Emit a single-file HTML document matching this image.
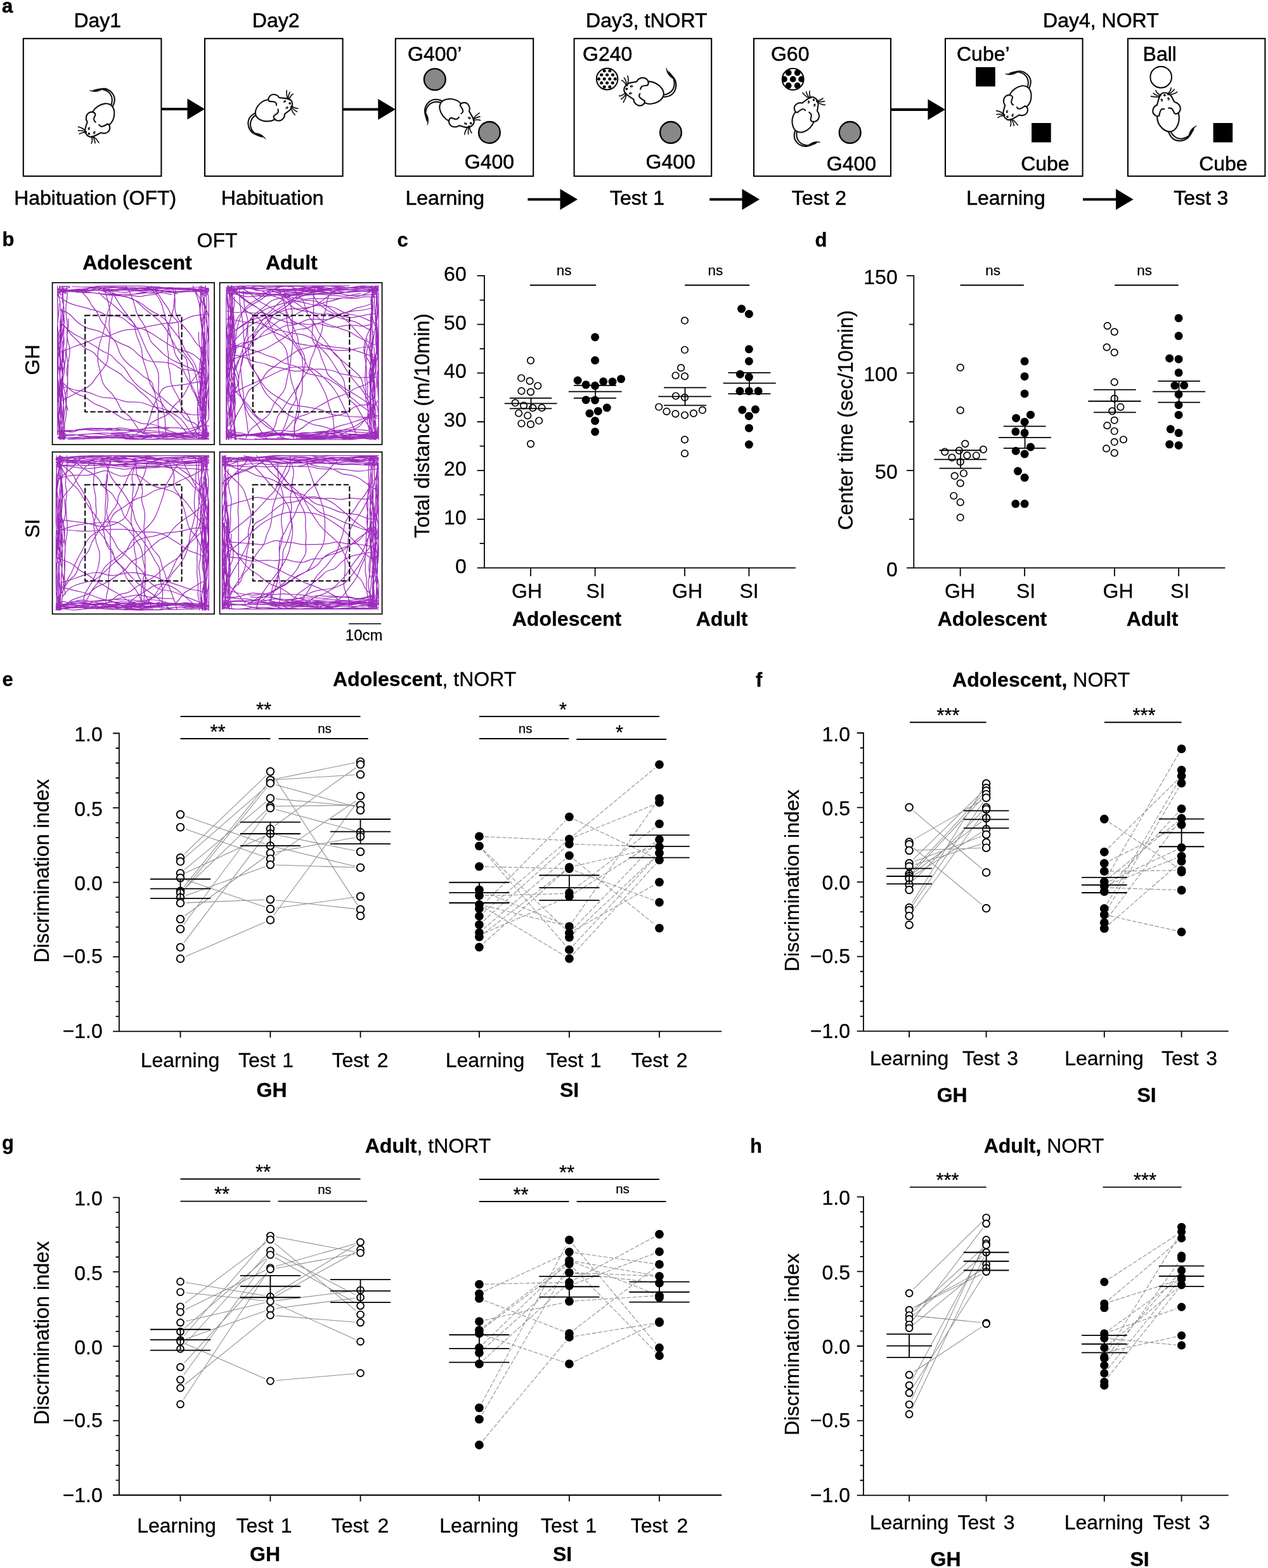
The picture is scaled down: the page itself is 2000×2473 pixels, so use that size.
<!DOCTYPE html>
<html lang="en"><head><meta charset="utf-8"><title>Figure</title>
<style>html,body{margin:0;padding:0;background:#fff}svg{display:block}text{font-family:"Liberation Sans", "DejaVu Sans", sans-serif;fill:#000;stroke:#000;stroke-width:0.3px;stroke-linejoin:round}#panel-a text{stroke-width:0.55px}#panel-b text{stroke-width:0.4px}</style>
</head><body>
<svg width="2000" height="2473" viewBox="0 0 2000 2473" font-family='"Liberation Sans", "DejaVu Sans", sans-serif' font-size="32">
<rect width="2000" height="2473" fill="#fff"/>
<defs>
<pattern id="stip" width="1.6" height="2.8" patternUnits="userSpaceOnUse"><rect width="1.6" height="2.8" fill="#ececec"/><circle cx="0.4" cy="0.7" r="0.62" fill="#1c1c1c"/><circle cx="1.2" cy="2.1" r="0.62" fill="#1c1c1c"/></pattern>
</defs>
<g id="panel-a">
<text x="3" y="19.5" font-weight="bold" font-size="31">a</text>
<rect x="36.8" y="60.8" width="217.6" height="217" fill="#fff" stroke="#000" stroke-width="2.05"/>
<rect x="323" y="60.8" width="217.6" height="217" fill="#fff" stroke="#000" stroke-width="2.05"/>
<rect x="623.8" y="60.8" width="217.4" height="217" fill="#fff" stroke="#000" stroke-width="2.05"/>
<rect x="905.6" y="60.8" width="216.6" height="217" fill="#fff" stroke="#000" stroke-width="2.05"/>
<rect x="1189" y="60.8" width="216" height="217" fill="#fff" stroke="#000" stroke-width="2.05"/>
<rect x="1491" y="60.8" width="216.6" height="217" fill="#fff" stroke="#000" stroke-width="2.05"/>
<rect x="1779" y="60.8" width="216.4" height="217" fill="#fff" stroke="#000" stroke-width="2.05"/>
<text x="153.8" y="43.2" text-anchor="middle">Day1</text>
<text x="435.2" y="43.2" text-anchor="middle">Day2</text>
<text x="1019.8" y="43.2" text-anchor="middle">Day3, tNORT</text>
<text x="1736.4" y="43.2" text-anchor="middle">Day4, NORT</text>
<text x="150.2" y="322.5" text-anchor="middle">Habituation (OFT)</text>
<text x="429.7" y="322.5" text-anchor="middle">Habituation</text>
<text x="701.8" y="322.5" text-anchor="middle">Learning</text>
<text x="1005" y="322.5" text-anchor="middle" word-spacing="0.7">Test 1</text>
<text x="1291.9" y="322.5" text-anchor="middle" word-spacing="0.7">Test 2</text>
<text x="1586.4" y="322.5" text-anchor="middle">Learning</text>
<text x="1894.3" y="322.5" text-anchor="middle" word-spacing="0.7">Test 3</text>
<path d="M254.4 172H296.5" stroke="#000" stroke-width="4.2" fill="none"/><path d="M323 172L295.5 155.6L295.5 188.4Z" fill="#000"/>
<path d="M540.6 172.5H597.3" stroke="#000" stroke-width="4.2" fill="none"/><path d="M623.8 172.5L596.3 156.1L596.3 188.9Z" fill="#000"/>
<path d="M1405 172.8H1464.5" stroke="#000" stroke-width="4.2" fill="none"/><path d="M1491 172.8L1463.5 156.4L1463.5 189.2Z" fill="#000"/>
<path d="M832.4 314.5H884.5" stroke="#000" stroke-width="4.2" fill="none"/><path d="M911 314.5L883.5 298.1L883.5 330.9Z" fill="#000"/>
<path d="M1119.2 314.5H1171.5" stroke="#000" stroke-width="4.2" fill="none"/><path d="M1198 314.5L1170.5 298.1L1170.5 330.9Z" fill="#000"/>
<path d="M1708 314.5H1761.1" stroke="#000" stroke-width="4.2" fill="none"/><path d="M1787.6 314.5L1760.1 298.1L1760.1 330.9Z" fill="#000"/>
<circle cx="685.8" cy="125.3" r="16.9" fill="url(#stip)" stroke="#000" stroke-width="2.3"/>
<circle cx="771.9" cy="208.9" r="16.9" fill="url(#stip)" stroke="#000" stroke-width="2.3"/>
<circle cx="1058" cy="208.9" r="16.9" fill="url(#stip)" stroke="#000" stroke-width="2.3"/>
<circle cx="1340.7" cy="208.9" r="16.9" fill="url(#stip)" stroke="#000" stroke-width="2.3"/>
<circle cx="957.6" cy="124.6" r="16.8" fill="#fff" stroke="#000" stroke-width="2"/>
<g fill="#000"><circle cx="953.2" cy="111.7" r="2.5"/><circle cx="961.8" cy="111.7" r="2.5"/><circle cx="948.7" cy="118" r="2.5"/><circle cx="957.6" cy="118" r="2.5"/><circle cx="966.5" cy="118" r="2.5"/><circle cx="944.5" cy="124.6" r="2.5"/><circle cx="953.2" cy="124.6" r="2.5"/><circle cx="961.8" cy="124.6" r="2.5"/><circle cx="970.3" cy="124.6" r="2.5"/><circle cx="948.7" cy="130.7" r="2.5"/><circle cx="957.6" cy="130.7" r="2.5"/><circle cx="966.2" cy="130.7" r="2.5"/><circle cx="953.2" cy="137" r="2.5"/><circle cx="961.8" cy="137" r="2.5"/></g>
<clipPath id="c60"><circle cx="1250.7" cy="124.9" r="17.2"/></clipPath>
<circle cx="1250.7" cy="124.9" r="16.9" fill="#fff" stroke="#000" stroke-width="2"/>
<g fill="#000" clip-path="url(#c60)"><circle cx="1250.7" cy="124.9" r="4.9"/><circle cx="1243.7" cy="114.8" r="4.9"/><circle cx="1257.7" cy="114.8" r="4.9"/><circle cx="1236.9" cy="124.9" r="4.9"/><circle cx="1264.1" cy="124.9" r="4.9"/><circle cx="1243.7" cy="135" r="4.9"/><circle cx="1257.7" cy="135" r="4.9"/></g>
<rect x="1539.2" y="105.9" width="30.6" height="30.5" fill="#000"/>
<rect x="1627.1" y="194" width="30.6" height="30.5" fill="#000"/>
<rect x="1913.6" y="194" width="30.6" height="30.5" fill="#000"/>
<circle cx="1831.2" cy="121.7" r="16.8" fill="#fff" stroke="#000" stroke-width="2"/>
<text x="685.7" y="96.1" text-anchor="middle">G400’</text>
<text x="772" y="265.9" text-anchor="middle">G400</text>
<text x="958.2" y="96.1" text-anchor="middle">G240</text>
<text x="1057.7" y="265.9" text-anchor="middle">G400</text>
<text x="1246.2" y="96.1" text-anchor="middle">G60</text>
<text x="1343" y="269.2" text-anchor="middle">G400</text>
<text x="1550.8" y="96.3" text-anchor="middle">Cube’</text>
<text x="1648.4" y="269.1" text-anchor="middle">Cube</text>
<text x="1829.3" y="96.1" text-anchor="middle">Ball</text>
<text x="1929.4" y="269.1" text-anchor="middle">Cube</text>
<g transform="translate(175.7 166.2) rotate(0) scale(0.06912) translate(-1095.13 -668.36)"><g fill="none" stroke="#111" stroke-width="31" stroke-linecap="round" stroke-linejoin="round">
<path d="M1128 684C1162 620 1182 556 1162 478C1140 398 1062 310 950 288C860 272 770 312 700 322"/>
<path d="M1086 662C1112 608 1120 540 1100 470C1076 392 1000 324 905 306"/>
<path d="M600 327C650 360 730 366 800 343C850 325 900 302 945 290C880 284 800 300 740 320C690 334 640 336 600 327Z" fill="#111" stroke-width="9"/>
<path d="M665 818C720 720 830 642 950 627C1010 621 1060 640 1095 668C1140 710 1165 780 1162 860C1158 960 1110 1060 1045 1112" fill="#fff"/>
<path d="M665 820C620 815 570 835 540 880C515 920 512 985 532 1022C542 1036 548 1042 545 1052C530 1100 505 1160 497 1200C490 1250 505 1312 540 1350C570 1385 620 1396 660 1385C720 1366 800 1322 860 1290C900 1312 950 1312 1000 1285C1045 1258 1065 1210 1058 1160C1052 1125 1030 1098 1000 1095" fill="#fff"/>
<path d="M1000 1095C960 1120 900 1160 860 1150C840 1145 825 1130 815 1110"/>
<path d="M665 822C700 828 728 850 730 880C725 910 690 950 695 990C700 1020 715 1040 735 1052"/>
<g stroke-width="24">
<path d="M525 1270C470 1210 400 1170 340 1160"/>
<path d="M520 1277C460 1246 400 1240 340 1247"/>
<path d="M520 1287C460 1280 400 1295 365 1322"/>
<path d="M640 1376C662 1430 660 1490 640 1535"/>
<path d="M660 1376C700 1420 720 1480 722 1530"/>
<path d="M680 1373C730 1410 780 1470 808 1522"/>
</g>
<ellipse cx="585" cy="1195" rx="24" ry="36" transform="rotate(28 585 1195)" fill="#111" stroke="none"/>
<ellipse cx="708" cy="1288" rx="24" ry="36" transform="rotate(28 708 1288)" fill="#111" stroke="none"/>
<circle cx="596" cy="1190" r="10" fill="#fff" stroke="none"/>
<circle cx="720" cy="1283" r="10" fill="#fff" stroke="none"/>
<circle cx="583" cy="1316" r="27" fill="#111" stroke="none"/>
</g></g>
<g transform="translate(403.2 180.8) rotate(-146.58) scale(0.06884) translate(-1095.13 -668.36)"><g fill="none" stroke="#111" stroke-width="31" stroke-linecap="round" stroke-linejoin="round">
<path d="M1128 684C1162 620 1182 556 1162 478C1140 398 1062 310 950 288C860 272 770 312 700 322"/>
<path d="M1086 662C1112 608 1120 540 1100 470C1076 392 1000 324 905 306"/>
<path d="M600 327C650 360 730 366 800 343C850 325 900 302 945 290C880 284 800 300 740 320C690 334 640 336 600 327Z" fill="#111" stroke-width="9"/>
<path d="M665 818C720 720 830 642 950 627C1010 621 1060 640 1095 668C1140 710 1165 780 1162 860C1158 960 1110 1060 1045 1112" fill="#fff"/>
<path d="M665 820C620 815 570 835 540 880C515 920 512 985 532 1022C542 1036 548 1042 545 1052C530 1100 505 1160 497 1200C490 1250 505 1312 540 1350C570 1385 620 1396 660 1385C720 1366 800 1322 860 1290C900 1312 950 1312 1000 1285C1045 1258 1065 1210 1058 1160C1052 1125 1030 1098 1000 1095" fill="#fff"/>
<path d="M1000 1095C960 1120 900 1160 860 1150C840 1145 825 1130 815 1110"/>
<path d="M665 822C700 828 728 850 730 880C725 910 690 950 695 990C700 1020 715 1040 735 1052"/>
<g stroke-width="24">
<path d="M525 1270C470 1210 400 1170 340 1160"/>
<path d="M520 1277C460 1246 400 1240 340 1247"/>
<path d="M520 1287C460 1280 400 1295 365 1322"/>
<path d="M640 1376C662 1430 660 1490 640 1535"/>
<path d="M660 1376C700 1420 720 1480 722 1530"/>
<path d="M680 1373C730 1410 780 1470 808 1522"/>
</g>
<ellipse cx="585" cy="1195" rx="24" ry="36" transform="rotate(28 585 1195)" fill="#111" stroke="none"/>
<ellipse cx="708" cy="1288" rx="24" ry="36" transform="rotate(28 708 1288)" fill="#111" stroke="none"/>
<circle cx="596" cy="1190" r="10" fill="#fff" stroke="none"/>
<circle cx="720" cy="1283" r="10" fill="#fff" stroke="none"/>
<circle cx="583" cy="1316" r="27" fill="#111" stroke="none"/>
</g></g>
<g transform="translate(695.9 161.4) rotate(-93.07) scale(0.06942) translate(-1095.13 -668.36)"><g fill="none" stroke="#111" stroke-width="31" stroke-linecap="round" stroke-linejoin="round">
<path d="M1128 684C1162 620 1182 556 1162 478C1140 398 1062 310 950 288C860 272 770 312 700 322"/>
<path d="M1086 662C1112 608 1120 540 1100 470C1076 392 1000 324 905 306"/>
<path d="M600 327C650 360 730 366 800 343C850 325 900 302 945 290C880 284 800 300 740 320C690 334 640 336 600 327Z" fill="#111" stroke-width="9"/>
<path d="M665 818C720 720 830 642 950 627C1010 621 1060 640 1095 668C1140 710 1165 780 1162 860C1158 960 1110 1060 1045 1112" fill="#fff"/>
<path d="M665 820C620 815 570 835 540 880C515 920 512 985 532 1022C542 1036 548 1042 545 1052C530 1100 505 1160 497 1200C490 1250 505 1312 540 1350C570 1385 620 1396 660 1385C720 1366 800 1322 860 1290C900 1312 950 1312 1000 1285C1045 1258 1065 1210 1058 1160C1052 1125 1030 1098 1000 1095" fill="#fff"/>
<path d="M1000 1095C960 1120 900 1160 860 1150C840 1145 825 1130 815 1110"/>
<path d="M665 822C700 828 728 850 730 880C725 910 690 950 695 990C700 1020 715 1040 735 1052"/>
<g stroke-width="24">
<path d="M525 1270C470 1210 400 1170 340 1160"/>
<path d="M520 1277C460 1246 400 1240 340 1247"/>
<path d="M520 1287C460 1280 400 1295 365 1322"/>
<path d="M640 1376C662 1430 660 1490 640 1535"/>
<path d="M660 1376C700 1420 720 1480 722 1530"/>
<path d="M680 1373C730 1410 780 1470 808 1522"/>
</g>
<ellipse cx="585" cy="1195" rx="24" ry="36" transform="rotate(28 585 1195)" fill="#111" stroke="none"/>
<ellipse cx="708" cy="1288" rx="24" ry="36" transform="rotate(28 708 1288)" fill="#111" stroke="none"/>
<circle cx="596" cy="1190" r="10" fill="#fff" stroke="none"/>
<circle cx="720" cy="1283" r="10" fill="#fff" stroke="none"/>
<circle cx="583" cy="1316" r="27" fill="#111" stroke="none"/>
</g></g>
<g transform="translate(1046.6 150.3) rotate(-298.57) scale(0.07147) translate(-1095.13 -668.36)"><g fill="none" stroke="#111" stroke-width="31" stroke-linecap="round" stroke-linejoin="round">
<path d="M1128 684C1162 620 1182 556 1162 478C1140 398 1062 310 950 288C860 272 770 312 700 322"/>
<path d="M1086 662C1112 608 1120 540 1100 470C1076 392 1000 324 905 306"/>
<path d="M600 327C650 360 730 366 800 343C850 325 900 302 945 290C880 284 800 300 740 320C690 334 640 336 600 327Z" fill="#111" stroke-width="9"/>
<path d="M665 818C720 720 830 642 950 627C1010 621 1060 640 1095 668C1140 710 1165 780 1162 860C1158 960 1110 1060 1045 1112" fill="#fff"/>
<path d="M665 820C620 815 570 835 540 880C515 920 512 985 532 1022C542 1036 548 1042 545 1052C530 1100 505 1160 497 1200C490 1250 505 1312 540 1350C570 1385 620 1396 660 1385C720 1366 800 1322 860 1290C900 1312 950 1312 1000 1285C1045 1258 1065 1210 1058 1160C1052 1125 1030 1098 1000 1095" fill="#fff"/>
<path d="M1000 1095C960 1120 900 1160 860 1150C840 1145 825 1130 815 1110"/>
<path d="M665 822C700 828 728 850 730 880C725 910 690 950 695 990C700 1020 715 1040 735 1052"/>
<g stroke-width="24">
<path d="M525 1270C470 1210 400 1170 340 1160"/>
<path d="M520 1277C460 1246 400 1240 340 1247"/>
<path d="M520 1287C460 1280 400 1295 365 1322"/>
<path d="M640 1376C662 1430 660 1490 640 1535"/>
<path d="M660 1376C700 1420 720 1480 722 1530"/>
<path d="M680 1373C730 1410 780 1470 808 1522"/>
</g>
<ellipse cx="585" cy="1195" rx="24" ry="36" transform="rotate(28 585 1195)" fill="#111" stroke="none"/>
<ellipse cx="708" cy="1288" rx="24" ry="36" transform="rotate(28 708 1288)" fill="#111" stroke="none"/>
<circle cx="596" cy="1190" r="10" fill="#fff" stroke="none"/>
<circle cx="720" cy="1283" r="10" fill="#fff" stroke="none"/>
<circle cx="583" cy="1316" r="27" fill="#111" stroke="none"/>
</g></g>
<g transform="translate(1256.4 207) rotate(-189.55) scale(0.06810) translate(-1095.13 -668.36)"><g fill="none" stroke="#111" stroke-width="31" stroke-linecap="round" stroke-linejoin="round">
<path d="M1128 684C1162 620 1182 556 1162 478C1140 398 1062 310 950 288C860 272 770 312 700 322"/>
<path d="M1086 662C1112 608 1120 540 1100 470C1076 392 1000 324 905 306"/>
<path d="M600 327C650 360 730 366 800 343C850 325 900 302 945 290C880 284 800 300 740 320C690 334 640 336 600 327Z" fill="#111" stroke-width="9"/>
<path d="M665 818C720 720 830 642 950 627C1010 621 1060 640 1095 668C1140 710 1165 780 1162 860C1158 960 1110 1060 1045 1112" fill="#fff"/>
<path d="M665 820C620 815 570 835 540 880C515 920 512 985 532 1022C542 1036 548 1042 545 1052C530 1100 505 1160 497 1200C490 1250 505 1312 540 1350C570 1385 620 1396 660 1385C720 1366 800 1322 860 1290C900 1312 950 1312 1000 1285C1045 1258 1065 1210 1058 1160C1052 1125 1030 1098 1000 1095" fill="#fff"/>
<path d="M1000 1095C960 1120 900 1160 860 1150C840 1145 825 1130 815 1110"/>
<path d="M665 822C700 828 728 850 730 880C725 910 690 950 695 990C700 1020 715 1040 735 1052"/>
<g stroke-width="24">
<path d="M525 1270C470 1210 400 1170 340 1160"/>
<path d="M520 1277C460 1246 400 1240 340 1247"/>
<path d="M520 1287C460 1280 400 1295 365 1322"/>
<path d="M640 1376C662 1430 660 1490 640 1535"/>
<path d="M660 1376C700 1420 720 1480 722 1530"/>
<path d="M680 1373C730 1410 780 1470 808 1522"/>
</g>
<ellipse cx="585" cy="1195" rx="24" ry="36" transform="rotate(28 585 1195)" fill="#111" stroke="none"/>
<ellipse cx="708" cy="1288" rx="24" ry="36" transform="rotate(28 708 1288)" fill="#111" stroke="none"/>
<circle cx="596" cy="1190" r="10" fill="#fff" stroke="none"/>
<circle cx="720" cy="1283" r="10" fill="#fff" stroke="none"/>
<circle cx="583" cy="1316" r="27" fill="#111" stroke="none"/>
</g></g>
<g transform="translate(1621.2 137.7) rotate(-3.56) scale(0.06860) translate(-1095.13 -668.36)"><g fill="none" stroke="#111" stroke-width="31" stroke-linecap="round" stroke-linejoin="round">
<path d="M1128 684C1162 620 1182 556 1162 478C1140 398 1062 310 950 288C860 272 770 312 700 322"/>
<path d="M1086 662C1112 608 1120 540 1100 470C1076 392 1000 324 905 306"/>
<path d="M600 327C650 360 730 366 800 343C850 325 900 302 945 290C880 284 800 300 740 320C690 334 640 336 600 327Z" fill="#111" stroke-width="9"/>
<path d="M665 818C720 720 830 642 950 627C1010 621 1060 640 1095 668C1140 710 1165 780 1162 860C1158 960 1110 1060 1045 1112" fill="#fff"/>
<path d="M665 820C620 815 570 835 540 880C515 920 512 985 532 1022C542 1036 548 1042 545 1052C530 1100 505 1160 497 1200C490 1250 505 1312 540 1350C570 1385 620 1396 660 1385C720 1366 800 1322 860 1290C900 1312 950 1312 1000 1285C1045 1258 1065 1210 1058 1160C1052 1125 1030 1098 1000 1095" fill="#fff"/>
<path d="M1000 1095C960 1120 900 1160 860 1150C840 1145 825 1130 815 1110"/>
<path d="M665 822C700 828 728 850 730 880C725 910 690 950 695 990C700 1020 715 1040 735 1052"/>
<g stroke-width="24">
<path d="M525 1270C470 1210 400 1170 340 1160"/>
<path d="M520 1277C460 1246 400 1240 340 1247"/>
<path d="M520 1287C460 1280 400 1295 365 1322"/>
<path d="M640 1376C662 1430 660 1490 640 1535"/>
<path d="M660 1376C700 1420 720 1480 722 1530"/>
<path d="M680 1373C730 1410 780 1470 808 1522"/>
</g>
<ellipse cx="585" cy="1195" rx="24" ry="36" transform="rotate(28 585 1195)" fill="#111" stroke="none"/>
<ellipse cx="708" cy="1288" rx="24" ry="36" transform="rotate(28 708 1288)" fill="#111" stroke="none"/>
<circle cx="596" cy="1190" r="10" fill="#fff" stroke="none"/>
<circle cx="720" cy="1283" r="10" fill="#fff" stroke="none"/>
<circle cx="583" cy="1316" r="27" fill="#111" stroke="none"/>
</g></g>
<g transform="translate(1845.8 207.6) rotate(-227.1) scale(0.07045) translate(-1095.13 -668.36)"><g fill="none" stroke="#111" stroke-width="31" stroke-linecap="round" stroke-linejoin="round">
<path d="M1128 684C1162 620 1182 556 1162 478C1140 398 1062 310 950 288C860 272 770 312 700 322"/>
<path d="M1086 662C1112 608 1120 540 1100 470C1076 392 1000 324 905 306"/>
<path d="M600 327C650 360 730 366 800 343C850 325 900 302 945 290C880 284 800 300 740 320C690 334 640 336 600 327Z" fill="#111" stroke-width="9"/>
<path d="M665 818C720 720 830 642 950 627C1010 621 1060 640 1095 668C1140 710 1165 780 1162 860C1158 960 1110 1060 1045 1112" fill="#fff"/>
<path d="M665 820C620 815 570 835 540 880C515 920 512 985 532 1022C542 1036 548 1042 545 1052C530 1100 505 1160 497 1200C490 1250 505 1312 540 1350C570 1385 620 1396 660 1385C720 1366 800 1322 860 1290C900 1312 950 1312 1000 1285C1045 1258 1065 1210 1058 1160C1052 1125 1030 1098 1000 1095" fill="#fff"/>
<path d="M1000 1095C960 1120 900 1160 860 1150C840 1145 825 1130 815 1110"/>
<path d="M665 822C700 828 728 850 730 880C725 910 690 950 695 990C700 1020 715 1040 735 1052"/>
<g stroke-width="24">
<path d="M525 1270C470 1210 400 1170 340 1160"/>
<path d="M520 1277C460 1246 400 1240 340 1247"/>
<path d="M520 1287C460 1280 400 1295 365 1322"/>
<path d="M640 1376C662 1430 660 1490 640 1535"/>
<path d="M660 1376C700 1420 720 1480 722 1530"/>
<path d="M680 1373C730 1410 780 1470 808 1522"/>
</g>
<ellipse cx="585" cy="1195" rx="24" ry="36" transform="rotate(28 585 1195)" fill="#111" stroke="none"/>
<ellipse cx="708" cy="1288" rx="24" ry="36" transform="rotate(28 708 1288)" fill="#111" stroke="none"/>
<circle cx="596" cy="1190" r="10" fill="#fff" stroke="none"/>
<circle cx="720" cy="1283" r="10" fill="#fff" stroke="none"/>
<circle cx="583" cy="1316" r="27" fill="#111" stroke="none"/>
</g></g>
</g>
<g id="panel-b">
<text x="3.5" y="387.6" font-weight="bold" font-size="31">b</text>
<text x="342.6" y="390.3" text-anchor="middle">OFT</text>
<text x="216.4" y="425" text-anchor="middle" font-weight="bold">Adolescent</text>
<text x="459.8" y="425" text-anchor="middle" font-weight="bold">Adult</text>
<text x="62.4" y="567.5" text-anchor="middle" transform="rotate(-90 62.4 567.5)">GH</text>
<text x="62.4" y="833.4" text-anchor="middle" transform="rotate(-90 62.4 833.4)">SI</text>
<g fill="none" stroke="#9d2bbd" stroke-width="1.25" stroke-linejoin="round" stroke-linecap="round">
<path d="M114.3 452Q128.7 453 135.9 452.7Q143.1 452.5 150.4 452.6Q157.6 452.7 164.8 453.5Q172 454.3 179.2 453.7Q186.4 453.1 193.7 453.2L200.9 453.3M90.6 460.1Q103.6 458.7 110.1 459.6Q116.6 460.4 123.1 460Q129.5 459.6 136 460.3Q142.5 460.9 149 462.1Q155.5 463.2 162 463.7Q168.5 464.2 175 464.5Q181.5 464.8 188 464.4Q194.4 464 200.9 464.2Q207.4 464.5 213.9 463.8Q220.4 463.1 226.9 462.3L233.4 461.4M90.6 460.9Q102.4 460.1 108.4 459.8Q114.3 459.5 120.2 460.5Q126.1 461.6 132.1 461.6Q138 461.5 143.9 461.7Q149.8 461.9 155.8 463.1Q161.7 464.4 167.6 464.8Q173.5 465.2 179.5 465.9Q185.4 466.6 191.3 466.6Q197.2 466.6 203.2 466.2Q209.1 465.8 215 467.1Q220.9 468.3 226.9 466.6Q232.8 464.9 238.7 464.9Q244.6 464.8 250.6 462.1Q256.5 459.4 262.4 459.5Q268.3 459.6 274.3 461.5L280.2 463.4M90.6 456.8Q102.9 457.7 109 457.4Q115.1 457.1 121.3 456.2Q127.4 455.3 133.5 456.9Q139.7 458.5 145.8 456.6Q151.9 454.6 158.1 454.6Q164.2 454.7 170.3 455.7Q176.5 456.8 182.6 457.2Q188.7 457.5 194.9 456.7Q201 456 207.1 456.8Q213.3 457.7 219.4 457.8Q225.6 458 231.7 458.9Q237.8 459.8 244 459.7Q250.1 459.6 256.2 457.8Q262.4 456 268.5 456Q274.6 456 280.8 456.6Q286.9 457.2 293 457.7L299.2 458.3M90.6 455.9Q102.8 457.4 108.9 458.2Q115.1 459.1 121.2 459Q127.3 458.9 133.4 459Q139.5 459.1 145.6 458.4Q151.7 457.7 157.8 455.8Q164 453.8 170.1 453Q176.2 452.2 182.3 453.4Q188.4 454.6 194.5 454.2Q200.6 453.9 206.7 453.6Q212.9 453.4 219 454.7Q225.1 456 231.2 454.6Q237.3 453.3 243.4 453.4Q249.5 453.5 255.6 454.5L261.8 455.5M165.2 457.3Q177.9 457.9 184.2 457.7Q190.5 457.5 196.8 457.5Q203.1 457.5 209.4 457.5Q215.8 457.4 222.1 457.2Q228.4 457 234.7 457.3Q241 457.7 247.3 458.1Q253.6 458.4 259.9 457Q266.3 455.6 272.6 455.7Q278.9 455.9 285.2 455.1Q291.5 454.4 297.8 455.7Q304.1 457 310.5 456.8Q316.8 456.6 323.1 457.3L329.4 458M213.7 463.4Q226.6 460.4 233 461.7Q239.4 463.1 245.9 462Q252.3 460.9 258.7 459.5Q265.1 458.2 271.6 459.1Q278 459.9 284.4 459.6Q290.8 459.2 297.3 459.7Q303.7 460.1 310.1 459.9Q316.5 459.7 323 459.7L329.4 459.8M90.6 456.6Q102.5 456.5 108.5 457.3Q114.5 458.1 120.4 457.9Q126.4 457.7 132.4 458Q138.4 458.3 144.3 457.5Q150.3 456.7 156.3 457.7Q162.2 458.7 168.2 459.2Q174.2 459.7 180.2 458.2Q186.1 456.7 192.1 456.3Q198.1 456 204 455.8Q210 455.6 216 455.1Q221.9 454.6 227.9 456Q233.9 457.4 239.8 457.2Q245.8 457.1 251.8 458.3Q257.8 459.6 263.7 460.7Q269.7 461.8 275.7 461.1Q281.6 460.5 287.6 460.5Q293.6 460.4 299.5 459.7Q305.5 459 311.5 458.7Q317.5 458.3 323.4 457.3L329.4 456.4M193.1 456Q205.5 457.5 211.7 457.8Q217.9 458 224.1 458.1Q230.3 458.2 236.5 457Q242.7 455.8 248.8 455.3Q255 454.8 261.2 455.2Q267.4 455.6 273.6 455.2Q279.8 454.8 286 455.3Q292.2 455.7 298.4 456.1Q304.6 456.5 310.8 456.3Q317 456 323.2 457L329.4 458M90.6 459.8Q102.5 458.1 108.5 458.4Q114.5 458.6 120.5 457.3Q126.4 456 132.4 455.5Q138.4 455.1 144.3 454.2Q150.3 453.3 156.3 453.2Q162.3 453.1 168.2 452.8Q174.2 452.4 180.2 452.7Q186.1 452.9 192.1 453.8Q198.1 454.6 204.1 456.4Q210 458.3 216 456Q222 453.7 227.9 454.4Q233.9 455 239.9 453.7Q245.9 452.4 251.8 453.4Q257.8 454.5 263.8 455Q269.7 455.5 275.7 455.3Q281.7 455.2 287.7 455.7Q293.6 456.2 299.6 457.2L305.6 458.2M115.9 459.7Q127.8 458.6 133.7 458.4Q139.7 458.3 145.6 458.1Q151.6 457.9 157.5 457.4Q163.5 457 169.4 458.1Q175.4 459.2 181.3 460Q187.3 460.7 193.2 461Q199.2 461.3 205.1 459.8Q211.1 458.3 217 458.8Q223 459.2 228.9 460.7Q234.9 462.3 240.8 461.8Q246.8 461.4 252.7 461.6Q258.7 461.8 264.7 463.3L270.6 464.7M182.8 458.6Q195 456.9 201.1 456.3Q207.2 455.6 213.4 454.7Q219.5 453.7 225.6 454.6Q231.7 455.5 237.8 455.5Q243.9 455.4 250 455Q256.1 454.7 262.2 453.8Q268.3 453 274.4 454.1Q280.5 455.2 286.6 455.7Q292.8 456.3 298.9 455.7Q305 455 311.1 456Q317.2 457.1 323.3 456.9L329.4 456.7M90.6 456.5Q103.4 457.2 109.9 458.1Q116.3 459 122.7 458Q129.1 457 135.6 455.4Q142 453.8 148.4 452.4Q154.8 451 161.3 451Q167.7 451 174.1 451Q180.5 451 186.9 451.1L193.4 451.2M90.6 461.6Q102.6 458.6 108.6 458.1Q114.6 457.5 120.6 457.4Q126.5 457.3 132.5 457.3Q138.5 457.4 144.5 457.5Q150.5 457.6 156.5 458Q162.5 458.5 168.5 458Q174.5 457.5 180.5 456.7Q186.4 456 192.4 455.8Q198.4 455.5 204.4 455.7Q210.4 455.9 216.4 454.4Q222.4 452.9 228.4 454Q234.4 455.1 240.4 455.7Q246.3 456.3 252.3 458Q258.3 459.7 264.3 459.5L270.3 459.3M138.3 454.5Q150.9 454.6 157.3 455Q163.6 455.5 170 456.5Q176.3 457.5 182.6 457.5Q189 457.5 195.3 456.5Q201.6 455.6 208 455.1Q214.3 454.6 220.7 454.6Q227 454.6 233.3 456.1Q239.7 457.6 246 456.1Q252.4 454.6 258.7 454.8L265 455M214.2 455.1Q227 454.1 233.4 453.1Q239.8 452 246.2 452.4Q252.6 452.7 259 453.7Q265.4 454.7 271.8 454.3Q278.2 453.8 284.6 454.2Q291 454.7 297.4 454.3Q303.8 453.9 310.2 453Q316.6 452.1 323 453.9L329.4 455.7M326.8 455.9Q328.9 468 329.2 474.1Q329.4 480.2 329.4 486.2Q329.4 492.3 329.4 498.4Q329.4 504.5 329.4 510.5Q329.4 516.6 329.4 522.7Q329.4 528.7 327.9 534.8Q326.4 540.9 326.8 546.9Q327.2 553 327.2 559.1Q327.2 565.2 328.3 571.2Q329.4 577.3 329.3 583.4Q329.3 589.4 329.3 595.5Q329.4 601.6 329.4 607.6Q329.4 613.7 329.4 619.8Q329.4 625.8 328.8 631.9Q328.2 638 328.8 644.1L329.4 650.1M323.7 451Q324.9 463.1 325.6 469.1Q326.2 475.2 326 481.2Q325.8 487.3 324 493.3Q322.3 499.4 322.6 505.4Q322.9 511.5 322.9 517.5Q323 523.6 323.2 529.6Q323.4 535.7 321.5 541.7Q319.6 547.8 319.7 553.8Q319.8 559.9 320.6 565.9Q321.3 572 321.2 578Q321.1 584 320.6 590.1Q320.1 596.1 318.4 602.2Q316.6 608.2 316.7 614.3Q316.8 620.3 318.6 626.4Q320.3 632.4 319.8 638.5Q319.2 644.5 319.1 650.6Q319 656.6 320.9 662.7Q322.9 668.7 323.4 674.8Q324 680.8 323 686.9L322.1 692.9M321.6 568.7Q324.9 581.2 324.8 587.4Q324.7 593.6 324.6 599.8Q324.5 606 323.9 612.2Q323.2 618.4 324.9 624.6Q326.5 630.8 325.7 637Q325 643.2 324.4 649.4Q323.8 655.7 324.5 661.9Q325.1 668.1 325.3 674.3Q325.5 680.5 324.5 686.7L323.5 692.9M323.1 540Q322.5 552.7 322.7 559.1Q323 565.4 321.9 571.8Q320.7 578.2 319.1 584.6Q317.5 590.9 319 597.3Q320.5 603.7 322.3 610.1Q324.2 616.4 323.7 622.8Q323.2 629.2 323.8 635.5Q324.5 641.9 323.1 648.3Q321.8 654.7 323.4 661Q325 667.4 324.6 673.8Q324.2 680.2 324.6 686.5L325.1 692.9M322.4 579.2Q321.3 591.8 322.6 598.2Q323.9 604.5 323.6 610.8Q323.3 617.1 322.5 623.4Q321.7 629.7 321.7 636.1Q321.7 642.4 320.6 648.7Q319.5 655 320.3 661.3Q321.1 667.6 320 674Q318.8 680.3 318.4 686.6L318.1 692.9M317.8 569.4Q318.2 581.8 318 588Q317.8 594.1 316.9 600.3Q316 606.5 318.3 612.6Q320.6 618.8 320.2 625Q319.8 631.2 321.1 637.3Q322.4 643.5 322.1 649.7Q321.9 655.9 321.2 662Q320.4 668.2 320.9 674.4Q321.4 680.6 321 686.7L320.6 692.9M317.5 547.5Q319.4 559.6 319.6 565.7Q319.7 571.7 318.5 577.8Q317.3 583.9 316.8 589.9Q316.2 596 317 602Q317.8 608.1 317.1 614.2Q316.5 620.2 316.1 626.3Q315.7 632.3 315.2 638.4Q314.7 644.4 315.1 650.5Q315.4 656.6 317 662.6Q318.6 668.7 319.1 674.7Q319.6 680.8 320.3 686.8L321.1 692.9M324.9 552.4Q324.9 565.1 323.9 571.5Q322.8 577.9 323.9 584.3Q324.9 590.7 324 597.1Q323 603.5 323.6 609.9Q324.2 616.2 325.6 622.6Q326.9 629 326.1 635.4Q325.3 641.8 325.3 648.2Q325.3 654.6 324.6 661Q324 667.3 325.8 673.7Q327.6 680.1 326.9 686.5L326.2 692.9M316 451Q316.5 463.1 316.3 469.1Q316.1 475.2 315.6 481.2Q315.1 487.3 315.2 493.3Q315.4 499.4 317.7 505.4Q320 511.5 319.1 517.5Q318.2 523.6 317.9 529.6Q317.5 535.7 318.2 541.7Q318.9 547.8 318.2 553.8Q317.5 559.9 317.3 565.9Q317.1 572 317.3 578Q317.5 584 317 590.1Q316.5 596.1 316.6 602.2Q316.8 608.2 317.4 614.3Q318 620.3 318.2 626.4Q318.3 632.4 318.2 638.5Q318.1 644.5 319.5 650.6Q320.9 656.6 320 662.7Q319.1 668.7 319.8 674.8Q320.5 680.8 321.3 686.9L322.1 692.9M320.2 498.9Q318 510.7 319.1 516.7Q320.2 522.6 321.3 528.6Q322.4 534.5 321.8 540.4Q321.2 546.4 320.9 552.3Q320.6 558.2 320.9 564.2Q321.2 570.1 319.9 576Q318.7 582 319.7 587.9Q320.8 593.9 319.7 599.8Q318.7 605.7 317.1 611.7Q315.5 617.6 315.3 623.5Q315.1 629.5 313.1 635.4Q311.1 641.4 311.5 647.3Q311.8 653.2 312.4 659.2Q312.9 665.1 312.4 671L311.9 677M318.6 451Q317.7 463.1 317.9 469.1Q318.1 475.2 316.6 481.2Q315.2 487.3 316.1 493.3Q317 499.4 318.3 505.4Q319.5 511.5 319.4 517.5Q319.3 523.6 320 529.6Q320.7 535.7 320.5 541.7Q320.4 547.8 321.3 553.8Q322.2 559.9 323.2 565.9Q324.2 572 324.2 578Q324.2 584 323.8 590.1Q323.5 596.1 324.5 602.2Q325.5 608.2 326.3 614.3Q327.1 620.3 324.4 626.4Q321.7 632.4 321 638.5Q320.3 644.5 319.8 650.6Q319.4 656.6 318.7 662.7Q318.1 668.7 319.6 674.8Q321.1 680.8 319.7 686.9L318.2 692.9M321.3 469.5Q318.4 482.1 319.4 488.4Q320.5 494.6 321.1 500.9Q321.7 507.2 320.6 513.4Q319.6 519.7 319.7 526Q319.9 532.2 320.9 538.5Q321.9 544.8 323 551.1Q324.1 557.3 323.1 563.6Q322.1 569.9 320.9 576.1Q319.6 582.4 321.1 588.7Q322.5 594.9 322.3 601.2Q322.1 607.5 321.4 613.7Q320.8 620 320.5 626.3L320.2 632.6M323.2 534.2Q325.1 546.4 323.7 552.5Q322.3 558.6 321.5 564.7Q320.8 570.8 320.8 576.9Q320.9 583 320.4 589.1Q319.9 595.2 319.8 601.3Q319.6 607.4 317.6 613.5Q315.6 619.6 316.2 625.7Q316.7 631.8 316.3 637.9Q315.9 644.1 317.3 650.2Q318.6 656.3 318.7 662.4Q318.8 668.5 319.5 674.6Q320.3 680.7 319.8 686.8L319.4 692.9M321.3 472.7Q322.4 484.3 322.5 490.1Q322.5 495.9 322.1 501.7Q321.6 507.5 322.7 513.3Q323.8 519.1 322.4 524.9Q321 530.7 321.2 536.5Q321.4 542.3 321.4 548.1Q321.4 553.9 320.7 559.6Q320 565.4 321 571.2Q321.9 577 319.6 582.8Q317.3 588.6 318.2 594.4Q319.1 600.2 319.6 606Q320.1 611.8 320.4 617.6Q320.7 623.4 321.5 629.2Q322.4 635 320.4 640.8Q318.5 646.6 319.6 652.3Q320.7 658.1 320.6 663.9Q320.4 669.7 321.5 675.5Q322.7 681.3 323.6 687.1L324.5 692.9M313.4 524.2Q313 536.3 314.5 542.3Q315.9 548.3 316.9 554.3Q318 560.4 316.5 566.4Q315 572.4 314.9 578.4Q314.7 584.5 314 590.5Q313.3 596.5 315 602.5Q316.6 608.6 315.3 614.6Q314 620.6 312.8 626.6Q311.6 632.7 311.9 638.7Q312.1 644.7 312.4 650.7Q312.7 656.8 312.8 662.8Q312.9 668.8 313.6 674.8Q314.2 680.9 313.7 686.9L313.2 692.9M324.4 451Q323.3 463.1 322.5 469.1Q321.8 475.2 323.6 481.2Q325.4 487.3 325.6 493.3Q325.9 499.4 326.4 505.4Q326.8 511.5 326.4 517.5Q325.9 523.6 325.8 529.6Q325.8 535.7 324.7 541.7Q323.6 547.8 323.9 553.8Q324.2 559.9 324.9 565.9Q325.7 572 326 578Q326.3 584 326.7 590.1Q327 596.1 325.8 602.2Q324.6 608.2 324.5 614.3Q324.4 620.3 323.6 626.4Q322.9 632.4 322.3 638.5Q321.7 644.5 322.8 650.6Q324 656.6 324.1 662.7Q324.2 668.7 323.9 674.8Q323.6 680.8 323.4 686.9L323.3 692.9M90.6 684.3Q102.5 687.8 108.5 687.3Q114.5 686.8 120.4 685.9Q126.4 685.1 132.4 684.8Q138.4 684.6 144.3 684.1Q150.3 683.5 156.3 683.1Q162.2 682.7 168.2 683.1Q174.2 683.5 180.2 682.9Q186.1 682.2 192.1 682.4Q198.1 682.6 204 681.2Q210 679.9 216 681Q221.9 682.1 227.9 683.1Q233.9 684 239.8 685.4Q245.8 686.8 251.8 685.6Q257.8 684.4 263.7 684.4Q269.7 684.3 275.7 683.5Q281.6 682.7 287.6 685.4Q293.6 688.1 299.5 687Q305.5 685.8 311.5 685.5Q317.5 685.3 323.4 684.7L329.4 684.2M90.6 689.5Q102.5 690.6 108.5 691Q114.5 691.4 120.4 690.9Q126.4 690.5 132.4 690.3Q138.4 690 144.3 688.7Q150.3 687.3 156.3 688.3Q162.2 689.2 168.2 689.5Q174.2 689.8 180.2 689.5Q186.1 689.2 192.1 688.5Q198.1 687.8 204 687.8Q210 687.8 216 688.4Q221.9 689 227.9 688.9Q233.9 688.8 239.8 688.8Q245.8 688.7 251.8 688.7Q257.8 688.6 263.7 688.7Q269.7 688.8 275.7 689.2Q281.6 689.7 287.6 691Q293.6 692.4 299.5 692.7Q305.5 692.9 311.5 692.8Q317.5 692.7 323.4 692.8L329.4 692.9M124.2 687.3Q136.6 688.6 142.8 689.2Q149 689.7 155.2 688.8Q161.4 687.9 167.6 688.1Q173.8 688.3 180 687.8Q186.2 687.3 192.4 686.3Q198.6 685.3 204.8 687.2Q211 689.1 217.2 688.7Q223.3 688.3 229.5 688.7Q235.7 689.1 241.9 688.2Q248.1 687.3 254.3 686Q260.5 684.7 266.7 684.7Q272.9 684.6 279.1 684.9Q285.3 685.1 291.5 687.2L297.7 689.2M130.3 677.6Q142.6 676.5 148.8 677Q154.9 677.4 161.1 676.7Q167.3 676 173.4 678.1Q179.6 680.3 185.8 678.9Q191.9 677.6 198.1 678.7Q204.3 679.9 210.4 678.8Q216.6 677.7 222.8 676.9Q228.9 676 235.1 675.2Q241.3 674.4 247.4 674.9Q253.6 675.3 259.8 675.6L265.9 675.8M90.6 679.4Q102.5 679.1 108.5 678.9Q114.5 678.8 120.4 678.5Q126.4 678.2 132.4 677.7Q138.4 677.3 144.3 676.8Q150.3 676.2 156.3 676.8Q162.2 677.3 168.2 675.9Q174.2 674.5 180.2 676.5Q186.1 678.5 192.1 678.3Q198.1 678 204 679Q210 679.9 216 680Q221.9 680 227.9 681.4Q233.9 682.8 239.8 682.2Q245.8 681.7 251.8 682.5Q257.8 683.4 263.7 684Q269.7 684.6 275.7 684.7Q281.6 684.8 287.6 683.6Q293.6 682.4 299.5 682.3Q305.5 682.1 311.5 682.5Q317.5 682.9 323.4 682.4L329.4 682M204.4 688.9Q216.9 689.2 223.1 688.1Q229.4 687 235.6 686.6Q241.9 686.2 248.1 686.7Q254.4 687.2 260.6 687.7Q266.9 688.3 273.1 688.4Q279.4 688.6 285.6 688.7Q291.9 688.9 298.1 688.5Q304.4 688.1 310.6 687.8Q316.9 687.5 323.1 686.4L329.4 685.3M127.3 686.9Q139.2 687.7 145.1 689.2Q151.1 690.7 157 691Q162.9 691.3 168.9 690.6Q174.8 689.8 180.8 689.4Q186.7 689 192.7 690.8Q198.6 692.6 204.6 692.7Q210.5 692.9 216.4 692.9Q222.4 692.9 228.3 692.9Q234.3 692.9 240.2 692.9Q246.2 692.9 252.1 692.9Q258.1 692.9 264 692.9Q270 692.9 275.9 692.9Q281.8 692.9 287.8 692.9Q293.7 692.9 299.7 692.9Q305.6 692.9 311.6 692.9Q317.5 692.9 323.5 692L329.4 691.1M208.4 685.2Q221.9 687.6 228.6 687.2Q235.3 686.9 242 688.3Q248.8 689.8 255.5 691Q262.2 692.3 268.9 691.8Q275.6 691.2 282.4 690.4Q289.1 689.5 295.8 690.2Q302.5 691 309.2 690.9Q316 690.8 322.7 689.6L329.4 688.3M90.6 681.2Q102.5 679.4 108.5 680.8Q114.5 682.2 120.4 679.7Q126.4 677.2 132.4 676.2Q138.4 675.3 144.3 675.4Q150.3 675.5 156.3 675.5Q162.2 675.4 168.2 676Q174.2 676.6 180.2 676.7Q186.1 676.8 192.1 677.8Q198.1 678.9 204 678.3Q210 677.7 216 677.5Q221.9 677.4 227.9 676.2Q233.9 675 239.8 674.3Q245.8 673.6 251.8 673.7Q257.8 673.9 263.7 674.3Q269.7 674.8 275.7 674.7Q281.6 674.6 287.6 676.1Q293.6 677.6 299.5 676Q305.5 674.5 311.5 672.8Q317.5 671.1 323.4 671.4L329.4 671.8M175.5 684.6Q188.4 682.8 194.8 683.8Q201.2 684.8 207.6 685.3Q214 685.8 220.4 686.2Q226.8 686.7 233.2 688Q239.6 689.3 246.1 689Q252.5 688.8 258.9 687.2Q265.3 685.6 271.7 684.8Q278.1 683.9 284.5 683.9Q290.9 683.9 297.3 684.5Q303.8 685.1 310.2 683.5Q316.6 681.9 323 682.7L329.4 683.5M139.7 689.2Q152.1 690.5 158.2 689.8Q164.4 689.2 170.6 689.9Q176.8 690.6 183 690.8Q189.2 691 195.4 690.9Q201.6 690.8 207.7 689.7Q213.9 688.6 220.1 688.9Q226.3 689.3 232.5 689.7L238.7 690.2M99.1 690.5Q111.5 690.4 117.7 689.8Q123.8 689.1 130 690.7Q136.2 692.3 142.4 691.9Q148.6 691.6 154.7 691.4Q160.9 691.2 167.1 690.7Q173.3 690.3 179.4 690.5Q185.6 690.8 191.8 691.2Q198 691.6 204.1 691.7Q210.3 691.7 216.5 692.2Q222.7 692.7 228.8 691.2L235 689.7M180.1 686.1Q192.5 686.8 198.7 687.8Q205 688.8 211.2 688.5Q217.4 688.1 223.6 687.7Q229.9 687.2 236.1 687Q242.3 686.7 248.5 687Q254.7 687.3 261 686.5Q267.2 685.7 273.4 685.9Q279.6 686.2 285.8 686.4Q292.1 686.7 298.3 686.5Q304.5 686.2 310.7 686.2Q317 686.2 323.2 686.6L329.4 686.9M99.2 686Q111.3 684.8 117.3 685.6Q123.4 686.4 129.4 685.7Q135.5 685 141.5 684.5Q147.6 683.9 153.7 684.2Q159.7 684.4 165.8 685.7Q171.8 687 177.9 686Q183.9 685.1 190 685.2Q196 685.2 202.1 686.9Q208.2 688.6 214.2 689.2Q220.3 689.8 226.3 690.2Q232.4 690.6 238.4 689.1Q244.5 687.6 250.5 688.5Q256.6 689.3 262.7 689.3Q268.7 689.2 274.8 687.6Q280.8 685.9 286.9 687.3Q292.9 688.7 299 687L305 685.3M90.6 682.2Q102.5 680.7 108.5 680.2Q114.5 679.7 120.4 678.1Q126.4 676.4 132.4 677.1Q138.4 677.8 144.3 678.6Q150.3 679.4 156.3 679.3Q162.2 679.2 168.2 678.5Q174.2 677.8 180.2 676.1Q186.1 674.4 192.1 675.2Q198.1 676 204 677Q210 677.9 216 678.1Q221.9 678.3 227.9 678.7Q233.9 679.2 239.8 679.5Q245.8 679.8 251.8 680.5Q257.8 681.2 263.7 682.3Q269.7 683.3 275.7 683.4Q281.6 683.5 287.6 682.7Q293.6 681.8 299.5 682.8Q305.5 683.8 311.5 684.7Q317.5 685.7 323.4 686.4L329.4 687M107.1 692.9Q119 692.2 125 692.4Q131 692.7 137 691.3Q142.9 690 148.9 690.1Q154.9 690.2 160.9 689.4Q166.8 688.6 172.8 690.1Q178.8 691.7 184.8 690.3Q190.7 688.9 196.7 689.7Q202.7 690.5 208.7 690.8Q214.7 691.2 220.6 692Q226.6 692.9 232.6 692.9Q238.6 692.9 244.5 692.9Q250.5 692.9 256.5 692.9L262.5 692.9M94.3 583.5Q94.4 597.2 96.2 604.1Q97.9 610.9 96.9 617.7Q95.9 624.6 96.4 631.4Q96.9 638.2 97.5 645.1Q98.1 651.9 98.3 658.7Q98.5 665.6 97.4 672.4Q96.3 679.2 96.8 686.1L97.2 692.9M101.2 451Q98.6 464.4 99.6 471.1Q100.6 477.8 99.7 484.5Q98.8 491.2 99.5 497.9Q100.2 504.7 100.7 511.4Q101.2 518.1 100.7 524.8Q100.1 531.5 100 538.2Q99.8 544.9 100.2 551.6Q100.6 558.3 99.9 565L99.3 571.7M99.1 552.8Q99 565.5 97.9 571.9Q96.8 578.3 95.2 584.6Q93.5 591 94.7 597.4Q95.8 603.8 94 610.1Q92.3 616.5 91.7 622.9Q91.1 629.2 90.8 635.6Q90.6 642 91.1 648.3Q91.6 654.7 92.3 661.1Q93.1 667.4 94.1 673.8Q95.1 680.2 94.5 686.5L93.9 692.9M98.3 451Q98.9 462.8 98.4 468.6Q98 474.5 99.8 480.4Q101.5 486.3 101.1 492.1Q100.6 498 101.2 503.9Q101.7 509.8 100.2 515.7Q98.6 521.5 97.6 527.4Q96.7 533.3 96.2 539.2Q95.8 545 93.8 550.9Q91.7 556.8 91.8 562.7Q91.9 568.5 91.9 574.4Q91.9 580.3 91.5 586.2Q91.1 592.1 91.1 597.9Q91.1 603.8 91.5 609.7Q91.8 615.6 91.2 621.4Q90.6 627.3 90.6 633.2Q90.6 639.1 90.6 645Q90.6 650.8 90.7 656.7Q90.9 662.6 90.7 668.5Q90.6 674.3 90.6 680.2L90.6 686.1M98.6 537.7Q97.6 549.6 97.9 555.6Q98.1 561.6 97.8 567.5Q97.4 573.5 98.7 579.5Q100.1 585.4 98.6 591.4Q97.1 597.4 95.5 603.3Q94 609.3 93.5 615.3Q93.1 621.3 94.1 627.2Q95.2 633.2 94.7 639.2Q94.3 645.1 94.7 651.1Q95.1 657.1 96.3 663Q97.5 669 98.1 675Q98.6 681 99.5 686.9L100.4 692.9M97.2 487.4Q99.8 499.2 98.6 505.1Q97.5 511 97.2 516.9Q96.8 522.7 96.3 528.6Q95.8 534.5 96 540.4Q96.2 546.3 94.9 552.2Q93.6 558.1 95.2 564Q96.7 569.9 95.5 575.8Q94.3 581.7 94.7 587.6Q95.1 593.5 94.2 599.4Q93.4 605.3 95 611.2Q96.6 617 96 622.9Q95.3 628.8 95 634.7Q94.7 640.6 94.5 646.5L94.4 652.4M107.8 502.6Q108.5 514.7 107 520.7Q105.5 526.7 105.6 532.7Q105.8 538.7 105.1 544.7Q104.4 550.7 104.8 556.7Q105.3 562.8 106.6 568.8Q108 574.8 107.4 580.8Q106.9 586.8 106.7 592.8Q106.5 598.8 106.8 604.8Q107 610.9 104.8 616.9Q102.5 622.9 103 628.9Q103.4 634.9 105.3 640.9L107.2 646.9M94 451Q91.2 463.1 93 469.1Q94.9 475.2 95.3 481.2Q95.6 487.3 96.1 493.3Q96.6 499.4 95.5 505.4Q94.4 511.5 94.9 517.5Q95.4 523.6 95.3 529.6Q95.1 535.7 93.3 541.7Q91.6 547.8 91.1 553.8Q90.7 559.9 90.7 565.9Q90.6 572 92.2 578Q93.9 584 94.1 590.1Q94.4 596.1 95.1 602.2Q95.9 608.2 97.2 614.3Q98.4 620.3 98.9 626.4Q99.4 632.4 100.2 638.5Q101 644.5 100.2 650.6Q99.4 656.6 99.7 662.7Q100 668.7 100.4 674.8Q100.9 680.8 100.7 686.9L100.6 692.9M104.8 451Q106.6 463.1 105.8 469.1Q105 475.2 104.3 481.2Q103.6 487.3 104.1 493.3Q104.6 499.4 105.6 505.4Q106.6 511.5 106 517.5Q105.5 523.6 105.7 529.6Q105.9 535.7 108.1 541.7Q110.4 547.8 110.1 553.8Q109.9 559.9 108.6 565.9Q107.4 572 106.1 578Q104.7 584 105.7 590.1Q106.7 596.1 106.4 602.2Q106.1 608.2 106.2 614.3Q106.3 620.3 105.4 626.4Q104.4 632.4 104.8 638.5Q105.2 644.5 104.8 650.6Q104.4 656.6 103 662.7Q101.6 668.7 101.6 674.8Q101.6 680.8 101.6 686.9L101.6 692.9M102.7 549.8Q104.4 561.7 103.1 567.7Q101.7 573.6 102 579.6Q102.3 585.5 100.5 591.5Q98.8 597.5 99.4 603.4Q100 609.4 101.4 615.4Q102.7 621.3 103.7 627.3Q104.8 633.3 103.9 639.2Q103.1 645.2 101.9 651.2Q100.7 657.1 100.5 663.1Q100.3 669 100.6 675Q100.9 681 101.5 686.9L102.1 692.9M99.8 519.8Q98.1 532.2 96.5 538.3Q95 544.5 95 550.7Q95 556.9 95.2 563.1Q95.4 569.3 97 575.4Q98.5 581.6 98.5 587.8Q98.4 594 98.5 600.2Q98.7 606.3 98.8 612.5Q99 618.7 97.6 624.9Q96.2 631.1 96 637.3Q95.7 643.4 96.4 649.6Q97.2 655.8 96.1 662Q95.1 668.2 94.8 674.4Q94.5 680.5 96.7 686.7L99 692.9M100.2 526.5Q101.6 538.4 100.6 544.3Q99.7 550.3 99.6 556.2Q99.5 562.2 100.6 568.1Q101.8 574 100.5 580Q99.3 585.9 98.1 591.9Q96.9 597.8 96.5 603.8Q96.2 609.7 97 615.6Q97.7 621.6 96.1 627.5Q94.5 633.5 94.8 639.4Q95.1 645.4 95.2 651.3Q95.2 657.2 96.1 663.2Q97 669.1 98.2 675.1Q99.5 681 99.7 687L100 692.9M93.2 479.1Q92.9 491 92.2 496.9Q91.4 502.9 91 508.8Q90.6 514.8 90.6 520.7Q90.6 526.6 90.6 532.6Q90.6 538.5 90.6 544.4Q90.6 550.4 90.6 556.3Q90.6 562.3 90.6 568.2Q90.6 574.1 90.6 580.1Q90.7 586 90.9 592Q91.2 597.9 92.2 603.8Q93.2 609.8 92.7 615.7Q92.2 621.6 92.3 627.6Q92.4 633.5 92.7 639.5Q92.9 645.4 92.7 651.3Q92.4 657.3 92.2 663.2Q92 669.1 92.7 675.1Q93.3 681 94.3 687L95.4 692.9M96.7 496.7Q96.4 509 96.2 515.1Q96 521.2 95.2 527.4Q94.3 533.5 94.9 539.6Q95.4 545.8 93.7 551.9Q92 558 94.2 564.2Q96.4 570.3 96.9 576.4Q97.3 582.6 98 588.7Q98.7 594.8 97.8 600.9Q97 607.1 97.8 613.2Q98.7 619.3 99.9 625.5Q101.1 631.6 100.3 637.7Q99.6 643.9 99.3 650Q99.1 656.1 99.6 662.2Q100.2 668.4 100.6 674.5Q101.1 680.6 100.1 686.8L99.2 692.9M95.8 524.1Q91.4 536.2 91.6 542.2Q91.8 548.2 92.9 554.2Q94.1 560.3 94.5 566.3Q94.9 572.3 94.2 578.4Q93.6 584.4 94.4 590.4Q95.2 596.4 94.9 602.5Q94.5 608.5 94.6 614.5Q94.7 620.6 94.8 626.6Q94.9 632.6 94.6 638.6Q94.2 644.7 93.2 650.7Q92.1 656.7 93.8 662.8Q95.4 668.8 95.2 674.8Q94.9 680.8 95.1 686.9L95.4 692.9M90.6 451Q90.7 463.1 90.7 469.1Q90.6 475.2 90.6 481.2Q90.6 487.3 91 493.3Q91.3 499.4 91 505.4Q90.6 511.5 91.2 517.5Q91.8 523.6 91.3 529.6Q90.9 535.7 92.3 541.7Q93.8 547.8 92.8 553.8Q91.9 559.9 91.4 565.9Q91 572 91 578Q90.9 584 90.8 590.1Q90.6 596.1 90.6 602.2Q90.6 608.2 91.4 614.3Q92.1 620.3 91.6 626.4Q91.1 632.4 90.8 638.5Q90.6 644.5 91.3 650.6Q92.1 656.6 92.9 662.7Q93.7 668.7 94.6 674.8Q95.5 680.8 95.2 686.9L94.9 692.9M318.7 646.8Q314.1 633.8 311.3 627.2Q308.6 620.6 305.5 614.1Q302.4 607.7 298.7 602.4Q295 597.2 291.9 590.3Q288.9 583.4 286.5 576.6Q284.2 569.7 280.3 565Q276.4 560.2 274.8 552.1Q273.2 543.9 271.3 538Q269.4 532 267.9 524.8Q266.4 517.5 263.9 510.6Q261.3 503.6 259.7 497Q258.1 490.4 256.3 484.1Q254.6 477.8 251.1 471.3Q247.7 464.8 241.8 459.7L235.8 454.6M305.9 455.5Q315.6 471.2 319.9 477.8Q324.1 484.4 326.7 491.1Q329.4 497.7 329.4 505.3Q329.4 512.8 329.4 521.1Q329.4 529.3 329.4 536.2Q329.4 543.1 329.4 550.8Q329.4 558.5 329.4 567Q329.4 575.5 329.4 582.1Q329.4 588.8 328 597.2Q326.7 605.7 324.7 613L322.6 620.3M322.2 642.8Q315.4 632.1 313.5 624.6Q311.7 617 311.8 610Q311.9 603 309.6 595.3Q307.3 587.7 306 582.1Q304.6 576.6 299.9 570.2Q295.2 563.8 290.9 557.7Q286.5 551.6 285.5 544.3Q284.4 536.9 282.9 530.9Q281.4 525 281.7 516.1Q281.9 507.2 276.6 503.2Q271.3 499.1 268.2 492.5Q265.1 485.9 261 480.5Q256.8 475 253 468.9Q249.2 462.7 244.1 456.9L239.1 451.1M324.1 664Q319.7 649.2 316.3 643.9Q313 638.6 310.8 630.5Q308.5 622.3 305 617.7Q301.5 613.1 300.5 604Q299.4 594.9 297.6 587.4Q295.8 580 295.2 572.1Q294.5 564.2 288.4 559.9Q282.3 555.5 278.8 549.4Q275.3 543.4 272.1 537.5Q269 531.5 265.6 525.4Q262.1 519.3 257.7 513.5Q253.2 507.6 247.4 502.7Q241.7 497.9 237 494.3Q232.3 490.8 226.5 485.5Q220.6 480.3 215.9 475.7Q211.1 471.1 202.7 469.3Q194.3 467.5 184.6 465.7Q175 464 167.6 461.1L160.1 458.2M178.6 462.9Q186.1 476.6 190 482.1Q193.9 487.6 198 493.1Q202.1 498.6 206.8 504.3Q211.5 510 212.8 517.8Q214.1 525.6 216.5 531.8Q218.8 538 221.5 544.4Q224.1 550.7 224.1 557.4Q224.2 564.2 226.9 571.7Q229.6 579.3 231.2 585.1Q232.8 591 234.3 597.5Q235.8 604.1 240.2 611.3Q244.7 618.6 245.1 624.5Q245.5 630.5 247.8 637.7Q250 645 249.6 652.6Q249.1 660.2 249.6 667.1Q250.1 674 250.7 680.6L251.3 687.2M93.3 633.2Q112.9 624.4 121.2 619.5Q129.4 614.6 136 611.6Q142.5 608.6 147.3 601.6Q152.1 594.6 156.9 588.6Q161.7 582.5 165.6 577.1Q169.5 571.7 170.1 564.8Q170.8 557.8 171.4 549.6Q172.1 541.3 173.2 533.1Q174.4 525 172.8 517.6Q171.3 510.3 172.8 502.7Q174.3 495 172.8 486.7Q171.4 478.4 168.5 469.2L165.6 459.9M128.4 459.7Q139 470.4 141.5 476Q144 481.7 149.2 487.3Q154.3 492.9 156.4 499.5Q158.4 506.1 163.3 511.3Q168.2 516.5 171.3 523.5Q174.4 530.4 178.9 535.4Q183.5 540.3 185.9 548.5Q188.3 556.7 191.6 561.8Q194.9 566.8 199.9 571.8Q205 576.9 211.4 581.3Q217.8 585.7 222.3 590.4Q226.9 595.1 233.7 598.1Q240.4 601 241.4 608.9Q242.4 616.8 248.4 621.3Q254.4 625.8 259.7 630.8Q265 635.8 270.3 639.6Q275.6 643.4 281.3 648.2Q287 653.1 290.1 657.8Q293.3 662.6 301.7 665.3Q310 668 313.7 674L317.4 680M90.6 465.8Q102.1 474.8 109.2 477.9Q116.3 481.1 122.7 482.3Q129.2 483.5 135.7 485.7Q142.3 487.9 150.2 489.7Q158.1 491.5 163.6 495.2Q169 498.9 177.2 498.2Q185.4 497.5 191.6 500.8Q197.8 504.1 203.6 509.8Q209.5 515.5 215.9 516.5Q222.4 517.5 228.7 520.4Q235 523.3 241.8 527.5Q248.5 531.8 253.6 535.3Q258.7 538.7 265 542.7Q271.3 546.6 277.6 549.3Q284 552 291.7 553.6Q299.4 555.3 304.8 559.1Q310.3 562.9 315.7 567.8L321 572.7M95 509.7Q105 517.8 110.1 522Q115.2 526.2 121.2 529.2Q127.3 532.2 133.1 535.8Q139 539.5 144.9 543Q150.9 546.4 156.5 550.5Q162.1 554.6 168.9 557Q175.6 559.5 180.1 565.1Q184.6 570.6 190.3 574.8Q195.9 578.9 199.4 585.1Q202.9 591.2 206.8 596.7Q210.6 602.3 215.5 606.8Q220.4 611.3 226.5 615.4Q232.6 619.4 238.2 623.5Q243.9 627.5 249.4 631.2Q254.9 634.8 258.2 640.5Q261.4 646.2 268.3 649.9Q275.1 653.6 280.8 657.2Q286.5 660.8 290.7 667.3Q295 673.8 298.6 678.9Q302.1 684 308.1 688.4L314 692.8M121.2 461.4Q135.7 457.3 143.7 454.2Q151.8 451 160.2 451Q168.6 451 176.1 451Q183.5 451 192.1 451Q200.8 451 207.8 451Q214.9 451 223.5 451Q232.1 451 239.4 452.6L246.8 454.2M97 504.2Q95.2 518.5 92.9 526.1Q90.6 533.8 90.6 541.8Q90.6 549.8 90.6 557.7Q90.6 565.5 90.6 572.6Q90.6 579.6 90.6 587.1Q90.6 594.7 90.6 602.3Q90.6 609.9 90.6 617.2Q90.6 624.5 90.6 632.9Q90.6 641.4 90.6 648.9Q90.6 656.3 91.9 663.8Q93.2 671.2 94.1 678.8L95 686.4M92.1 609Q106.9 610.7 112.5 613.2Q118.2 615.7 125.2 616.2Q132.2 616.8 138.7 618.6Q145.3 620.4 152.2 623.7Q159.1 626.9 165.8 627.1Q172.5 627.2 179.8 628.5Q187.2 629.8 193.4 632.1Q199.6 634.4 206.6 634.2Q213.5 634 219.7 634.5Q225.9 635 233.6 638.5Q241.3 642 247.5 642.6Q253.7 643.3 261.5 646.7Q269.2 650.1 275.7 649.4Q282.1 648.7 289.4 651.1Q296.8 653.4 302.9 654Q309.1 654.5 316.2 654L323.4 653.5M90.6 557Q105.6 551.7 112.2 548.7Q118.8 545.7 125.1 543.9Q131.4 542.1 138 539.3Q144.6 536.6 150.9 533.7Q157.1 530.8 165.1 530.3Q173 529.9 179.3 526.8Q185.6 523.7 192.8 521.6Q200 519.4 207.2 519.7Q214.5 519.9 221.7 517.7Q228.8 515.5 236 514.3Q243.1 513.2 250.6 511.6Q258 509.9 264.6 509.9Q271.2 509.9 278.5 508.4Q285.9 507 292.5 503.3Q299 499.5 305.7 498.2Q312.3 496.8 319.6 496.3L326.9 495.8M326.2 514Q329.4 534.9 329.4 546.6Q329.4 558.3 329.4 570Q329.4 581.7 329.4 591.7Q329.4 601.8 329.4 612.1Q329.4 622.5 329.4 628.5Q329.4 634.6 329.4 641.1Q329.4 647.7 329.4 655.7Q329.4 663.8 324.3 667.8Q319.1 671.9 313.2 675.1Q307.3 678.3 297.9 680.5Q288.4 682.6 280.6 684.7Q272.7 686.7 263.6 689Q254.4 691.3 244.8 692.1Q235.1 692.9 224.3 692.8Q213.5 692.8 199.5 690.9L185.6 689M304.3 451Q312.6 470.7 314.1 479.2Q315.6 487.7 315.8 495.1Q315.9 502.4 317.3 511.3Q318.7 520.1 319.4 528.5Q320.1 536.9 321.7 545Q323.3 553 322.5 560.6Q321.7 568.3 319.6 574.2Q317.4 580.2 313.6 586.5Q309.7 592.8 304.1 599.3Q298.5 605.8 295.8 611.7Q293.2 617.6 288.8 624.5Q284.4 631.3 278.3 636.2Q272.3 641.1 269.5 647.2Q266.8 653.3 257.3 657.4Q247.7 661.4 241.2 665.2Q234.7 669 228.4 675.1Q222.1 681.1 213.7 685.3L205.3 689.4M277.2 456.2Q274.5 473 274.4 479.6Q274.3 486.1 271.5 494.7Q268.7 503.3 266.9 509.5Q265 515.7 264.9 523.8Q264.8 531.9 264.1 539.1Q263.4 546.4 264.8 553.5Q266.1 560.7 265.5 567.9Q264.9 575 266.9 582.2Q268.9 589.3 268.9 596.6Q269 603.8 272.5 610.8Q276 617.7 279.9 624.3Q283.7 630.9 285.2 637.8Q286.7 644.7 292.4 650.8Q298 656.9 300.5 664Q302.9 671 307.3 677.8L311.6 684.7M178.3 461.4Q175.9 476.5 172.5 485.4Q169 494.4 168.1 500.6Q167.2 506.8 165.1 515.6Q163.1 524.4 160.2 532.6Q157.3 540.7 155.6 548.9Q153.9 557.1 154 563.9Q154.1 570.7 155.9 577.1Q157.7 583.4 158.8 591Q159.9 598.6 162.7 604.7Q165.5 610.8 171.3 615.8Q177.1 620.8 181.7 628.2Q186.2 635.7 188.8 641.6Q191.4 647.4 198.3 652Q205.1 656.5 209.2 663Q213.3 669.6 218 676.5Q222.8 683.5 234.1 686.6L245.4 689.7M100.6 605Q110.8 615.3 116.3 618.6Q121.9 621.8 128.6 624.1Q135.4 626.5 141.7 631.7Q148 636.8 154.2 638.8Q160.4 640.9 166.8 644.3Q173.1 647.8 178.9 650.9Q184.6 654 190.9 658.2Q197.2 662.4 204.2 662.2Q211.1 662 216.8 665.2Q222.5 668.4 230.5 668.5Q238.5 668.6 245.3 670.5Q252 672.4 258.9 676.1Q265.8 679.9 271.8 681.1Q277.8 682.3 283.9 685.2Q289.9 688 297.7 688.8Q305.4 689.6 312.7 688.1L320 686.6M326.4 597.3Q315.9 588.1 309 584.8Q302.1 581.5 294.2 578.1Q286.4 574.8 278.9 571.4Q271.5 568.1 264.7 563.6Q257.9 559.2 253.2 554Q248.4 548.8 242.9 544Q237.4 539.3 234.9 531.1Q232.4 523 228.6 515.6Q224.8 508.1 220.7 502.8Q216.6 497.4 214.5 489.5Q212.4 481.6 209.7 472.9Q207.1 464.2 202.9 457.9L198.7 451.6M324.6 555.3Q310.4 544.1 306.1 536.5Q301.8 528.9 296.8 523.1Q291.8 517.4 286.2 510.5Q280.7 503.7 278 496Q275.3 488.4 276 479.8Q276.7 471.3 274.6 462.6L272.4 454M325 600.6Q307.7 603 299.7 604.9Q291.8 606.8 282.3 607.4Q272.9 608.1 264.9 609.6Q256.9 611.1 253.6 617.7Q250.4 624.4 246.2 631.7Q242 639.1 239.9 646.8Q237.9 654.6 234.8 663.8Q231.7 673 228.3 678.9L224.8 684.8M319.3 601.9Q311.5 588.5 309.8 581.2Q308 573.8 303.3 567.5Q298.5 561.1 295.1 556.6Q291.7 552 288.2 543.8Q284.8 535.6 280.7 530.5Q276.7 525.4 272.4 519.8Q268.1 514.2 264 508.3Q259.9 502.3 253.7 498.8Q247.5 495.2 241.5 491.9Q235.4 488.5 230 483.9Q224.6 479.3 218.8 476.3Q213 473.3 206.1 470.6Q199.2 467.9 190.6 465.8Q181.9 463.8 175.2 461.3Q168.5 458.7 161.6 455.4L154.8 452.2M302.7 690.4Q310.1 676.1 313.4 669.2Q316.7 662.4 318 655.8Q319.3 649.3 322.3 642.7Q325.3 636.1 326.3 628.7Q327.4 621.3 328.4 614.2Q329.4 607 329.4 600.5Q329.4 594 329.4 585.8Q329.4 577.6 329.4 571.6Q329.4 565.7 329.4 558.3Q329.4 550.9 329.4 544.2Q329.4 537.5 329.4 530.1Q329.4 522.7 327.3 515Q325.2 507.4 323.8 500.1Q322.5 492.9 323 486.8Q323.6 480.8 321.5 472.7L319.4 464.6M295.5 683.5Q284.5 671.1 279.9 665.9Q275.3 660.6 270.3 655.9Q265.3 651.2 258.2 649.8Q251.1 648.5 245.6 642.5Q240 636.6 236 631.4Q231.9 626.2 225.9 621.7Q219.9 617.2 215.5 612Q211.1 606.9 205.3 603.7Q199.5 600.5 195.3 595.2Q191.1 589.9 184.2 586.1Q177.4 582.3 170.8 578.2Q164.2 574.2 159.7 569.8Q155.3 565.4 151 559.8Q146.7 554.1 139.8 551.8Q133 549.5 127.9 543.5Q122.9 537.4 117.1 532.6Q111.4 527.9 107.6 521.7Q103.7 515.5 98.7 511.3L93.8 507M325 591.5Q313.2 585.9 306.1 584.7Q299 583.5 291.8 582.8Q284.6 582.1 278.8 577.9Q273.1 573.6 265.6 572.3Q258.2 570.9 250.6 570.9Q243.1 571 236.1 569.5Q229.1 568 223.1 563.5Q217.1 558.9 212.3 553.7Q207.6 548.5 200.5 545.8Q193.5 543.1 187.5 540.1Q181.6 537 175.3 533.2Q169 529.3 163.1 525.7Q157.2 522.1 149.9 520.6Q142.6 519.2 136.1 516.8Q129.6 514.3 124 509.6Q118.4 504.8 113.2 499Q108.1 493.3 101.5 491.1L94.9 488.9M262.8 690.5Q260.7 676.6 260.6 668Q260.6 659.4 259 653.3Q257.4 647.2 255.8 639.9Q254.2 632.7 251.8 625.8Q249.5 618.9 250 611.4Q250.5 604 250.3 595.5Q250.2 587.1 247.3 580.9Q244.4 574.8 240.5 568.2Q236.5 561.6 233.4 555.9Q230.2 550.1 227.5 543.7Q224.7 537.3 221.7 529.7Q218.7 522 215 515.8Q211.3 509.7 206.3 505.4Q201.2 501.1 195.2 495.9Q189.2 490.6 183.1 484.7Q176.9 478.9 170.9 474.9Q164.9 470.9 160.2 465.8L155.6 460.6M100.9 456.2Q117.6 451.4 105 451.7Q92.4 452 93.5 454.7Q94.5 457.3 94.9 457Q95.2 456.6 95.5 458.4Q95.8 460.1 98 458.2Q100.3 456.3 95.8 460.5L91.3 464.8M104.5 455.8Q95.3 469.5 95.1 462.9Q94.9 456.4 98.8 456.3Q102.7 456.2 99.5 456Q96.2 455.8 94.2 454.5Q92.2 453.2 92.9 455.6Q93.6 458 97.2 459.5L100.9 461M98.2 454.7Q104.5 457.8 101 458Q97.5 458.1 101.7 461.9Q105.9 465.7 101.7 458.7Q97.6 451.7 96.2 451.8Q94.8 452 93 454.9Q91.2 457.7 94.3 457.4L97.4 457.1M328.8 459.7Q323.8 461.1 318.3 463.4Q312.7 465.6 320.2 460.4Q327.8 455.1 328.5 456.8Q329.3 458.5 322.3 462.1Q315.3 465.6 322.2 462.7Q329.2 459.8 322.3 458.6L315.4 457.5M314 454.2Q313.1 459 305.9 457.5Q298.7 456.1 313.9 458.8Q329 461.4 329 459.5Q329 457.5 322.8 454.7Q316.7 451.9 319.4 457.1Q322.2 462.3 325.2 458.1L328.3 454M323.2 453.9Q327.2 459.5 326.2 464.6Q325.2 469.8 317.3 461.8Q309.4 453.9 316.8 454.4Q324.2 455 326.2 455.4Q328.1 455.9 325.5 455.7Q322.9 455.4 323.1 457.4L323.3 459.3M102.9 690.3Q94 688 97.8 682.5Q101.6 677 96.3 681.9Q90.9 686.8 98.7 684.3Q106.4 681.8 101.9 687.3Q97.4 692.9 94.4 692.5Q91.5 692.2 93.2 687.8L94.8 683.4M96.4 679.4Q99.5 686.1 97.6 678.5Q95.8 670.8 99.3 674.6Q102.8 678.5 99.3 679.4Q95.8 680.3 96.5 684.3Q97.1 688.4 96.8 685.1Q96.4 681.8 98.7 682.9L101.1 684M102.4 689.8Q99.3 681.5 95.7 686.5Q92.2 691.6 96 686.7Q99.8 681.8 99.7 683.8Q99.5 685.8 102.8 688.9Q106 692 99.4 691.1Q92.7 690.2 92.2 690.7L91.6 691.3M321.4 685.4Q329.1 690.1 327 685.8Q324.9 681.4 324.9 686.4Q325 691.3 327.1 686.4Q329.2 681.5 327.4 686.3Q325.6 691 326.4 688.1Q327.3 685.1 326.6 687.5L325.9 689.9M322.5 690Q326.1 692.7 325.4 687.4Q324.7 682.2 324.2 682.8Q323.8 683.3 324.3 684.3Q324.8 685.3 323.1 688.2Q321.4 691.1 315.8 691.2Q310.2 691.3 319.4 688.5L328.7 685.7M320.5 688.1Q325.6 665.7 324.8 678.6Q324.1 691.4 322.7 683.4Q321.3 675.3 323.1 680.6Q324.9 685.8 323.4 684Q322 682.2 323.7 678.4Q325.4 674.7 322.6 683.1L319.8 691.6"/>
<path d="M425.2 455.9Q437.4 457.7 443.6 456.5Q449.7 455.3 455.9 456.3Q462 457.2 468.2 455.6Q474.3 453.9 480.4 454.2Q486.6 454.5 492.7 453.9Q498.9 453.2 505 454.3Q511.1 455.4 517.3 455.7Q523.4 456 529.6 455.1Q535.7 454.2 541.8 454.3Q548 454.4 554.1 454.5Q560.3 454.5 566.4 453Q572.5 451.4 578.7 452.6Q584.8 453.8 591 453.6L597.1 453.3M409.2 464.1Q421.5 463.8 427.6 464Q433.8 464.3 439.9 464.7Q446.1 465.1 452.2 465.6Q458.3 466.2 464.5 465.9Q470.6 465.5 476.7 465.6Q482.9 465.8 489 465.1Q495.2 464.4 501.3 464.2Q507.4 464.1 513.6 464.8Q519.7 465.5 525.8 465.8Q532 466.1 538.1 466.9Q544.2 467.8 550.4 466.3Q556.5 464.8 562.7 463.9L568.8 462.9M461.4 454Q473.7 456.1 479.9 455.4Q486.1 454.6 492.2 456.1Q498.4 457.5 504.6 457Q510.7 456.5 516.9 455.3Q523.1 454.1 529.2 453.7Q535.4 453.4 541.6 454.4Q547.7 455.4 553.9 453.6Q560.1 451.9 566.3 451.3Q572.4 450.8 578.6 451Q584.8 451.2 590.9 452.5L597.1 453.7M356.8 453.7Q368.8 451.8 374.8 451.3Q380.8 450.8 386.7 452.6Q392.7 454.4 398.7 452.6Q404.7 450.8 410.7 451.8Q416.7 452.8 422.7 453Q428.7 453.2 434.6 452.3Q440.6 451.4 446.6 451.6Q452.6 451.8 458.6 451.3Q464.6 450.8 470.6 451.5Q476.6 452.1 482.6 453.2Q488.5 454.3 494.5 453.5Q500.5 452.7 506.5 451.9Q512.5 451.2 518.5 451Q524.5 450.8 530.5 451.2Q536.4 451.7 542.4 453Q548.4 454.3 554.4 454Q560.4 453.8 566.4 454Q572.4 454.2 578.4 453.9Q584.4 453.6 590.3 454.9L596.3 456.1M487.7 453Q501.4 450.8 508.3 450.8Q515.1 450.8 521.9 451.3Q528.8 451.8 535.6 453.3Q542.4 454.8 549.3 453.8Q556.1 452.8 562.9 452.9Q569.8 453 576.6 453Q583.4 452.9 590.3 451.9L597.1 450.8M356.8 461.2Q368.8 461.4 374.8 461.5Q380.8 461.7 386.8 461.9Q392.8 462.2 398.9 463.1Q404.9 464 410.9 463.3Q416.9 462.6 422.9 461.2Q428.9 459.9 434.9 460.1Q440.9 460.4 446.9 460.7Q452.9 461 458.9 460.3Q464.9 459.6 470.9 461Q477 462.4 483 463.4Q489 464.4 495 464Q501 463.5 507 463.1Q513 462.7 519 463.3Q525 463.9 531 463.4Q537 462.8 543 464.3Q549 465.7 555 466.1Q561.1 466.6 567.1 466.2Q573.1 465.9 579.1 465.2Q585.1 464.6 591.1 464.7L597.1 464.7M359.6 457.6Q372.3 458.4 378.6 461.3Q385 464.1 391.3 463.4Q397.6 462.7 404 463.5Q410.3 464.3 416.6 463.8Q423 463.4 429.3 463.8Q435.6 464.3 442 464.4Q448.3 464.6 454.6 464.6Q461 464.7 467.3 464Q473.6 463.3 480 463.3L486.3 463.4M356.8 455.2Q368.8 458.3 374.8 456.3Q380.8 454.2 386.8 454.4Q392.8 454.6 398.9 454.6Q404.9 454.6 410.9 455Q416.9 455.3 422.9 456.4Q428.9 457.4 434.9 457.6Q440.9 457.8 446.9 457.6Q452.9 457.5 458.9 457.7Q464.9 458 470.9 457.8Q477 457.6 483 459.4Q489 461.1 495 459.8Q501 458.5 507 457.9Q513 457.3 519 456.5Q525 455.8 531 455.5Q537 455.2 543 454.6Q549 453.9 555 454.4Q561.1 454.9 567.1 455.5Q573.1 456.2 579.1 455.9Q585.1 455.5 591.1 455.5L597.1 455.5M359.9 453.3Q374.4 451.7 381.6 451.2Q388.9 450.8 396.1 450.8Q403.4 450.8 410.7 450.8Q417.9 450.8 425.2 450.8Q432.4 450.8 439.7 450.8L446.9 450.8M356.8 457Q368.8 455.3 374.8 455.3Q380.8 455.4 386.8 454.4Q392.8 453.5 398.9 453.8Q404.9 454 410.9 454.6Q416.9 455.1 422.9 455.7Q428.9 456.3 434.9 457.9Q440.9 459.5 446.9 459.3Q452.9 459.2 458.9 458.4Q464.9 457.7 470.9 457.7Q477 457.7 483 457.6Q489 457.4 495 457.2Q501 457.1 507 457.3Q513 457.5 519 457.6Q525 457.7 531 458.9Q537 460.1 543 460.7Q549 461.4 555 460.6Q561.1 459.7 567.1 459.2Q573.1 458.7 579.1 459.5Q585.1 460.3 591.1 459L597.1 457.7M402.6 457.9Q414.9 458.8 421.1 458.4Q427.2 458.1 433.4 457.2Q439.5 456.2 445.7 456.4Q451.9 456.6 458 457.3Q464.2 458.1 470.4 458.5Q476.5 458.9 482.7 458.6Q488.9 458.2 495 458.9Q501.2 459.5 507.3 459.9Q513.5 460.3 519.7 461.8Q525.8 463.3 532 462.2L538.2 461.1M356.8 458.2Q368.8 455.1 374.8 455.7Q380.8 456.3 386.8 455.4Q392.8 454.5 398.9 456.2Q404.9 457.9 410.9 458.3Q416.9 458.7 422.9 458.7Q428.9 458.6 434.9 457.5Q440.9 456.4 446.9 456.3Q452.9 456.2 458.9 455.9Q464.9 455.7 470.9 455.3Q477 454.9 483 453.8Q489 452.7 495 453.3Q501 453.8 507 453.4Q513 453.1 519 454.5Q525 455.9 531 456.5Q537 457 543 457.1Q549 457.2 555 456.6Q561.1 456 567.1 456.2Q573.1 456.4 579.1 456.3Q585.1 456.3 591.1 454.5L597.1 452.7M467.9 456.9Q480.9 457.6 487.3 457.7Q493.8 457.8 500.2 456.8Q506.7 455.9 513.1 455.8Q519.6 455.7 526.1 455.9Q532.5 456.1 539 456.2Q545.4 456.3 551.9 457.1Q558.4 457.8 564.8 458.1Q571.3 458.4 577.7 458.4Q584.2 458.4 590.6 457.7L597.1 456.9M356.8 459.2Q368.8 458.7 374.8 459.8Q380.8 460.9 386.8 462Q392.8 463.2 398.9 463.7Q404.9 464.3 410.9 466Q416.9 467.6 422.9 467Q428.9 466.3 434.9 465.7Q440.9 465.1 446.9 463.7Q452.9 462.3 458.9 462.7Q464.9 463.2 470.9 463Q477 462.9 483 463.9Q489 465 495 463.9Q501 462.8 507 462.1Q513 461.4 519 461.9Q525 462.5 531 462.7Q537 462.8 543 461.1Q549 459.4 555 459.1Q561.1 458.7 567.1 458.6Q573.1 458.4 579.1 458.3Q585.1 458.2 591.1 457.2L597.1 456.1M454.6 452.4Q468.4 451.3 475.3 451.1Q482.2 450.8 489.1 450.8Q496 450.8 502.9 450.8Q509.8 450.8 516.7 450.8Q523.6 450.8 530.5 450.8Q537.4 450.8 544.3 450.8L551.2 450.8M356.8 462.8Q368.7 463.3 374.6 464.7Q380.6 466 386.5 467.3Q392.5 468.6 398.4 467.4Q404.4 466.1 410.3 466.9Q416.3 467.7 422.2 465.6Q428.2 463.5 434.1 463.8Q440.1 464.2 446 463.9Q452 463.6 457.9 462.5Q463.9 461.5 469.8 461.1Q475.8 460.7 481.7 460.4Q487.7 460 493.6 460.2Q499.6 460.4 505.5 460.3Q511.5 460.2 517.4 461.4Q523.4 462.6 529.3 461.9Q535.3 461.2 541.2 460.9Q547.2 460.6 553.1 460.6Q559.1 460.5 565 459.9Q571 459.2 576.9 459.7Q582.9 460.2 588.8 459.5L594.8 458.8M368.2 454.7Q381.3 452.3 387.8 453.8Q394.4 455.2 400.9 455.8Q407.5 456.4 414 454.5Q420.5 452.5 427.1 452.7Q433.6 452.8 440.2 452.1Q446.7 451.4 453.3 451.1Q459.8 450.8 466.4 450.8Q472.9 450.8 479.4 450.8L486 450.8M364.7 463.2Q376.3 460.4 382.1 460.4Q387.9 460.3 393.7 460.8Q399.5 461.3 405.4 461.9Q411.2 462.5 417 463.7Q422.8 465 428.6 464.5Q434.4 464 440.2 466Q446 468.1 451.8 468.1Q457.7 468.1 463.5 469.6Q469.3 471.1 475.1 471.7Q480.9 472.3 486.7 471.3Q492.5 470.2 498.3 470.8Q504.1 471.4 509.9 470.8Q515.8 470.3 521.6 471Q527.4 471.7 533.2 470.6Q539 469.5 544.8 469.9Q550.6 470.2 556.4 470.6Q562.2 471 568 469.3Q573.9 467.7 579.7 468.2Q585.5 468.8 591.3 468.6L597.1 468.5M367.9 454.2Q380.5 453 386.8 454.3Q393.2 455.5 399.5 455.5Q405.8 455.5 412.1 455.6Q418.5 455.8 424.8 455.7Q431.1 455.7 437.4 455.8Q443.8 456 450.1 456.7Q456.4 457.4 462.7 457.1Q469.1 456.8 475.4 456.8Q481.7 456.7 488 456.9L494.4 457.1M592.9 450.8Q593.5 462.3 593.6 468.1Q593.8 473.9 593.5 479.7Q593.3 485.4 592.7 491.2Q592.1 497 593.1 502.7Q594.1 508.5 594.9 514.3Q595.8 520.1 595.4 525.8Q594.9 531.6 595.6 537.4Q596.3 543.1 596 548.9Q595.7 554.7 596.1 560.5Q596.6 566.2 596.8 572Q597.1 577.8 596.4 583.5Q595.7 589.3 595.6 595.1Q595.5 600.9 596.3 606.6Q597.1 612.4 597.1 618.2Q597.1 623.9 597.1 629.7Q597.1 635.5 597.1 641.3Q597.1 647 597.1 652.8Q597.1 658.6 597.1 664.3Q597.1 670.1 597.1 675.9Q597.1 681.7 597.1 687.4L597.1 693.2M590 547.1Q590.7 559.2 590.5 565.3Q590.2 571.4 589.2 577.5Q588.2 583.6 587.7 589.7Q587.1 595.8 588.7 601.9Q590.3 608 590.5 614Q590.6 620.1 589.8 626.2Q589 632.3 588.8 638.4Q588.6 644.5 588.3 650.6Q588 656.7 589.3 662.8Q590.5 668.8 591.5 674.9Q592.5 681 591.3 687.1L590.1 693.2M592.6 566.9Q589.1 579.5 588.9 585.8Q588.7 592.1 590.1 598.5Q591.5 604.8 591.6 611.1Q591.7 617.4 591.6 623.7Q591.5 630 591.4 636.4Q591.4 642.7 591.6 649Q591.9 655.3 591.8 661.6Q591.6 667.9 591.1 674.3Q590.5 680.6 590.8 686.9L591.1 693.2M593.7 450.8Q594.1 462.3 594.7 468.1Q595.2 473.9 595.5 479.7Q595.7 485.4 594.8 491.2Q593.9 497 593.7 502.7Q593.5 508.5 593.4 514.3Q593.4 520.1 593 525.8Q592.6 531.6 592.6 537.4Q592.7 543.1 593.6 548.9Q594.5 554.7 592 560.5Q589.5 566.2 588.2 572Q586.9 577.8 586.2 583.5Q585.4 589.3 584.9 595.1Q584.3 600.9 584.9 606.6Q585.4 612.4 586.2 618.2Q586.9 623.9 588 629.7Q589.1 635.5 590.5 641.3Q591.9 647 592 652.8Q592.1 658.6 590.7 664.3Q589.3 670.1 590.5 675.9Q591.6 681.7 592.5 687.4L593.5 693.2M591.1 450.8Q589.2 462.3 590.1 468.1Q590.9 473.9 590.5 479.7Q590.1 485.4 591.1 491.2Q592.1 497 592.4 502.7Q592.7 508.5 592.2 514.3Q591.7 520.1 590.6 525.8Q589.5 531.6 588.5 537.4Q587.6 543.1 587.1 548.9Q586.5 554.7 586.4 560.5Q586.2 566.2 587.7 572Q589.2 577.8 588.5 583.5Q587.9 589.3 589.4 595.1Q590.9 600.9 591 606.6Q591.1 612.4 591.5 618.2Q591.8 623.9 591.4 629.7Q591 635.5 591.6 641.3Q592.1 647 591.7 652.8Q591.2 658.6 592.2 664.3Q593.1 670.1 593.2 675.9Q593.2 681.7 592.1 687.4L591 693.2M594.4 475.2Q595.5 487.5 595.7 493.7Q595.9 499.9 594.2 506.1Q592.5 512.3 592.9 518.5Q593.3 524.7 593.8 530.9Q594.3 537.1 594.7 543.3Q595.2 549.5 593.8 555.7Q592.4 561.9 593 568.1Q593.6 574.3 593.1 580.5Q592.6 586.7 593.4 592.9Q594.2 599.1 593.9 605.3L593.6 611.5M582.5 548.9Q584.4 561.8 584.8 568.3Q585.2 574.7 584.8 581.2Q584.3 587.6 583.5 594.1Q582.6 600.6 583.3 607Q584 613.5 584.2 620Q584.5 626.4 585.1 632.9Q585.7 639.3 584.9 645.8Q584.2 652.3 584.7 658.7Q585.2 665.2 585.9 671.6Q586.7 678.1 586.5 684.6L586.2 691M593 480.6Q592.5 492.4 592.1 498.3Q591.7 504.2 592.6 510.1Q593.5 516 595.1 521.9Q596.7 527.8 596.3 533.7Q596 539.7 595.2 545.6Q594.5 551.5 595.6 557.4Q596.8 563.3 596.4 569.2Q595.9 575.1 596.3 581Q596.7 586.9 596 592.8Q595.3 598.7 595.4 604.6Q595.5 610.5 596 616.4Q596.5 622.3 596.8 628.2Q597.1 634.1 597.1 640Q597.1 646 597.1 651.9Q597.1 657.8 597.1 663.7Q597.1 669.6 597.1 675.5Q597.1 681.4 597.1 687.3L597.1 693.2M587.4 450.8Q587.3 462.3 585.9 468.1Q584.4 473.9 585.7 479.7Q586.9 485.4 587 491.2Q587 497 588.1 502.7Q589.2 508.5 591.8 514.3Q594.4 520.1 594.1 525.8Q593.8 531.6 594.5 537.4Q595.2 543.1 594.7 548.9Q594.1 554.7 592.6 560.5Q591.2 566.2 591.1 572Q591 577.8 589.4 583.5Q587.7 589.3 588.3 595.1Q588.8 600.9 588.3 606.6Q587.7 612.4 586.8 618.2Q586 623.9 587.4 629.7Q588.9 635.5 587.1 641.3Q585.3 647 585.4 652.8Q585.5 658.6 587.3 664.3Q589.2 670.1 588.4 675.9Q587.7 681.7 588.5 687.4L589.3 693.2M593.3 501.7Q592.6 514.4 594 520.7Q595.4 527 594.7 533.3Q594 539.6 593.9 546Q593.8 552.3 595 558.6Q596.2 564.9 596.6 571.3Q597.1 577.6 596.1 583.9L595.1 590.2M578.9 534.4Q576.4 546.6 575.4 552.7Q574.5 558.8 575.7 564.9Q576.9 571 577.7 577.1Q578.6 583.2 578.2 589.4Q577.8 595.5 579.1 601.6Q580.3 607.7 579.9 613.8Q579.5 619.9 580 626Q580.6 632.1 580.4 638.2Q580.3 644.3 580.9 650.4Q581.5 656.5 582.4 662.7Q583.3 668.8 583.2 674.9Q583.1 681 583.4 687.1L583.6 693.2M594 537.6Q594.7 549.5 593.4 555.5Q592 561.5 592.1 567.5Q592.2 573.5 592.3 579.5Q592.4 585.5 591 591.4Q589.6 597.4 589.7 603.4Q589.8 609.4 590 615.4Q590.3 621.4 591 627.4Q591.8 633.3 594.1 639.3Q596.4 645.3 596.7 651.3Q597.1 657.3 597 663.3Q596.9 669.3 596.8 675.2Q596.8 681.2 594.6 687.2L592.4 693.2M586.2 450.8Q586.6 463.1 587.2 469.2Q587.8 475.3 588.2 481.4Q588.5 487.6 587.8 493.7Q587 499.8 586.8 505.9Q586.6 512.1 587.1 518.2Q587.6 524.3 587.9 530.4Q588.1 536.6 586.6 542.7Q585.1 548.8 585.1 554.9Q585 561.1 584.6 567.2Q584.3 573.3 584.4 579.4Q584.5 585.6 584.5 591.7Q584.6 597.8 584.2 603.9Q583.8 610.1 584.4 616.2Q585.1 622.3 584.2 628.4L583.4 634.6M587.7 502.1Q585.2 514.4 585.2 520.5Q585.2 526.7 584.9 532.8Q584.5 538.9 583.7 545.1Q582.9 551.2 583.5 557.4Q584 563.5 584.8 569.7Q585.6 575.8 583.4 582Q581.2 588.1 582.8 594.3Q584.3 600.4 584.8 606.6Q585.3 612.7 584.4 618.9Q583.5 625 583.3 631.2Q583.2 637.3 583.1 643.5L582.9 649.6M584.8 472.3Q587.9 483.9 586.3 489.8Q584.7 495.6 584.6 501.4Q584.5 507.2 584.5 513Q584.5 518.8 583.9 524.6Q583.3 530.4 583 536.3Q582.7 542.1 580.2 547.9Q577.7 553.7 578 559.5Q578.2 565.3 577.5 571.1Q576.7 576.9 576.5 582.8Q576.3 588.6 575.9 594.4Q575.5 600.2 576.6 606Q577.8 611.8 577 617.6Q576.1 623.4 577.1 629.3Q578 635.1 579.6 640.9Q581.2 646.7 580.2 652.5Q579.3 658.3 579.7 664.1Q580 669.9 581.7 675.8Q583.4 681.6 583.8 687.4L584.3 693.2M596.4 450.8Q593.4 462.3 593.7 468.1Q594 473.9 595.4 479.7Q596.8 485.4 596.9 491.2Q597.1 497 597.1 502.7Q597.1 508.5 597.1 514.3Q597.1 520.1 597.1 525.8Q597.1 531.6 597.1 537.4Q597.1 543.1 597.1 548.9Q597.1 554.7 597.1 560.5Q597.1 566.2 597.1 572Q597.1 577.8 597.1 583.5Q597.1 589.3 597.1 595.1Q597.1 600.9 597.1 606.6Q597.1 612.4 597.1 618.2Q597.1 623.9 596.9 629.7Q596.8 635.5 596.9 641.3Q597.1 647 596.8 652.8Q596.5 658.6 596.8 664.3Q597.1 670.1 597.1 675.9Q597.1 681.7 597.1 687.4L597.1 693.2M587.2 572.7Q587.6 586.1 587 592.8Q586.3 599.5 585.8 606.2Q585.2 612.9 586.5 619.6Q587.8 626.3 588.1 633Q588.3 639.7 587.8 646.4Q587.2 653 585.9 659.7Q584.7 666.4 585.1 673.1Q585.5 679.8 586.2 686.5L586.8 693.2M588.5 522.7Q587.6 534.9 586.2 541Q584.9 547.1 585.7 553.2Q586.5 559.3 587.7 565.3Q588.8 571.4 588.9 577.5Q589 583.6 589.9 589.7Q590.9 595.8 590.2 601.9Q589.5 608 588.8 614.1Q588.1 620.1 588.3 626.2Q588.4 632.3 589.5 638.4Q590.5 644.5 589.5 650.6Q588.5 656.7 589 662.8Q589.5 668.8 590.7 674.9Q591.9 681 591.1 687.1L590.3 693.2M586.3 463.5Q586.6 475.6 587.1 481.6Q587.5 487.6 586.4 493.6Q585.3 499.6 585.8 505.6Q586.3 511.7 587 517.7Q587.7 523.7 588.2 529.7Q588.8 535.7 588.4 541.7Q588.1 547.8 586.5 553.8Q585 559.8 585.5 565.8Q586 571.8 587.5 577.8Q589 583.9 587.1 589.9Q585.2 595.9 585.6 601.9Q586.1 607.9 584.4 613.9Q582.8 620 583.4 626Q584.1 632 584.3 638Q584.5 644 583.5 650Q582.6 656.1 583.2 662.1L583.7 668.1M356.8 682.9Q368.8 685.6 374.8 685.5Q380.8 685.3 386.8 685.3Q392.8 685.3 398.9 684.7Q404.9 684.2 410.9 683.6Q416.9 682.9 422.9 683.8Q428.9 684.7 434.9 684Q440.9 683.4 446.9 684Q452.9 684.7 458.9 684.1Q464.9 683.4 470.9 684.6Q477 685.8 483 685.7Q489 685.6 495 684.8Q501 684 507 682.8Q513 681.6 519 682.3Q525 683.1 531 681.9Q537 680.7 543 680.3Q549 679.9 555 680.7Q561.1 681.4 567.1 681.9Q573.1 682.4 579.1 682.5Q585.1 682.5 591.1 682.1L597.1 681.7M356.8 685.9Q369 682.8 375.2 682.7Q381.3 682.6 387.4 684.8Q393.5 687 399.6 687.2Q405.8 687.4 411.9 688.2Q418 689 424.1 687.9Q430.3 686.9 436.4 686.3Q442.5 685.8 448.6 685.3Q454.7 684.9 460.9 685.9Q467 687 473.1 687.2Q479.2 687.4 485.3 688L491.5 688.6M476.5 690.4Q489.9 692.1 496.6 691.8Q503.3 691.5 510 691Q516.7 690.5 523.4 690.3Q530.1 690.2 536.8 690.6Q543.5 691 550.2 690.6Q556.9 690.2 563.6 689.9Q570.3 689.6 577 689.3Q583.7 689 590.4 687.9L597.1 686.7M369.5 688.7Q381.7 686.8 387.8 687.1Q394 687.4 400.1 687Q406.2 686.6 412.3 684.9Q418.4 683.3 424.5 684.1Q430.6 684.9 436.7 683.9Q442.8 682.9 448.9 684.7Q455.1 686.6 461.2 686.7Q467.3 686.8 473.4 686.2Q479.5 685.6 485.6 685.8L491.7 686.1M356.8 690Q368.8 686.2 374.8 687Q380.8 687.7 386.8 687Q392.8 686.4 398.9 687Q404.9 687.6 410.9 689.8Q416.9 692 422.9 692Q428.9 692 434.9 691.9Q440.9 691.8 446.9 692.5Q452.9 693.2 458.9 692.8Q464.9 692.5 470.9 691.8Q477 691.1 483 689.7Q489 688.3 495 689.2Q501 690.1 507 689.9Q513 689.7 519 690.5Q525 691.4 531 691Q537 690.7 543 691.2Q549 691.7 555 691.1Q561.1 690.4 567.1 690.6Q573.1 690.8 579.1 690.7Q585.1 690.7 591.1 689.9L597.1 689M459.6 688.4Q472.1 686.5 478.3 686.8Q484.6 687 490.8 686.8Q497.1 686.6 503.3 686.8Q509.6 687.1 515.8 686.8Q522.1 686.5 528.3 686.5Q534.6 686.5 540.8 686.4Q547.1 686.4 553.3 686.4Q559.6 686.3 565.8 685.9Q572.1 685.6 578.3 685.4Q584.6 685.3 590.8 686.9L597.1 688.6M451.1 684Q463.3 685.4 469.3 686.8Q475.4 688.2 481.5 689.3Q487.6 690.3 493.7 690.4Q499.8 690.4 505.8 689.6Q511.9 688.7 518 688.9Q524.1 689 530.2 690Q536.3 691 542.3 692.1Q548.4 693.2 554.5 692.9Q560.6 692.5 566.7 692Q572.8 691.4 578.8 690.7Q584.9 690 591 689.5L597.1 689.1M378.8 688.1Q390.7 686.2 396.6 686.2Q402.5 686.1 408.5 686Q414.4 686 420.4 686.3Q426.3 686.5 432.3 686.5Q438.2 686.4 444.2 685.6Q450.1 684.9 456.1 685.3Q462 685.6 468 684.6Q473.9 683.6 479.8 683.8Q485.8 683.9 491.7 682.7Q497.7 681.5 503.6 680.8Q509.6 680 515.5 680.3Q521.5 680.6 527.4 680.4Q533.4 680.1 539.3 680Q545.2 680 551.2 680.2L557.1 680.4M370.1 686.4Q382.1 687.4 388.1 686.3Q394 685.2 400 684.5Q406 683.8 411.9 682.7Q417.9 681.6 423.9 682.4Q429.9 683.1 435.8 682.9Q441.8 682.6 447.8 683Q453.8 683.4 459.7 684.3Q465.7 685.1 471.7 683.6Q477.6 682.1 483.6 682.4Q489.6 682.7 495.6 682.5Q501.5 682.2 507.5 681.9Q513.5 681.6 519.5 680.4Q525.4 679.1 531.4 678.7Q537.4 678.3 543.3 678Q549.3 677.7 555.3 677.6Q561.3 677.6 567.2 677.8Q573.2 678.1 579.2 679.1Q585.2 680.2 591.1 682.7L597.1 685.2M356.8 688.5Q368.8 690.9 374.8 692Q380.8 693.2 386.8 693.2Q392.8 693.2 398.9 693.2Q404.9 693.2 410.9 693.2Q416.9 693.2 422.9 693.2Q428.9 693.2 434.9 693.2Q440.9 693.2 446.9 693.2Q452.9 693.2 458.9 693.2Q464.9 693.2 470.9 693.2Q477 693.2 483 693.2Q489 693.2 495 692.1Q501 691 507 690Q513 689.1 519 688.5Q525 687.8 531 688.4Q537 688.9 543 689.4Q549 689.8 555 689Q561.1 688.2 567.1 688.4Q573.1 688.5 579.1 687.6Q585.1 686.8 591.1 686.9L597.1 687M356.8 686.1Q368.5 687.3 374.3 687Q380.2 686.6 386 686.7Q391.9 686.8 397.7 686.9Q403.5 687.1 409.4 687.2Q415.2 687.3 421.1 686.9Q426.9 686.5 432.8 685.9Q438.6 685.4 444.4 685.8Q450.3 686.3 456.1 686.9Q462 687.5 467.8 687.9Q473.7 688.2 479.5 688.3Q485.3 688.4 491.2 688.9Q497 689.3 502.9 689.5Q508.7 689.7 514.6 690.9Q520.4 692.2 526.2 690.9Q532.1 689.7 537.9 689.7Q543.8 689.7 549.6 689.2Q555.5 688.7 561.3 688Q567.1 687.4 573 687.4L578.8 687.3M475.7 687.2Q487.8 686.9 493.9 687.9Q500 688.9 506 687.9Q512.1 687 518.2 688.5Q524.3 690.1 530.3 689.7Q536.4 689.2 542.5 688.8Q548.5 688.3 554.6 687.2Q560.7 686 566.7 686.6Q572.8 687.1 578.9 686.1Q585 685.1 591 685.2L597.1 685.2M457.9 687Q470.5 688.7 476.9 690.3Q483.2 691.9 489.5 691.7Q495.9 691.5 502.2 692Q508.5 692.6 514.8 691.5Q521.2 690.5 527.5 689.9Q533.8 689.3 540.1 688Q546.5 686.6 552.8 685.3Q559.1 684.1 565.5 685.1Q571.8 686.2 578.1 688.2Q584.4 690.2 590.8 687.9L597.1 685.5M417.1 685.6Q430 685.8 436.5 684.9Q442.9 684 449.4 685.2Q455.8 686.4 462.3 687.6Q468.7 688.7 475.1 689.1Q481.6 689.5 488 690.5Q494.5 691.6 500.9 691.2Q507.4 690.8 513.8 691.1Q520.3 691.5 526.7 690Q533.1 688.6 539.6 687.8L546 687.1M356.8 687.9Q368.8 684.6 374.8 685.5Q380.8 686.3 386.8 685.9Q392.8 685.6 398.9 685.3Q404.9 685 410.9 684.8Q416.9 684.6 422.9 683.9Q428.9 683.1 434.9 682.9Q440.9 682.6 446.9 684.1Q452.9 685.6 458.9 686.2Q464.9 686.9 470.9 687Q477 687 483 687Q489 687.1 495 688.6Q501 690.2 507 690.7Q513 691.3 519 691Q525 690.8 531 690.7Q537 690.6 543 690.7Q549 690.8 555 690.1Q561.1 689.3 567.1 690.3Q573.1 691.2 579.1 692.2Q585.1 693.2 591.1 692L597.1 690.8M471.7 689.6Q484.2 689.5 490.5 687Q496.8 684.5 503 684.8Q509.3 685.1 515.6 684.8Q521.9 684.5 528.1 683.5Q534.4 682.5 540.7 683Q546.9 683.4 553.2 684.6Q559.5 685.8 565.7 686.1Q572 686.3 578.3 684.2Q584.6 682.1 590.8 683.5L597.1 684.9M437.6 689.9Q452 691.9 459.2 692.6Q466.3 693.2 473.5 692.6Q480.7 692.1 487.9 692.6Q495 693.1 502.2 693.1Q509.4 693.1 516.6 693.1L523.7 693.2M377.4 691Q389.6 693.2 395.7 693.2Q401.8 693.2 407.9 693.2Q414 693.2 420.1 693.2Q426.2 693.2 432.3 693.2Q438.4 693.2 444.5 693.2Q450.6 693.2 456.7 693.2Q462.8 693.2 468.9 693.2Q475 693.2 481.1 693.2Q487.2 693.2 493.3 693.2Q499.4 693.2 505.5 693.2Q511.7 693.2 517.8 693.2Q523.9 693.2 530 693.2Q536.1 693.2 542.2 693.2Q548.3 693.2 554.4 691.8Q560.5 690.3 566.6 691.1Q572.7 691.9 578.8 691.2Q584.9 690.4 591 690.1L597.1 689.8M443.8 686.9Q456.6 686.3 463 685.7Q469.4 685.1 475.7 684.2Q482.1 683.2 488.5 682.8Q494.9 682.3 501.3 682.1Q507.7 682 514.1 683.1Q520.5 684.2 526.8 685.4Q533.2 686.7 539.6 686.2Q546 685.6 552.4 686Q558.8 686.4 565.2 685.5Q571.6 684.7 577.9 685Q584.3 685.3 590.7 684.7L597.1 684.1M365.7 478.3Q369.2 490.2 367.7 496.2Q366.2 502.2 366.8 508.1Q367.3 514.1 369.1 520.1Q371 526.1 369.9 532Q368.9 538 368.6 544Q368.4 549.9 367.5 555.9Q366.5 561.9 368.4 567.8Q370.2 573.8 370.2 579.8Q370.2 585.7 370.1 591.7Q370.1 597.7 369.2 603.7Q368.3 609.6 368.3 615.6Q368.3 621.6 367.6 627.5Q367 633.5 367.9 639.5Q368.8 645.4 367.2 651.4Q365.6 657.4 364.7 663.4Q363.8 669.3 364 675.3Q364.1 681.3 364.1 687.2L364.2 693.2M358.9 450.8Q358.6 462.9 358.3 469Q358 475.1 358.9 481.1Q359.9 487.2 360.2 493.2Q360.6 499.3 360.5 505.4Q360.3 511.4 361.9 517.5Q363.5 523.6 362.7 529.6Q361.8 535.7 362.4 541.8Q363 547.8 362.7 553.9Q362.4 559.9 363.3 566Q364.2 572.1 363.6 578.1Q363 584.2 362.6 590.3Q362.3 596.3 361.6 602.4Q360.9 608.5 360.4 614.5Q360 620.6 360.6 626.6L361.2 632.7M366.2 527.8Q366.5 540.1 367.6 546.3Q368.8 552.5 369.3 558.6Q369.8 564.8 369.7 571Q369.6 577.2 369.6 583.3Q369.6 589.5 369.8 595.7Q370 601.9 369.1 608Q368.2 614.2 368.9 620.4Q369.6 626.6 370 632.7Q370.5 638.9 370.2 645.1L369.9 651.3M364.2 531.7Q364.3 544 364.1 550.1Q363.8 556.3 363.4 562.5Q363.1 568.6 362.8 574.8Q362.5 581 361.1 587.1Q359.6 593.3 359.2 599.5Q358.9 605.6 358.2 611.8Q357.5 618 357.2 624.1Q356.8 630.3 356.8 636.4Q356.8 642.6 356.8 648.8Q356.8 654.9 356.9 661.1Q357 667.3 357.4 673.4Q357.9 679.6 357.4 685.8L356.9 691.9M366 513.3Q364.7 526 365.9 532.4Q367 538.8 366.2 545.1Q365.3 551.5 365.1 557.9Q364.9 564.3 364.9 570.7Q364.9 577 365 583.4Q365 589.8 364.8 596.2Q364.5 602.5 364.5 608.9Q364.5 615.3 363.9 621.7Q363.3 628.1 363.8 634.4Q364.2 640.8 364.1 647.2Q364 653.6 365.3 659.9L366.7 666.3M365.3 450.8Q365.1 462.3 365 468.1Q364.9 473.9 364.5 479.7Q364.1 485.4 364.8 491.2Q365.5 497 365.7 502.7Q366 508.5 366.2 514.3Q366.4 520.1 366.7 525.8Q367 531.6 367.3 537.4Q367.7 543.1 366.2 548.9Q364.7 554.7 365.1 560.5Q365.4 566.2 365.7 572Q365.9 577.8 368 583.5Q370.1 589.3 370.1 595.1Q370 600.9 370.8 606.6Q371.6 612.4 370.8 618.2Q369.9 623.9 370.8 629.7Q371.7 635.5 370.7 641.3Q369.7 647 371 652.8Q372.3 658.6 370.1 664.3Q367.8 670.1 369.3 675.9Q370.9 681.7 370.6 687.4L370.3 693.2M367.4 509.1Q364.9 521.4 365.4 527.5Q365.9 533.6 368.6 539.8Q371.4 545.9 371 552Q370.7 558.2 370.1 564.3Q369.6 570.5 370.1 576.6Q370.6 582.7 369.4 588.9Q368.3 595 369.3 601.1Q370.3 607.3 370.2 613.4Q370.2 619.6 370.7 625.7Q371.3 631.8 370.6 638Q370 644.1 370.1 650.2Q370.2 656.4 369.9 662.5Q369.6 668.7 369.8 674.8Q370 680.9 371.4 687.1L372.8 693.2M360.5 450.8Q361.6 462.4 361.7 468.2Q361.9 474 361.3 479.8Q360.6 485.6 360.1 491.4Q359.5 497.2 359.9 503Q360.2 508.8 360.3 514.6Q360.4 520.4 360.8 526.2Q361.1 532.1 360.4 537.9Q359.6 543.7 358.2 549.5Q356.8 555.3 357.7 561.1Q358.6 566.9 359.5 572.7Q360.4 578.5 361.4 584.3Q362.3 590.1 362.1 595.9Q361.8 601.7 361 607.5Q360.3 613.3 361.6 619.1Q362.8 624.9 363.1 630.7Q363.3 636.5 363.5 642.3Q363.6 648.1 363.4 653.9Q363.1 659.7 362.3 665.5L361.4 671.3M360.8 450.8Q362.5 463 363.4 469.1Q364.3 475.2 363.9 481.3Q363.5 487.4 363.9 493.5Q364.3 499.6 365.3 505.7Q366.2 511.8 364.8 517.9Q363.3 524 362.6 530.1Q361.9 536.2 362.6 542.4Q363.2 548.5 362.1 554.6Q361 560.7 359.3 566.8Q357.6 572.9 357.8 579Q358 585.1 357.4 591.2Q356.8 597.3 356.8 603.4Q356.8 609.5 356.8 615.6Q356.8 621.7 356.8 627.8Q356.8 633.9 356.8 640L356.8 646.1M360.4 450.8Q356.8 462.3 356.8 468.1Q356.8 473.9 356.8 479.7Q356.8 485.4 356.8 491.2Q356.8 497 356.8 502.7Q356.8 508.5 356.8 514.3Q356.8 520.1 356.8 525.8Q356.8 531.6 356.8 537.4Q356.8 543.1 356.8 548.9Q356.8 554.7 356.8 560.5Q356.8 566.2 356.8 572Q356.8 577.8 356.8 583.5Q356.8 589.3 356.8 595.1Q356.8 600.9 356.8 606.6Q356.8 612.4 356.8 618.2Q356.8 623.9 356.8 629.7Q356.8 635.5 356.8 641.3Q356.8 647 356.8 652.8Q356.8 658.6 356.8 664.3Q356.8 670.1 358.6 675.9Q360.4 681.7 360.9 687.4L361.4 693.2M362.3 498.3Q359.4 510.3 358.5 516.3Q357.6 522.3 358 528.4Q358.5 534.4 358.8 540.4Q359.1 546.4 358.9 552.4Q358.7 558.4 357.9 564.5Q357.1 570.5 357.6 576.5Q358.2 582.5 358.5 588.5Q358.8 594.5 359.8 600.6Q360.9 606.6 361.3 612.6Q361.8 618.6 362.6 624.6Q363.4 630.6 363.2 636.7Q362.9 642.7 361.9 648.7Q360.9 654.7 362.1 660.7Q363.2 666.7 363.9 672.8Q364.6 678.8 365 684.8L365.4 690.8M359.1 450.8Q358 462.3 358.9 468.1Q359.8 473.9 359.6 479.7Q359.5 485.4 359.9 491.2Q360.3 497 360 502.7Q359.7 508.5 358.5 514.3Q357.4 520.1 358.6 525.8Q359.8 531.6 360.1 537.4Q360.4 543.1 360.6 548.9Q360.7 554.7 359.5 560.5Q358.2 566.2 359.3 572Q360.3 577.8 358.8 583.5Q357.3 589.3 358.4 595.1Q359.4 600.9 359.2 606.6Q359 612.4 357.9 618.2Q356.8 623.9 356.8 629.7Q356.8 635.5 356.8 641.3Q356.8 647 356.8 652.8Q356.8 658.6 356.8 664.3Q356.8 670.1 356.8 675.9Q356.8 681.7 356.8 687.4L356.8 693.2M364.2 450.8Q362.3 462.3 361.8 468.1Q361.2 473.9 361.8 479.7Q362.5 485.4 363.1 491.2Q363.8 497 363.5 502.7Q363.1 508.5 363.5 514.3Q363.8 520.1 363.8 525.8Q363.7 531.6 363.7 537.4Q363.8 543.1 362.7 548.9Q361.6 554.7 362.1 560.5Q362.5 566.2 361.3 572Q360.1 577.8 359.6 583.5Q359 589.3 359.4 595.1Q359.7 600.9 359.8 606.6Q360 612.4 360.6 618.2Q361.3 623.9 360.3 629.7Q359.3 635.5 360.5 641.3Q361.6 647 360 652.8Q358.3 658.6 358.7 664.3Q359.2 670.1 358.3 675.9Q357.5 681.7 357.5 687.4L357.5 693.2M369.6 468Q370.3 480 368.9 485.9Q367.4 491.9 368.6 497.9Q369.8 503.9 369 509.9Q368.1 515.9 366.7 521.9Q365.3 527.9 364.6 533.9Q363.8 539.9 364.2 545.9Q364.5 551.9 363.6 557.9Q362.7 563.9 362.8 569.9Q363 575.9 364.2 581.9Q365.5 587.9 364.7 593.9Q364 599.9 365.3 605.9Q366.5 611.8 367.3 617.8Q368.1 623.8 367.7 629.8Q367.3 635.8 369 641.8Q370.6 647.8 370.3 653.8Q369.9 659.8 369.7 665.8Q369.5 671.8 369.4 677.8L369.3 683.8M365.8 455.9Q366.7 468.1 366.5 474.2Q366.2 480.3 365.8 486.4Q365.3 492.5 365.8 498.6Q366.4 504.7 365.1 510.8Q363.9 516.9 363.7 523Q363.5 529.1 361.6 535.2Q359.7 541.3 361.1 547.4Q362.6 553.5 363.5 559.6Q364.5 565.7 363.5 571.8Q362.5 577.9 362 584Q361.5 590.1 361.4 596.2Q361.3 602.3 362.5 608.4Q363.8 614.5 365.2 620.6Q366.6 626.7 365.9 632.8Q365.2 638.9 365.5 645Q365.7 651.1 365.5 657.2L365.2 663.3M359.3 576.6Q359.7 589.5 359.2 596Q358.7 602.5 359 609Q359.2 615.5 358.8 621.9Q358.3 628.4 358 634.9Q357.6 641.4 357.2 647.8Q356.8 654.3 357.1 660.8Q357.3 667.3 357.6 673.8Q357.9 680.2 358.9 686.7L359.9 693.2M366.1 450.8Q366.7 463.3 367 469.5Q367.4 475.7 366.7 482Q366.1 488.2 366 494.4Q365.8 500.7 366.4 506.9Q367 513.1 366.6 519.3Q366.2 525.6 366.2 531.8Q366.2 538 366.9 544.3Q367.7 550.5 367.4 556.7Q367.1 563 366.9 569.2L366.8 575.4M364.5 450.8Q366 462.3 366.5 468.1Q367.1 473.9 366.7 479.7Q366.3 485.4 367.1 491.2Q367.9 497 367.7 502.7Q367.6 508.5 369 514.3Q370.4 520.1 369 525.8Q367.6 531.6 369.9 537.4Q372.1 543.1 372.3 548.9Q372.4 554.7 370.3 560.5Q368.2 566.2 366.9 572Q365.5 577.8 365.3 583.5Q365.1 589.3 366.2 595.1Q367.4 600.9 368.1 606.6Q368.9 612.4 369 618.2Q369.2 623.9 369 629.7Q368.8 635.5 368.1 641.3Q367.4 647 367 652.8Q366.6 658.6 368.1 664.3Q369.7 670.1 370.7 675.9Q371.7 681.7 371.6 687.4L371.5 693.2M363.2 499.7Q362 512 362.2 518.1Q362.4 524.3 362.1 530.5Q361.7 536.6 361 542.8Q360.3 549 360.7 555.1Q361 561.3 360.3 567.4Q359.6 573.6 359.3 579.8Q359 585.9 357.9 592.1Q356.8 598.2 356.8 604.4Q356.8 610.6 356.8 616.7Q356.8 622.9 357.4 629.1Q357.9 635.2 357.7 641.4Q357.6 647.5 358.8 653.7Q360 659.9 359.7 666L359.4 672.2M587.6 602.4Q585.6 588.8 585 580.6Q584.4 572.4 578.9 564.9Q573.5 557.4 573.9 549.9Q574.3 542.3 576.8 535Q579.3 527.7 582.9 520.1Q586.4 512.4 586.6 505.1Q586.8 497.8 586 490.8Q585.2 483.7 585.8 475.8L586.4 467.9M595.7 655.6Q576.6 660.2 568.8 666.6Q561.1 673 552.7 675Q544.3 677 537.2 679.3Q530.1 681.6 520.9 684.1Q511.7 686.7 504.1 689.9Q496.5 693.2 488.8 693.2Q481.1 693.2 474.5 693.2Q468 693.2 461.2 693.2Q454.3 693.2 448.4 691.1Q442.4 689 436.4 682.9Q430.4 676.8 424.5 671Q418.6 665.2 412.1 661.9Q405.5 658.7 400.7 651.3Q395.8 643.8 390 637.1Q384.3 630.4 378.1 624.4Q372 618.5 367.3 608.1L362.7 597.7M366.7 506.9Q367.2 521.7 367.1 529.7Q367 537.7 369 544.5Q371.1 551.3 369.7 558.9Q368.3 566.5 370.3 574.2Q372.2 581.9 374.6 588.6Q376.9 595.4 376.4 603.7Q375.8 611.9 377.5 618.6Q379.1 625.3 382.7 630.8Q386.4 636.4 391.4 643.5Q396.4 650.5 401.3 655.3Q406.2 660.1 412.3 665.8Q418.4 671.5 425.4 675.8Q432.3 680.2 440.3 684.2L448.2 688.2M583.4 460.8Q568.7 466.4 562.3 468Q555.9 469.5 547.6 469.4Q539.4 469.3 532.5 471.8Q525.7 474.2 519 475.2Q512.2 476.2 505.7 479.3Q499.2 482.4 491.4 483.8Q483.6 485.2 476.9 486.3Q470.1 487.4 462.6 487.1Q455.2 486.7 448.9 489.3Q442.6 491.8 435.7 494.5Q428.9 497.1 422.2 500.4Q415.6 503.6 409.3 506Q403 508.5 396.1 512.5Q389.2 516.4 384.1 522.4Q378.9 528.4 373.3 533.3L367.7 538.2M591 494.7Q572.2 497.3 563.8 499.4Q555.3 501.6 548.1 500.4Q540.9 499.2 532.2 496.5Q523.5 493.8 516.7 489.8Q509.9 485.7 503.7 479.4Q497.5 473.1 492.9 464L488.3 454.8M528.6 689.9Q526.6 674.7 526 665.5Q525.5 656.4 522.3 649.3Q519.1 642.3 517.8 635.8Q516.5 629.3 514.1 623Q511.6 616.6 508 610Q504.5 603.4 500.8 597.1Q497.1 590.9 491.5 585.7Q486 580.5 483.4 574.3Q480.8 568.2 477 563Q473.2 557.9 469.8 552.1Q466.3 546.2 462.2 540.8Q458.1 535.3 453 529.7Q448 524.1 442.1 518.9Q436.2 513.7 429.6 510Q422.9 506.3 420.6 500.4Q418.4 494.6 411.9 489.4Q405.4 484.3 399.1 481.6Q392.9 479 386.8 474.1Q380.6 469.2 375 464.8L369.3 460.5M367.8 553.2Q375.3 541.1 384 540.5Q392.7 540 399.5 537.6Q406.3 535.1 410.9 529.1Q415.4 523.1 421.3 519.8Q427.1 516.6 432.9 511.2Q438.6 505.8 445.6 503.8Q452.5 501.7 459.5 499Q466.6 496.4 473 492.2Q479.4 488 485.7 485.9Q492 483.9 499.2 480.1Q506.4 476.3 511.1 472.1Q515.9 468 521.9 463.9L527.9 459.9M561.2 683.1Q552 660.8 547.2 651.9Q542.4 642.9 537.8 632.8Q533.2 622.6 527.9 615Q522.5 607.5 517.2 602.2Q512 596.9 506.5 591.8Q501 586.7 494.8 582.7Q488.6 578.7 480.6 578.7Q472.6 578.8 465.7 579Q458.7 579.3 451.4 581.3Q444.1 583.3 435.5 587.8Q426.9 592.2 418.7 596Q410.5 599.9 402.1 603.5Q393.7 607.2 385.9 610.6Q378.2 613.9 368.5 621.1L358.8 628.2M591.1 543.9Q579.3 538 571.9 535Q564.5 531.9 557.7 527.1Q550.9 522.2 545.1 520.8Q539.3 519.3 532.4 516.6Q525.6 514 518.6 512Q511.6 510.1 506.1 504.8Q500.6 499.4 494 495.5Q487.4 491.5 481.2 487.5Q475 483.5 469.7 479.8Q464.4 476 457.7 473.4Q451 470.7 445.7 465.6L440.5 460.5M513.4 450.8Q497.8 458.2 490.3 461.2Q482.7 464.2 475.6 467.5Q468.6 470.7 463.2 474.9Q457.9 479 451.6 483.5Q445.4 488 437.8 491.8Q430.2 495.6 427.9 501.4Q425.5 507.1 419.9 512.4Q414.3 517.7 408 521Q401.7 524.2 400 531.9Q398.4 539.7 395.1 546.2Q391.9 552.7 386.5 556.5Q381.1 560.3 377.4 566.1Q373.7 571.9 371.4 578.9Q369.2 585.8 368.2 594Q367.3 602.2 366.6 610.6Q365.9 619.1 364.8 625.9Q363.8 632.7 363 640.8Q362.1 648.8 362.6 657.8L363 666.8M427.1 684.7Q434.8 671.7 435.8 664.9Q436.7 658.1 441.4 651.7Q446 645.4 450 638.8Q453.9 632.3 458 626.5Q462 620.6 466.1 614.9Q470.2 609.1 474.1 602.3Q478 595.4 482.9 589.2Q487.7 582.9 488.3 576.1Q489 569.2 492.1 562.7Q495.3 556.2 497.3 549Q499.3 541.7 502.4 535.9Q505.5 530 507.4 522.9Q509.2 515.7 509.3 508.4Q509.4 501 512.5 492.5Q515.5 484 515.7 477.1Q515.9 470.2 520.2 464.8L524.6 459.4M401.8 692.2Q418.4 693.2 426.2 693.2Q434 693.2 442.2 693.2Q450.3 693.2 457.3 693.2Q464.3 693.2 471.2 691.8Q478.2 690.4 485.1 690.9Q492 691.4 499 687.7Q505.9 684 514.1 680.7Q522.3 677.4 528.1 674.6Q534 671.9 541.6 670.2Q549.2 668.5 556 666Q562.9 663.5 571.1 660.8Q579.4 658.1 585.1 655.1L590.9 652M587.3 485.5Q573.4 489.4 566.5 489.7Q559.6 489.9 552.7 491.4Q545.9 493 539 495.2Q532.2 497.5 526.3 500.7Q520.4 504 513.3 504Q506.2 504.1 498 503.3Q489.7 502.5 483.7 504.7Q477.7 506.9 471.5 509.9Q465.3 513 458.1 512.8Q450.9 512.7 444.8 516.2Q438.7 519.8 432.5 522.6Q426.2 525.5 419.5 528Q412.7 530.5 406.6 533Q400.4 535.6 394.4 538.4Q388.4 541.3 381.9 544.2Q375.4 547.2 369.2 550.9L362.9 554.7M593 573.1Q597.1 556.9 597.1 550.6Q597.1 544.2 597.1 536.5Q597.1 528.8 597.1 521Q597.1 513.2 597.1 505.9Q597.1 498.5 597.1 491.6Q597.1 484.6 597.1 475.3Q597.1 465.9 596.3 459.6L595.4 453.3M588.4 560.1Q577.4 539.4 570.3 531.6Q563.2 523.8 556.9 516.4Q550.6 509 544.3 503.5Q537.9 498 531.4 494.2Q524.9 490.3 518.4 484.9Q511.9 479.5 504.1 477Q496.2 474.6 489.1 473.9Q482.1 473.2 474.6 474Q467.2 474.7 459.8 475.5Q452.5 476.3 445.1 478.9Q437.8 481.4 428.8 483.8Q419.7 486.2 411.9 491.7Q404.1 497.2 396.8 503.5Q389.5 509.8 381.2 514.8Q372.9 519.9 365.3 525.2L357.7 530.4M361.3 680.6Q367.7 668 371.4 659.3Q375.2 650.6 379.9 642.9Q384.5 635.2 388.1 625.4Q391.6 615.6 396.6 612.4Q401.7 609.2 407.3 605.2Q413 601.2 416.4 594Q419.8 586.9 426 582.9Q432.1 579 437.8 574.2Q443.4 569.5 449.2 566.5Q455.1 563.5 461 558.5Q466.8 553.6 472.4 551.9Q478.1 550.2 486.1 547.8Q494.2 545.3 501 544.6Q507.8 543.9 515.9 545.7Q524 547.4 533 548.2Q542 549 550.3 550.4Q558.7 551.9 567.9 555.1Q577.1 558.2 585.6 561.9L594.1 565.5M413.8 459.6Q425.4 465.4 432.3 467.3Q439.1 469.2 445.9 472.4Q452.6 475.7 458.2 481.3Q463.9 487 470.2 488.6Q476.6 490.2 484.1 491.2Q491.5 492.1 498.2 494.1Q504.8 496 513.9 495.2Q523 494.4 527.9 497.8Q532.8 501.2 539.5 502.6Q546.3 504 554.4 505.9Q562.5 507.8 568.1 511.7Q573.6 515.5 579.5 518.4L585.5 521.4M368.3 458.4Q382.4 450.8 389.8 450.8Q397.2 450.8 405.2 450.8Q413.1 450.8 419.5 450.8Q425.9 450.8 433.3 450.8Q440.8 450.8 448.1 450.8Q455.5 450.8 462.7 450.8Q469.8 450.8 477.8 450.8Q485.7 450.8 492.3 450.8Q498.9 450.8 506.3 453.8L513.7 456.8M366.6 576.7Q374.9 600.1 376.2 609.8Q377.5 619.6 381.9 629.7Q386.2 639.8 389.6 648.2Q392.9 656.6 398.6 661.6Q404.2 666.5 408.2 673.7Q412.1 680.9 416.8 687.1Q421.5 693.2 426.7 693.2Q431.8 693.2 439.1 693.2Q446.4 693.2 453.1 693.2Q459.8 693.2 466.8 693.2Q473.8 693.2 481.6 693.2Q489.3 693.2 497.6 693.2Q505.9 693.2 515.3 693.2Q524.6 693.2 533.8 693.2Q543 693.2 553.6 693.2Q564.2 693.2 574.8 688.6L585.5 684.1M362 646.7Q364.7 630.1 366.6 624.1Q368.5 618.1 372.4 611.9Q376.3 605.8 376.6 597.4Q376.9 589 379.4 581Q381.8 573 382.9 566.2Q383.9 559.4 387.7 552.7Q391.4 546.1 395.7 540.1Q400.1 534.1 403.6 528.3Q407.2 522.5 412.5 516.7Q417.7 510.8 422.8 504.9Q427.8 499.1 434.8 494.4Q441.7 489.7 448.7 485.4Q455.7 481 459.6 475.6Q463.5 470.3 470.1 465.5L476.6 460.7M595.5 632.5Q587.7 647.5 581.4 654.8Q575.2 662 570.6 668.2Q566 674.5 557.7 677.2Q549.5 679.9 542.9 683.1Q536.4 686.2 528.3 688.2Q520.3 690.1 511.6 691.7Q503 693.2 493.9 691.8L484.9 690.4M363.1 559.8Q364.8 544.3 364.2 535.7Q363.6 527.1 367 520.1Q370.3 513.1 372.7 506.3Q375 499.4 380.4 494.4Q385.8 489.3 392.2 484.5Q398.6 479.8 406.6 475.4Q414.7 471 420.6 466.1L426.5 461.2M586.3 546Q569.3 547.7 560.8 550.1Q552.4 552.6 545.2 552.7Q538 552.8 531.2 552.4Q524.5 552 516.9 550.4Q509.3 548.8 502.5 547.6Q495.8 546.3 487.7 545Q479.6 543.8 473.4 542.7Q467.2 541.7 460.3 537.7Q453.3 533.6 446.7 530.4Q440.1 527.2 433.6 524.6Q427.1 522 421.6 517.3Q416 512.6 411.4 506.1Q406.7 499.6 399.2 496.6Q391.7 493.5 386.5 488.8Q381.4 484.1 375.4 478.1Q369.5 472 364.8 467.4L360.2 462.7M429.6 459.2Q443.7 463.6 451 467.4Q458.2 471.2 463.2 473.4Q468.1 475.5 475.5 476.7Q482.9 477.9 490.3 480Q497.7 482.2 505.2 482.2Q512.6 482.2 520.2 483.4Q527.8 484.6 534 488.4Q540.1 492.1 546.2 494.1Q552.3 496 559.2 497Q566.2 498 574.1 501.9Q582 505.7 588.2 508L594.4 510.2M358.1 503.1Q373.7 505.4 381.5 507Q389.3 508.7 397.7 508.6Q406 508.5 412.8 511.1Q419.6 513.8 426 516.8Q432.5 519.8 440.4 521Q448.2 522.1 455.1 524.1Q461.9 526.1 469.8 526.7Q477.6 527.3 485 530.4Q492.4 533.5 497.9 537.2Q503.5 541 509.4 544Q515.4 547 521.2 551.4Q527.1 555.7 532.1 561.2Q537.1 566.7 541.1 574.4Q545.1 582.1 549 587.6Q552.8 593.2 557.9 599.6Q563 606.1 567.5 610.8Q572.1 615.5 575.9 622.6Q579.8 629.6 582.9 637.3Q586.1 645.1 588.8 652.3L591.6 659.6M365.3 543.7Q381 546.2 387.5 548.9Q393.9 551.6 401.1 553.1Q408.2 554.7 414.2 557.8Q420.2 560.9 427.1 562.4Q434.1 563.9 440.6 568.5Q447.1 573 453.4 574.1Q459.7 575.3 467 578.2Q474.3 581.2 478.8 585.2Q483.3 589.2 491.6 590.7Q499.8 592.2 506.8 593.9Q513.9 595.5 520.4 599.5Q526.9 603.6 532.2 606.7Q537.4 609.9 542.5 616.2Q547.7 622.4 553.3 626.5Q558.9 630.6 564 635.1Q569.2 639.6 575.1 643.8Q581.1 647.9 587.7 652.2L594.4 656.4M488.9 456.1Q473.6 461.1 467.8 463Q462 465 454.8 468Q447.6 471 441.7 476Q435.9 481 430.3 487.2Q424.7 493.3 419.3 496.5Q413.8 499.7 406.1 501.6Q398.4 503.5 391.7 506.9Q385 510.3 379.1 515.1Q373.2 519.9 367.5 523.1L361.9 526.3M439.6 685Q452.6 676.7 457 670.1Q461.3 663.5 467.1 659.8Q472.8 656.1 480.1 654.6Q487.3 653 493.1 647.6Q499 642.2 505.1 639.2Q511.2 636.3 518 632.1Q524.7 628 532 626.1Q539.3 624.3 545.4 621Q551.5 617.7 557.9 614Q564.2 610.3 570.9 608.8Q577.5 607.3 583.3 601.1L589.1 594.8M446.3 455Q452.6 470.3 456.7 478.4Q460.8 486.5 460.9 493.8Q460.9 501.1 461.5 508.5Q462 515.9 461.4 523.8Q460.8 531.7 461.2 539.8Q461.6 547.8 460.3 554Q459 560.2 458.5 568.3Q457.9 576.3 456.3 582.1Q454.7 587.9 453.2 595.7Q451.8 603.4 450.3 609.9Q448.8 616.3 443.3 622.4Q437.8 628.5 433.6 635Q429.5 641.6 427.4 647.9Q425.3 654.2 416.9 660.5Q408.4 666.7 401.6 671.7Q394.8 676.6 391.3 683.9L387.8 691.2M407.2 686Q421.4 681.2 428.2 680.1Q435 679 442.5 679.2Q450 679.4 457.8 680.3Q465.6 681.2 472.1 677.9Q478.6 674.6 483.9 669.3Q489.2 664 497.2 662.3Q505.2 660.6 511.7 659.3Q518.2 658 525 656.6Q531.7 655.3 538.7 653.6Q545.6 651.9 552.4 646.5Q559.2 641.1 565.7 639.7Q572.3 638.3 579.5 638.3L586.8 638.2M597.1 457.7Q578 459.3 566.1 458Q554.3 456.7 545.1 457.4Q535.8 458.2 525.5 457.9Q515.1 457.7 506.4 459.2Q497.7 460.7 489.4 462.1Q481 463.4 471.9 464.4Q462.8 465.5 454.3 467.4Q445.7 469.4 436.9 471.4Q428.1 473.4 423.5 478Q418.8 482.6 413.3 486.7Q407.8 490.8 401.9 495.7Q396 500.7 392.7 506.9Q389.4 513.1 389.3 521.3Q389.3 529.4 386 536.8Q382.6 544.1 383 553.2Q383.5 562.2 381.3 569.5Q379 576.7 380.1 587.6Q381.1 598.4 382.4 608Q383.6 617.6 384.6 629.2Q385.6 640.7 387.4 652Q389.2 663.3 390.4 673.4L391.5 683.6M496.5 454.1Q494.1 470.6 494.4 478.7Q494.7 486.9 494.5 495.5Q494.3 504.2 493.3 513.2Q492.4 522.1 492.2 530Q492 537.9 497.6 544Q503.3 550.1 504.7 556.6Q506.2 563.1 509.6 570.4Q513 577.8 514.7 584.5Q516.3 591.3 522.7 596.3Q529.1 601.2 534.7 606Q540.4 610.9 548.3 615.4Q556.2 620 564 624.8Q571.8 629.6 578.5 634.7L585.2 639.8M463 692.7Q464.7 675 465 667.9Q465.3 660.7 467.9 651.3Q470.6 641.9 469.5 635.8Q468.5 629.7 466.3 622.3Q464.1 614.9 461.6 607.6Q459.1 600.3 458.3 593.6Q457.4 586.8 455.8 579.4Q454.2 571.9 453.7 563.9Q453.2 555.9 450.5 550.1Q447.8 544.3 441.6 538.9Q435.5 533.5 432.5 527Q429.5 520.4 426.6 514Q423.7 507.7 420.4 501.2Q417.1 494.7 411.4 489.7Q405.8 484.6 397.6 479.8Q389.5 474.9 383 469.5Q376.6 464.1 370 459.5L363.5 455M384.1 459.2Q384.3 474.7 385.5 482.6Q386.7 490.4 389.2 497.8Q391.7 505.3 391.1 513.3Q390.5 521.3 390.8 529.5Q391.2 537.7 391.8 547.2Q392.4 556.6 393 564Q393.7 571.3 397.1 577.3Q400.5 583.2 404 589.5Q407.5 595.7 410 602Q412.6 608.4 415.7 614.4Q418.8 620.3 423.8 625.6Q428.9 631 434.1 634.9Q439.3 638.7 443.6 644.1Q448 649.5 454.3 653.7Q460.7 657.9 470 660.2Q479.3 662.5 486 666.2Q492.8 670 501.4 671.2Q509.9 672.4 518 675.3Q526.1 678.3 533.5 682Q540.9 685.7 547.5 688.6L554.1 691.5M588 510.8Q573.7 515.2 566.7 514Q559.7 512.8 552.7 512.8Q545.6 512.8 537.5 514.7Q529.5 516.6 523 515.6Q516.6 514.6 509.2 512.1Q501.7 509.7 494.4 511.1Q487.1 512.4 479.7 511.1Q472.3 509.8 464.9 509.9Q457.6 510 451 507.6Q444.4 505.1 436.2 502.8Q428.1 500.6 422.3 496.6Q416.5 492.7 408.9 493.6Q401.3 494.4 394.1 493Q386.9 491.5 379.7 492.5Q372.6 493.4 365.4 492L358.3 490.7M589.4 477.2Q577.5 482.8 569.3 484.2Q561.1 485.5 555.3 488.9Q549.6 492.4 542 493.6Q534.5 494.8 528.2 498.1Q522 501.5 515.7 504.7Q509.4 507.9 502.9 509.6Q496.5 511.3 489.7 515.1Q483 518.9 475.5 519Q468 519.1 461.5 523.3Q455 527.6 449.4 531.7Q443.7 535.9 437.5 539.2Q431.2 542.6 425.5 546.3Q419.7 550 413 552.2Q406.2 554.3 399 557.2Q391.9 560.1 384.7 561.2Q377.5 562.4 371.3 565.2L365.1 568M594.8 659.5Q576.4 657.7 566.5 657.6Q556.5 657.5 547.6 656.5Q538.6 655.4 529.5 654.5Q520.3 653.7 514.8 650.3Q509.3 646.9 500.1 644.9Q491 642.9 482.2 641.6Q473.5 640.3 465 639.2Q456.4 638.2 450.8 634.1Q445.2 630.1 439.2 627.1Q433.2 624.1 427.1 619.3Q421.1 614.6 416.4 608.7Q411.8 602.9 408.5 596.4Q405.1 589.9 400 584.2Q394.9 578.4 392.2 570.4Q389.5 562.4 387.8 555.2Q386 548 385.1 538.1Q384.1 528.1 383.7 518.7Q383.3 509.2 381.8 500.9Q380.3 492.5 379 482.8Q377.6 473.1 377.8 463.4L378 453.7M441.9 460.9Q447.4 474.7 449.2 481.7Q451.1 488.7 451.7 496.3Q452.3 503.8 453.3 510.8Q454.3 517.8 456.5 523.9Q458.7 530 463.6 537.3Q468.5 544.6 472.3 551.8Q476.2 559 476.8 566.2Q477.4 573.4 477.8 581Q478.1 588.7 477.3 595.7Q476.4 602.7 476.9 610.6Q477.3 618.4 474.5 625.6Q471.6 632.8 472.3 640.5Q473 648.2 470.4 654.9Q467.8 661.7 465 669.5Q462.2 677.2 465.6 684.4L469 691.5M539.6 454.1Q526.9 460.2 518.6 461.8Q510.3 463.5 501.8 462.9Q493.3 462.4 485.7 464.6Q478.2 466.7 470.7 468.3Q463.2 469.9 457.9 473.7Q452.5 477.6 446.6 482.2Q440.7 486.8 434.9 489.8Q429.1 492.8 422.8 497Q416.4 501.3 412.2 507.3Q407.9 513.2 404.7 518.8Q401.5 524.4 396.1 529.1Q390.6 533.8 386.9 541.5Q383.1 549.2 380.3 557.6Q377.5 566 375.6 572.4Q373.7 578.8 370 584.8L366.4 590.9M589.7 632.3Q577.8 624.1 575.4 616.9Q573.1 609.8 571.5 602.8Q570 595.9 565 590.8Q560.1 585.6 554.8 581.4Q549.5 577.2 543.1 571.8Q536.7 566.5 531.5 562Q526.3 557.5 523 552.1Q519.7 546.8 515.2 540.8Q510.7 534.8 506.3 529.6Q501.8 524.5 499.2 517.4Q496.6 510.4 492.1 505.7Q487.7 501.1 484.7 494Q481.8 486.8 480.1 480Q478.4 473.2 473.1 467.9Q467.7 462.6 464.1 457L460.6 451.4M533.5 462.2Q510.7 456 500.7 455Q490.6 453.9 478.6 452.3Q466.6 450.8 458.4 450.8Q450.1 450.8 442.2 452.6Q434.3 454.4 427.7 457.5Q421.2 460.6 415.9 464.9Q410.7 469.3 404.6 472.8Q398.5 476.3 392.3 481.1Q386 485.8 382.3 493Q378.5 500.1 376.2 508.6Q373.9 517.1 372.5 527.3Q371.2 537.5 369 546.6Q366.8 555.7 364.7 565.8Q362.7 575.9 361.7 584.9L360.7 593.9M442.3 688.6Q448.2 674.3 451.2 666.6Q454.2 658.8 455.4 652.2Q456.6 645.7 462.1 638.6Q467.6 631.5 466.9 624.1Q466.2 616.8 470.5 609.9Q474.9 602.9 476.5 595.4Q478.1 587.9 479.9 580.8Q481.8 573.6 481 566.4Q480.2 559.1 475.4 552.4Q470.7 545.8 470.4 538.5Q470.1 531.2 466.6 524.8Q463.2 518.3 460.6 510.7Q458 503.1 454.4 496.3Q450.8 489.4 448.9 480.8Q447 472.3 443.9 466.4L440.9 460.5M375.4 452.1Q390.5 458.5 394.7 463Q399 467.5 405.1 472.4Q411.2 477.2 417.9 480.2Q424.5 483.2 429.9 487.1Q435.3 490.9 443.1 493.6Q451 496.3 455.8 501.5Q460.6 506.6 467.8 509.3Q474.9 511.9 480.8 515Q486.6 518.1 491.6 524.2Q496.5 530.3 498.8 537.1Q501 544 506 549.1Q510.9 554.3 515 558.7Q519 563 523.1 569.5Q527.2 575.9 531.2 582.6Q535.1 589.2 539.1 594.1Q543.1 599 543.8 608.3Q544.6 617.6 547.8 624.6Q551.1 631.6 556.2 634.9Q561.3 638.3 564.7 644.6Q568.1 651 571.9 657.5Q575.7 664 579.9 669.4Q584.2 674.7 587 681.1L589.9 687.4M593.6 594.9Q579.3 594.6 572.4 595.5Q565.4 596.5 559.1 594Q552.8 591.5 545.5 590.9Q538.3 590.3 532.2 587.5Q526.2 584.7 518.6 583.5Q511 582.3 504.8 582.1Q498.6 581.9 491.3 582.6Q484.1 583.3 476.5 584.7Q468.9 586 461.8 584.8Q454.8 583.5 448.6 581.7Q442.5 579.8 435.6 579.2Q428.7 578.7 422.4 575.6Q416.1 572.5 409.4 572Q402.7 571.4 395.2 567.9Q387.8 564.5 381.6 562.2Q375.4 559.9 368.2 560.5L360.9 561.1M366.5 452.1Q358.6 454.2 362.4 453.1Q366.3 452 368.2 452Q370.2 452.1 368.6 455.8Q367.1 459.5 362.5 456.4Q358 453.4 358.4 453.9Q358.7 454.3 359.4 456.3L360.2 458.3M361.9 456.4Q362.4 451 361.4 457.8Q360.4 464.5 362 462.6Q363.7 460.8 366.3 463.4Q368.9 466 365.5 462.9Q362.2 459.9 364.2 464.6Q366.2 469.3 367.6 463L369 456.8M374.6 457.7Q364.1 458.7 364.2 459.1Q364.4 459.6 367.4 457Q370.4 454.5 367.7 454.3Q364.9 454.1 363.5 454Q362.1 454 361.1 453.9Q360.1 453.8 362.6 456.3L365.1 458.8M590.8 452.9Q588.5 451.7 588.4 462.7Q588.2 473.7 589.6 466.4Q591.1 459.1 583.8 457.9Q576.5 456.8 584.8 456.6Q593.1 456.3 592.6 453.6Q592.1 451 593.5 456.6L594.9 462.3M588.4 455.8Q595.2 457.6 591.7 462.7Q588.2 467.8 588.3 466.7Q588.5 465.5 590.4 467.7Q592.3 469.9 588.6 464.5Q584.8 459.1 586.3 455.3Q587.7 451.6 587.2 458.6L586.7 465.5M588.7 454Q592.9 464.8 593.8 459.1Q594.6 453.4 594.9 454Q595.2 454.7 594.6 458.8Q594 462.8 590.2 461.5Q586.4 460.2 587 459.2Q587.7 458.1 591.2 461.6L594.8 465.2M361.7 686.5Q366.7 689.2 362.6 689.1Q358.6 689.1 362 683.6Q365.4 678.1 368.5 679.3Q371.5 680.4 364.9 681.9Q358.2 683.4 357.6 684.7Q357 686 362.5 681.8L368.1 677.5M360.3 679.8Q361.3 675.7 360.5 681.7Q359.6 687.6 363.5 685.7Q367.5 683.8 369.9 684.2Q372.3 684.6 366.1 687.8Q360 690.9 366 690.5Q372 690.1 365.9 689.1L359.9 688.1M364.1 673.8Q366.3 687.7 361.8 689.9Q357.4 692.2 357.1 686.3Q356.9 680.4 358 684.3Q359 688.2 362.4 688.6Q365.9 689 363.2 686.9Q360.5 684.8 360.3 687.2L360 689.6M593.8 685.6Q592.1 692.6 594 691.1Q595.9 689.6 589.9 691.1Q583.9 692.6 587.9 691.7Q592 690.8 588.1 689.4Q584.3 688.1 587.6 687.4Q590.9 686.6 592.1 689.7L593.3 692.8M570.8 690.3Q574.2 691.2 581.7 686.8Q589.1 682.4 587.3 683.3Q585.5 684.3 588.8 687.4Q592.1 690.5 591.4 688.5Q590.7 686.5 588.1 687.3Q585.6 688.2 585.3 688.3L585 688.3M595.9 676.7Q595.8 670.4 595.2 677Q594.6 683.6 594.9 681.6Q595.2 679.6 593.8 683.2Q592.3 686.8 594.7 681.5Q597 676.2 586.8 683.4Q576.5 690.6 586.2 690.3L595.9 690.1"/>
<path d="M88.4 729.5Q100.4 728.4 106.5 729.2Q112.5 730 118.5 730.8Q124.5 731.5 130.6 731.1Q136.6 730.6 142.6 730.3Q148.6 730.1 154.7 732Q160.7 734 166.7 734Q172.8 734.1 178.8 733.1Q184.8 732.2 190.8 733.5Q196.8 734.9 202.9 735.8Q208.9 736.6 214.9 736.8Q220.9 737.1 227 736.7Q233 736.4 239 736.2Q245.1 736.1 251.1 736.4Q257.1 736.8 263.1 735.4Q269.1 733.9 275.2 734Q281.2 734 287.2 734.1Q293.2 734.1 299.3 733.8Q305.3 733.4 311.3 733.8Q317.4 734.1 323.4 732.1L329.4 730M185.2 727.8Q197.2 726.8 203.2 727.4Q209.2 727.9 215.2 727.1Q221.2 726.3 227.2 724.8Q233.2 723.4 239.3 724.4Q245.3 725.4 251.3 725.6Q257.3 725.8 263.3 727.1Q269.3 728.5 275.3 728.1Q281.3 727.6 287.3 728.8Q293.3 730 299.4 729.1Q305.4 728.3 311.4 728.6Q317.4 728.9 323.4 729.6L329.4 730.3M142.4 726.2Q155.1 727.6 161.5 726.9Q167.9 726.3 174.3 727.2Q180.6 728.2 187 728.9Q193.4 729.6 199.8 729.2Q206.1 728.7 212.5 728.9Q218.9 729 225.3 730Q231.7 730.9 238 728.4Q244.4 726 250.8 725.6Q257.2 725.1 263.6 725Q269.9 724.8 276.3 725.1L282.7 725.3M88.4 736.2Q100.4 733.2 106.5 733.4Q112.5 733.7 118.5 733.6Q124.5 733.6 130.6 734.2Q136.6 734.7 142.6 733.9Q148.6 733.1 154.7 733.9Q160.7 734.7 166.7 734Q172.8 733.3 178.8 734.5Q184.8 735.7 190.8 736Q196.8 736.3 202.9 736.1Q208.9 735.9 214.9 737.5Q220.9 739 227 737.4Q233 735.8 239 735Q245.1 734.3 251.1 735.4Q257.1 736.6 263.1 736.9Q269.1 737.2 275.2 737.3Q281.2 737.4 287.2 738.3Q293.2 739.3 299.3 739.2Q305.3 739.1 311.3 739.9Q317.4 740.7 323.4 740.9L329.4 741M91.9 720.6Q103.7 721.4 109.7 720.8Q115.6 720.3 121.6 719.9Q127.5 719.6 133.4 719.3Q139.4 719 145.3 719.8Q151.3 720.7 157.2 720.2Q163.1 719.8 169.1 720.7Q175 721.7 180.9 722.7Q186.9 723.7 192.8 721.4Q198.8 719.1 204.7 719.8Q210.6 720.6 216.6 720.8Q222.5 721 228.4 721.7Q234.4 722.4 240.3 723.7Q246.3 725.1 252.2 723.9Q258.1 722.7 264.1 722.7Q270 722.7 276 723.3Q281.9 723.9 287.8 723Q293.8 722 299.7 720.4Q305.6 718.7 311.6 720.2Q317.5 721.7 323.5 721.2L329.4 720.8M88.4 725.2Q100.4 724 106.5 725.2Q112.5 726.4 118.5 725.7Q124.5 725 130.6 722.9Q136.6 720.9 142.6 721.8Q148.6 722.8 154.7 723.9Q160.7 725.1 166.7 725.2Q172.8 725.3 178.8 724.7Q184.8 724.1 190.8 723.5Q196.8 722.9 202.9 723.4Q208.9 723.9 214.9 723.3Q220.9 722.6 227 722.7Q233 722.7 239 723.7Q245.1 724.7 251.1 725.1Q257.1 725.5 263.1 726.4Q269.1 727.4 275.2 726.6Q281.2 725.9 287.2 725.1Q293.2 724.2 299.3 723.5Q305.3 722.9 311.3 722.8Q317.4 722.7 323.4 723.5L329.4 724.3M88.4 722.7Q100.4 721.7 106.5 722.5Q112.5 723.2 118.5 722.6Q124.5 722 130.6 723.3Q136.6 724.5 142.6 724.4Q148.6 724.3 154.7 724.3Q160.7 724.4 166.7 722.9Q172.8 721.3 178.8 721.4Q184.8 721.5 190.8 722.1Q196.8 722.7 202.9 723.8Q208.9 724.9 214.9 723.9Q220.9 722.9 227 720.8Q233 718.8 239 718.9Q245.1 719.1 251.1 718.9Q257.1 718.7 263.1 718.7Q269.1 718.7 275.2 718.8Q281.2 718.8 287.2 718.8Q293.2 718.7 299.3 718.7Q305.3 718.7 311.3 719Q317.4 719.2 323.4 719.4L329.4 719.5M88.4 723.5Q100.4 721.7 106.5 721.1Q112.5 720.4 118.5 719.9Q124.5 719.3 130.6 719.1Q136.6 718.8 142.6 718.8Q148.6 718.9 154.7 718.8Q160.7 718.7 166.7 718.9Q172.8 719.1 178.8 718.9Q184.8 718.7 190.8 719.2Q196.8 719.6 202.9 720.4Q208.9 721.2 214.9 720Q220.9 718.7 227 718.7Q233 718.7 239 718.7Q245.1 718.7 251.1 718.7Q257.1 718.7 263.1 718.7Q269.1 718.7 275.2 718.7Q281.2 718.7 287.2 718.7Q293.2 718.7 299.3 718.7Q305.3 718.7 311.3 718.7Q317.4 718.7 323.4 718.7L329.4 718.7M125.6 727.7Q137.3 728.1 143.2 729.2Q149.1 730.3 155 731.6Q160.9 732.9 166.8 733.3Q172.7 733.8 178.6 733.8Q184.5 733.9 190.4 733.7Q196.3 733.4 202.2 733.4Q208 733.4 213.9 734.1Q219.8 734.8 225.7 734.9Q231.6 735 237.5 735.1Q243.4 735.3 249.3 733.9Q255.2 732.6 261.1 733.4Q267 734.2 272.9 733.4Q278.7 732.6 284.6 731.8Q290.5 731 296.4 730.2Q302.3 729.3 308.2 729.5Q314.1 729.7 320 730.8L325.9 732M176 725.3Q188.7 726.2 195.1 726.9Q201.5 727.5 207.9 727.2Q214.3 726.8 220.7 725.9Q227.1 725 233.5 724.6Q239.9 724.3 246.3 723.3Q252.7 722.3 259.1 722.2Q265.5 722 271.9 721.8Q278.3 721.6 284.6 721.5Q291 721.4 297.4 722.2Q303.8 722.9 310.2 722.7Q316.6 722.5 323 722.1L329.4 721.7M88.4 723.9Q100.4 723.3 106.5 722.7Q112.5 722 118.5 720.9Q124.5 719.7 130.6 719.9Q136.6 720.1 142.6 720.5Q148.6 720.9 154.7 721.7Q160.7 722.4 166.7 722.7Q172.8 723 178.8 723.8Q184.8 724.7 190.8 724.5Q196.8 724.2 202.9 724.2Q208.9 724.1 214.9 725.9Q220.9 727.7 227 727.4Q233 727.1 239 727.6Q245.1 728.2 251.1 728.8Q257.1 729.4 263.1 728.4Q269.1 727.5 275.2 727.7Q281.2 727.9 287.2 728.6Q293.2 729.3 299.3 729.2Q305.3 729.2 311.3 728.1Q317.4 727 323.4 727.1L329.4 727.2M88.4 733.3Q100.4 734.4 106.4 734.8Q112.4 735.2 118.4 736.7Q124.4 738.2 130.4 738.5Q136.4 738.9 142.4 738.8Q148.4 738.6 154.4 737.3Q160.4 735.9 166.4 736.5Q172.4 737.1 178.4 737.7Q184.4 738.3 190.4 739.3Q196.4 740.3 202.4 739.4Q208.4 738.5 214.4 738.5Q220.4 738.5 226.4 738.3Q232.4 738.2 238.4 738Q244.4 737.9 250.4 736.8Q256.4 735.8 262.4 737L268.4 738.2M106.5 730.2Q120.4 729 127.3 728.7Q134.2 728.3 141.1 729.4Q148 730.5 155 731Q161.9 731.5 168.8 732.8Q175.7 734 182.6 732.8Q189.5 731.7 196.5 731.5L203.4 731.2M88.4 725Q100.7 725.6 106.9 726.9Q113.1 728.1 119.2 726.9Q125.4 725.7 131.6 726.3Q137.7 726.8 143.9 725.6Q150 724.5 156.2 724.4Q162.4 724.3 168.5 723.4Q174.7 722.5 180.9 720.7Q187 718.8 193.2 718.7Q199.4 718.7 205.5 719.4Q211.7 720.1 217.9 720.3Q224 720.5 230.2 720.9Q236.3 721.3 242.5 722.2Q248.7 723.1 254.8 722.4Q261 721.7 267.2 722.1Q273.3 722.6 279.5 722.3L285.7 722M88.4 725.7Q100.4 726.4 106.5 727.6Q112.5 728.8 118.5 728.6Q124.5 728.5 130.6 728.4Q136.6 728.3 142.6 727.3Q148.6 726.3 154.7 727.5Q160.7 728.6 166.7 728.5Q172.8 728.4 178.8 727.4Q184.8 726.4 190.8 728.4Q196.8 730.3 202.9 731.4Q208.9 732.4 214.9 732Q220.9 731.6 227 731.1Q233 730.6 239 730.6Q245.1 730.5 251.1 729.8Q257.1 729.1 263.1 728Q269.1 726.9 275.2 728.1Q281.2 729.3 287.2 730.8Q293.2 732.2 299.3 731.1Q305.3 730 311.3 729.8Q317.4 729.5 323.4 729.4L329.4 729.3M186.4 729.5Q199.4 729.2 205.9 728.7Q212.4 728.1 218.9 727.4Q225.4 726.6 231.9 727.1Q238.4 727.7 244.9 729.1Q251.4 730.4 257.9 731.2Q264.4 731.9 270.9 730.7Q277.4 729.5 283.9 728.9Q290.4 728.3 296.9 727Q303.4 725.7 309.9 726.2Q316.4 726.7 322.9 726.6L329.4 726.5M88.4 728.6Q100.4 726.7 106.5 726.4Q112.5 726.2 118.5 727.7Q124.5 729.2 130.6 729.9Q136.6 730.5 142.6 731.2Q148.6 731.9 154.7 730.7Q160.7 729.5 166.7 731.2Q172.8 732.8 178.8 732.9Q184.8 733 190.8 732.7Q196.8 732.4 202.9 731.8Q208.9 731.3 214.9 731.1Q220.9 730.9 227 731.5Q233 732.2 239 732.2Q245.1 732.2 251.1 731.9Q257.1 731.6 263.1 729.8Q269.1 728.1 275.2 728.1Q281.2 728.2 287.2 727.8Q293.2 727.4 299.3 728Q305.3 728.6 311.3 727.9Q317.4 727.2 323.4 726.9L329.4 726.6M321.6 807.9Q326.3 819.8 325 825.7Q323.7 831.7 323 837.6Q322.3 843.5 321.8 849.5Q321.3 855.4 321.5 861.4Q321.7 867.3 322.1 873.2Q322.6 879.2 324.3 885.1Q326.1 891 325.5 897Q324.8 902.9 323.8 908.9Q322.7 914.8 322.5 920.7Q322.2 926.7 322.7 932.6Q323.2 938.5 323.4 944.5Q323.7 950.4 322.8 956.4L322 962.3M327.8 768.5Q326.6 780.4 327.7 786.4Q328.8 792.4 328.1 798.4Q327.5 804.3 326.8 810.3Q326 816.3 325.4 822.3Q324.8 828.3 323.8 834.2Q322.9 840.2 323.8 846.2Q324.8 852.2 324.7 858.2Q324.7 864.1 326.7 870.1Q328.8 876.1 329.1 882.1Q329.4 888.1 329.3 894Q329.3 900 329.3 906Q329.4 912 329.2 918Q329.1 923.9 327.8 929.9Q326.6 935.9 326.7 941.9L326.9 947.9M324.4 827.1Q324.2 840.1 324.4 846.6Q324.6 853.1 325.1 859.6Q325.7 866.1 325.2 872.6Q324.7 879.1 325.2 885.6Q325.6 892.1 324.6 898.6Q323.5 905.2 324.3 911.7Q325.1 918.2 324.9 924.7Q324.7 931.2 324.6 937.7Q324.4 944.2 324.1 950.7L323.9 957.2M313.9 718.7Q314.1 730.3 313.4 736.1Q312.7 741.9 312.9 747.7Q313.2 753.5 314 759.3Q314.9 765.1 315.4 770.9Q316 776.7 315.2 782.5Q314.4 788.3 313.8 794.1Q313.1 799.9 312.3 805.7Q311.5 811.5 311.7 817.3Q311.9 823.1 310.5 828.9Q309 834.7 309.4 840.5Q309.8 846.3 311.1 852.1Q312.3 857.9 311.7 863.7Q311 869.5 310.8 875.3Q310.6 881.1 310.9 886.9Q311.1 892.7 310.8 898.5Q310.4 904.3 311.2 910.1Q312.1 915.9 312.4 921.7Q312.7 927.5 312.2 933.3Q311.8 939.1 313.4 944.9Q315 950.7 314.8 956.5L314.6 962.3M325.7 754.6Q324.5 767.5 326.3 773.9Q328.2 780.4 328.1 786.8Q328.1 793.3 327.6 799.7Q327 806.2 327.3 812.6Q327.6 819.1 326.7 825.5Q325.8 832 324.4 838.5Q323 844.9 323.5 851.4Q324.1 857.8 323 864.3L321.9 870.7M326.4 718.7Q326 730.3 325.5 736.1Q325 741.9 324.6 747.7Q324.2 753.5 325.2 759.3Q326.3 765.1 326 770.9Q325.7 776.7 327.6 782.5Q329.4 788.3 329.4 794.1Q329.4 799.9 329.4 805.7Q329.4 811.5 329.4 817.3Q329.4 823.1 329.4 828.9Q329.4 834.7 329.2 840.5Q329.1 846.3 329.2 852.1Q329.4 857.9 329.4 863.7Q329.4 869.5 329.4 875.3Q329.4 881.1 329.4 886.9Q329.4 892.7 329.4 898.5Q329.4 904.3 329.4 910.1Q329.4 915.9 329.4 921.7Q329.4 927.5 329.4 933.3Q329.4 939.1 329.4 944.9Q329.4 950.7 329.4 956.5L329.4 962.3M316.2 718.7Q317.6 730.3 317.5 736.1Q317.5 741.9 317.7 747.7Q318 753.5 317.9 759.3Q317.8 765.1 316.8 770.9Q315.8 776.7 316.9 782.5Q318 788.3 318.2 794.1Q318.4 799.9 318 805.7Q317.6 811.5 318.7 817.3Q319.8 823.1 320.1 828.9Q320.4 834.7 319.6 840.5Q318.9 846.3 318.5 852.1Q318.1 857.9 319.5 863.7Q320.8 869.5 321.1 875.3Q321.4 881.1 321 886.9Q320.7 892.7 321.3 898.5Q322 904.3 322 910.1Q321.9 915.9 321.6 921.7Q321.3 927.5 319.4 933.3Q317.4 939.1 317.7 944.9Q318.1 950.7 318.5 956.5L319 962.3M324 752.4Q322.9 764.1 324.2 769.9Q325.4 775.7 325.2 781.6Q325 787.4 324.3 793.2Q323.6 799 323.3 804.9Q323 810.7 322 816.5Q321 822.4 319.9 828.2Q318.9 834 318.5 839.9Q318.1 845.7 317.6 851.5Q317.1 857.3 316.6 863.2Q316.1 869 316.4 874.8Q316.6 880.7 314.9 886.5Q313.2 892.3 314 898.2Q314.9 904 315.6 909.8Q316.2 915.7 316.3 921.5Q316.4 927.3 315.8 933.1Q315.2 939 316.3 944.8Q317.4 950.6 318 956.5L318.7 962.3M321.1 718.7Q321.4 730.3 321.4 736.1Q321.4 741.9 322.4 747.7Q323.4 753.5 321.4 759.3Q319.4 765.1 320.2 770.9Q321.1 776.7 320.5 782.5Q320 788.3 318.6 794.1Q317.2 799.9 316.4 805.7Q315.5 811.5 316.5 817.3Q317.5 823.1 318.4 828.9Q319.2 834.7 318.9 840.5Q318.6 846.3 320.3 852.1Q322.1 857.9 321.6 863.7Q321.2 869.5 320 875.3Q318.9 881.1 320.2 886.9Q321.6 892.7 321.3 898.5Q321 904.3 321.6 910.1Q322.2 915.9 321.9 921.7Q321.7 927.5 321.5 933.3Q321.3 939.1 321.7 944.9Q322.2 950.7 322.6 956.5L323.1 962.3M325.2 836.7Q324.8 849.2 325.7 855.5Q326.5 861.8 327.3 868.1Q328.1 874.4 328.1 880.6Q328.1 886.9 327.4 893.2Q326.6 899.5 326.8 905.8Q327.1 912 324.6 918.3Q322.2 924.6 325 930.9Q327.7 937.2 326.9 943.5Q326.2 949.7 325.3 956L324.4 962.3M324.5 718.7Q325.1 730.8 324.6 736.8Q324.1 742.8 324 748.8Q324 754.9 324.3 760.9Q324.6 766.9 324.9 772.9Q325.3 779 323.7 785Q322.1 791 323.6 797.1Q325 803.1 325.8 809.1Q326.6 815.1 327.3 821.2Q328 827.2 328.2 833.2Q328.4 839.2 328.6 845.3Q328.8 851.3 327.9 857.3L327 863.3M321.8 757.6Q322 769.7 322.2 775.8Q322.4 781.9 322.1 787.9Q321.8 794 321.9 800.1Q322 806.2 322.5 812.2Q323.1 818.3 322.1 824.4Q321 830.5 321.4 836.6Q321.9 842.6 322.3 848.7Q322.8 854.8 321.9 860.9Q320.9 866.9 320.7 873Q320.4 879.1 319.5 885.2Q318.5 891.3 319.8 897.3Q321 903.4 322.3 909.5Q323.6 915.6 323.5 921.6Q323.5 927.7 324 933.8Q324.5 939.9 324.5 946L324.5 952M324.9 719.9Q327.6 731.8 327 737.8Q326.4 743.8 327.8 749.7Q329.1 755.7 328.9 761.6Q328.7 767.6 328.2 773.6Q327.7 779.5 328 785.5Q328.3 791.4 328.5 797.4Q328.8 803.4 328.2 809.3Q327.7 815.3 327.9 821.2Q328.2 827.2 327.6 833.1Q327 839.1 328.2 845.1Q329.4 851 327.4 857Q325.4 862.9 325.5 868.9Q325.6 874.9 326 880.8Q326.4 886.8 326.2 892.7L326.1 898.7M320.6 751Q323.4 764.3 321.4 771Q319.3 777.6 321.6 784.2Q324 790.9 322.4 797.5Q320.9 804.1 321.9 810.8Q322.9 817.4 322.6 824Q322.3 830.7 323.3 837.3Q324.3 844 323.8 850.6L323.2 857.2M318.5 718.7Q319.4 730.3 318.9 736.1Q318.5 741.9 318.1 747.7Q317.8 753.5 318.2 759.3Q318.6 765.1 318.7 770.9Q318.8 776.7 320 782.5Q321.3 788.3 320.7 794.1Q320.1 799.9 320.1 805.7Q320.1 811.5 320.3 817.3Q320.6 823.1 321.9 828.9Q323.1 834.7 322.7 840.5Q322.4 846.3 323.3 852.1Q324.3 857.9 324.1 863.7Q323.9 869.5 323.5 875.3Q323.1 881.1 322.8 886.9Q322.5 892.7 322.9 898.5Q323.2 904.3 322.8 910.1Q322.4 915.9 321.3 921.7Q320.1 927.5 318.8 933.3Q317.5 939.1 318.5 944.9Q319.4 950.7 319.6 956.5L319.9 962.3M324.9 718.7Q319.9 730.3 320.3 736.1Q320.8 741.9 318.5 747.7Q316.1 753.5 315.8 759.3Q315.5 765.1 314.7 770.9Q313.9 776.7 313.2 782.5Q312.6 788.3 315.4 794.1Q318.3 799.9 317.2 805.7Q316.1 811.5 316 817.3Q315.8 823.1 315.8 828.9Q315.7 834.7 316.7 840.5Q317.7 846.3 319.1 852.1Q320.6 857.9 320.4 863.7Q320.3 869.5 320.7 875.3Q321 881.1 321.4 886.9Q321.9 892.7 322.7 898.5Q323.6 904.3 322.9 910.1Q322.2 915.9 322.3 921.7Q322.3 927.5 322.1 933.3Q321.9 939.1 322.7 944.9Q323.5 950.7 323.8 956.5L324.1 962.3M328.4 791.4Q327 804 328.2 810.3Q329.4 816.6 329.4 823Q329.4 829.3 329.4 835.6Q329.4 841.9 329.4 848.2Q329.4 854.5 329.4 860.8Q329.4 867.1 329.4 873.4Q329.4 879.7 329.4 886Q329.4 892.3 329.4 898.6Q329.4 904.9 329.4 911.2Q329.4 917.6 329.4 923.9Q329.4 930.2 329.4 936.5Q329.4 942.8 329.4 949.1L329.4 955.4M88.4 955.8Q100.4 955.9 106.5 956.8Q112.5 957.7 118.5 956.6Q124.5 955.4 130.6 955.8Q136.6 956.1 142.6 953.9Q148.6 951.7 154.7 952.5Q160.7 953.2 166.7 951.3Q172.8 949.4 178.8 949.6Q184.8 949.8 190.8 949.4Q196.8 949.1 202.9 949.5Q208.9 950 214.9 949.4Q220.9 948.8 227 948.8Q233 948.7 239 950.7Q245.1 952.6 251.1 952.5Q257.1 952.3 263.1 952.1Q269.1 951.9 275.2 952.2Q281.2 952.5 287.2 954.2Q293.2 955.9 299.3 957.4Q305.3 958.8 311.3 958.1Q317.4 957.4 323.4 959.8L329.4 962.3M165 946.3Q178.7 946.2 185.5 944.4Q192.4 942.6 199.2 941.3Q206 940 212.9 938.8Q219.7 937.7 226.5 939.7Q233.4 941.8 240.2 942.1Q247 942.5 253.9 943.3Q260.7 944.1 267.5 944L274.4 944M88.4 958Q100.4 960.8 106.5 959.7Q112.5 958.6 118.5 958.7Q124.5 958.7 130.6 957.7Q136.6 956.8 142.6 956.7Q148.6 956.7 154.7 956.8Q160.7 956.9 166.7 956.9Q172.8 956.9 178.8 958Q184.8 959.1 190.8 959Q196.8 958.8 202.9 960.1Q208.9 961.3 214.9 960.8Q220.9 960.3 227 959.3Q233 958.3 239 958.2Q245.1 958 251.1 956.9Q257.1 955.8 263.1 955.3Q269.1 954.8 275.2 954.7Q281.2 954.7 287.2 953.7Q293.2 952.7 299.3 953.6Q305.3 954.5 311.3 954.2Q317.4 954 323.4 954.4L329.4 954.8M88.4 952.4Q100.4 953.8 106.4 953.2Q112.4 952.7 118.4 953.7Q124.4 954.6 130.4 954.8Q136.5 955 142.5 956.8Q148.5 958.6 154.5 957.6Q160.5 956.7 166.5 956.6Q172.5 956.4 178.5 955.8Q184.5 955.1 190.5 954.7Q196.5 954.3 202.5 954.4Q208.5 954.5 214.5 953.8Q220.5 953.2 226.5 953.2Q232.6 953.2 238.6 952.8Q244.6 952.5 250.6 953Q256.6 953.5 262.6 952.6L268.6 951.7M214.3 957.1Q227.1 953.4 233.5 952.8Q239.9 952.2 246.3 952.3Q252.7 952.4 259.1 952.7Q265.5 952.9 271.9 952.6Q278.2 952.3 284.6 953Q291 953.8 297.4 954.6Q303.8 955.5 310.2 956.3Q316.6 957.2 323 956.2L329.4 955.2M169.9 953.6Q182.1 954.4 188.3 953.1Q194.4 951.7 200.5 952.2Q206.7 952.7 212.8 953.4Q218.9 954.1 225.1 955.2Q231.2 956.4 237.4 955.4Q243.5 954.4 249.6 954Q255.8 953.6 261.9 952.8Q268 952 274.2 953.2Q280.3 954.3 286.4 955.1Q292.6 955.8 298.7 956.2Q304.9 956.6 311 956.3Q317.1 956 323.3 955.8L329.4 955.7M88.4 961.6Q101 958.8 107.4 958.3Q113.7 957.8 120 957.5Q126.3 957.3 132.6 958.8Q139 960.2 145.3 959.8Q151.6 959.4 157.9 960Q164.2 960.6 170.6 960.9Q176.9 961.2 183.2 961Q189.5 960.9 195.8 961.2Q202.1 961.5 208.5 961.9Q214.8 962.3 221.1 962.3Q227.4 962.3 233.7 962L240.1 961.7M142.3 950.6Q154 948.2 159.8 947.8Q165.7 947.4 171.5 946.1Q177.4 944.7 183.2 945.6Q189.1 946.5 194.9 946.1Q200.8 945.8 206.6 946.4Q212.5 946.9 218.3 947.5Q224.1 948.1 230 946.7Q235.8 945.3 241.7 946Q247.5 946.7 253.4 948Q259.2 949.2 265.1 950.8Q270.9 952.3 276.8 951.8Q282.6 951.3 288.5 951.7Q294.3 952.1 300.2 952.4Q306 952.8 311.9 952.4Q317.7 951.9 323.6 950.6L329.4 949.3M88.4 956.2Q100.4 955.2 106.5 954Q112.5 952.9 118.5 951.8Q124.5 950.7 130.6 950.4Q136.6 950.1 142.6 951.9Q148.6 953.7 154.7 953.9Q160.7 954.1 166.7 953.9Q172.8 953.7 178.8 953.9Q184.8 954.2 190.8 954.8Q196.8 955.4 202.9 955.8Q208.9 956.2 214.9 956.2Q220.9 956.2 227 956.3Q233 956.4 239 956.3Q245.1 956.2 251.1 955.5Q257.1 954.7 263.1 953.4Q269.1 952.1 275.2 953.6Q281.2 955 287.2 953.8Q293.2 952.6 299.3 953.9Q305.3 955.1 311.3 955Q317.4 954.9 323.4 954.9L329.4 955M92.9 953.6Q106.3 953 113 951.7Q119.6 950.4 126.3 951.6Q133 952.8 139.7 953.6Q146.4 954.4 153.1 956.2Q159.7 958 166.4 957.8Q173.1 957.7 179.8 957.6Q186.5 957.5 193.2 956.9L199.8 956.4M88.4 956.7Q100.4 957.2 106.5 958.3Q112.5 959.3 118.5 958.7Q124.5 958.1 130.6 958.1Q136.6 958.1 142.6 958.8Q148.6 959.4 154.7 959.6Q160.7 959.9 166.7 958.4Q172.8 956.9 178.8 957Q184.8 957.1 190.8 957Q196.8 956.9 202.9 956.9Q208.9 957 214.9 956.3Q220.9 955.6 227 955.6Q233 955.6 239 956.5Q245.1 957.4 251.1 957.9Q257.1 958.5 263.1 958.8Q269.1 959.2 275.2 958.2Q281.2 957.3 287.2 957.4Q293.2 957.5 299.3 957.2Q305.3 956.8 311.3 956.3Q317.4 955.8 323.4 956.1L329.4 956.3M88.4 955.9Q100.9 956.9 107.2 957.5Q113.4 958.1 119.7 957.9Q125.9 957.8 132.2 956.1Q138.4 954.4 144.7 953.9Q150.9 953.5 157.2 952.7Q163.5 951.9 169.7 952.9Q176 953.9 182.2 952.9Q188.5 951.8 194.7 952.4Q201 953 207.2 955.1Q213.5 957.2 219.8 958L226 958.9M88.4 953.8Q100.4 953.9 106.5 951.3Q112.5 948.7 118.5 948.6Q124.5 948.5 130.6 948.7Q136.6 948.9 142.6 948.3Q148.6 947.7 154.7 947Q160.7 946.3 166.7 946.6Q172.8 946.8 178.8 949.2Q184.8 951.5 190.8 951.5Q196.8 951.5 202.9 951.3Q208.9 951.1 214.9 951.7Q220.9 952.3 227 951.1Q233 950 239 951Q245.1 952 251.1 951.3Q257.1 950.5 263.1 951Q269.1 951.4 275.2 951.6Q281.2 951.9 287.2 951Q293.2 950.2 299.3 951.2Q305.3 952.3 311.3 952.4Q317.4 952.4 323.4 954.1L329.4 955.8M88.4 955.7Q100.4 954.8 106.5 952.9Q112.5 950.9 118.5 950.9Q124.5 950.8 130.6 951.4Q136.6 951.9 142.6 953.3Q148.6 954.8 154.7 954.1Q160.7 953.4 166.7 953.2Q172.8 953.1 178.8 953Q184.8 952.8 190.8 952.5Q196.8 952.2 202.9 952.5Q208.9 952.7 214.9 952Q220.9 951.2 227 951.2Q233 951.2 239 951.6Q245.1 952 251.1 952.1Q257.1 952.1 263.1 952.7Q269.1 953.2 275.2 953.3Q281.2 953.4 287.2 953.2Q293.2 953 299.3 953Q305.3 953.1 311.3 952.2Q317.4 951.2 323.4 952.1L329.4 953M88.4 959.8Q100.4 959.6 106.5 961Q112.5 962.3 118.5 962Q124.5 961.8 130.6 960.7Q136.6 959.7 142.6 959.9Q148.6 960.1 154.7 959.4Q160.7 958.7 166.7 959Q172.8 959.4 178.8 960.1Q184.8 960.7 190.8 961.5Q196.8 962.3 202.9 961.7Q208.9 961 214.9 961.5Q220.9 962 227 961.4Q233 960.9 239 961.6Q245.1 962.3 251.1 961.3Q257.1 960.2 263.1 960.8Q269.1 961.3 275.2 961.3Q281.2 961.2 287.2 960.9Q293.2 960.5 299.3 961Q305.3 961.5 311.3 960.5Q317.4 959.4 323.4 959.5L329.4 959.7M130.6 957.8Q142.7 959 148.8 958.2Q154.9 957.5 161 957.9Q167 958.2 173.1 957.9Q179.2 957.5 185.3 957.8Q191.3 958.1 197.4 957.1Q203.5 956.2 209.6 957.4Q215.6 958.6 221.7 958.2Q227.8 957.9 233.9 957.6Q239.9 957.3 246 956.5Q252.1 955.6 258.2 955.3L264.2 954.9M103 955Q115.2 955.2 121.3 954.8Q127.5 954.4 133.6 953.6Q139.7 952.8 145.8 952.6Q152 952.3 158.1 951.2Q164.2 950.1 170.3 952.8Q176.5 955.4 182.6 956.4Q188.7 957.3 194.8 957.3Q201 957.2 207.1 957.5Q213.2 957.8 219.3 958.2Q225.5 958.6 231.6 956.9Q237.7 955.1 243.8 955.8L250 956.6M91 730Q89.3 742.1 89 748.2Q88.8 754.2 88.8 760.3Q88.7 766.4 88.5 772.4Q88.4 778.5 88.4 784.5Q88.4 790.6 88.4 796.7Q88.4 802.7 88.4 808.8Q88.4 814.8 88.4 820.9Q88.4 826.9 89.1 833Q89.8 839.1 90.4 845.1Q90.9 851.2 90.3 857.2Q89.7 863.3 89.5 869.3Q89.2 875.4 90.5 881.5L91.9 887.5M101.7 786.8Q102.8 799.3 103.2 805.6Q103.5 811.9 101.5 818.2Q99.5 824.4 100.3 830.7Q101.1 837 101.2 843.3Q101.4 849.6 102.1 855.8Q102.9 862.1 102.8 868.4Q102.6 874.7 101.8 881Q101 887.2 101.7 893.5Q102.3 899.8 101.2 906.1Q100.1 912.4 100.7 918.6Q101.3 924.9 102.1 931.2L102.9 937.5M95.5 732.3Q96.2 745.6 95.7 752.2Q95.2 758.9 96.2 765.5Q97.2 772.2 97.2 778.8Q97.2 785.5 96.5 792.1Q95.9 798.8 94.6 805.4Q93.3 812.1 94.6 818.7Q96 825.4 96.8 832Q97.6 838.7 96.7 845.3L95.8 852M90.3 810.6Q89.5 823.3 90.5 829.6Q91.6 835.9 91.7 842.2Q91.8 848.6 92.3 854.9Q92.8 861.2 90.8 867.5Q88.9 873.8 88.7 880.2Q88.4 886.5 88.4 892.8Q88.4 899.1 88.4 905.4Q88.4 911.7 88.4 918.1Q88.4 924.4 88.7 930.7Q89 937 89.2 943.3Q89.4 949.7 88.9 956L88.4 962.3M105.4 718.7Q106.1 730.6 105.7 736.5Q105.2 742.5 104.5 748.4Q103.8 754.4 103.4 760.3Q103 766.3 104.5 772.2Q105.9 778.2 104.8 784.1Q103.7 790.1 103.9 796Q104.1 802 104.4 807.9Q104.6 813.9 105.4 819.8Q106.2 825.8 106.4 831.7Q106.7 837.7 105.5 843.6Q104.3 849.6 103.5 855.5Q102.7 861.5 102.5 867.4Q102.4 873.4 102.3 879.3Q102.2 885.3 102.4 891.2Q102.6 897.2 101.9 903.1Q101.3 909.1 102.1 915L102.9 921M94 732.8Q91.7 745.8 90.8 752.3Q89.9 758.8 89.3 765.2Q88.6 771.7 88.6 778.2Q88.7 784.7 89.2 791.1Q89.7 797.6 90 804.1Q90.3 810.6 90.9 817.1Q91.5 823.5 91.6 830Q91.8 836.5 90.8 843Q89.8 849.4 89.3 855.9Q88.9 862.4 90.1 868.9L91.4 875.4M94.1 718.7Q95.3 730.3 95.2 736.1Q95.1 741.9 95.7 747.7Q96.2 753.5 97 759.3Q97.8 765.1 98 770.9Q98.1 776.7 98.5 782.5Q98.8 788.3 98 794.1Q97.1 799.9 96.2 805.7Q95.3 811.5 96.1 817.3Q96.8 823.1 95.8 828.8Q94.8 834.6 94 840.4Q93.3 846.2 94.2 852Q95 857.8 95.1 863.6Q95.1 869.4 97 875.2Q98.9 881 98.1 886.8Q97.3 892.6 97.6 898.4Q97.9 904.2 99.2 910Q100.6 915.8 100.2 921.6Q99.9 927.4 99.2 933.2Q98.5 939 98 944.8L97.5 950.6M92.8 787Q92.9 800.1 92 806.7Q91.2 813.2 92.5 819.8Q93.8 826.4 94.6 832.9Q95.4 839.5 95.7 846.1Q96 852.6 95.2 859.2Q94.4 865.8 95.3 872.4Q96.3 878.9 96.1 885.5L96 892.1M91.7 804.8Q92.6 816.9 93.7 823Q94.8 829.1 94.3 835.1Q93.8 841.2 93.1 847.2Q92.4 853.3 91.3 859.3Q90.1 865.4 89.3 871.4Q88.4 877.5 88.7 883.6Q88.9 889.6 88.7 895.7Q88.4 901.7 89.4 907.8Q90.5 913.8 90.6 919.9Q90.7 926 90.4 932Q90 938.1 90 944.1Q90 950.2 89.4 956.2L88.8 962.3M93.7 723.9Q95.6 736.5 95.7 742.8Q95.8 749.1 96.8 755.4Q97.9 761.7 98.5 768Q99.2 774.3 99.1 780.6Q98.9 787 98.4 793.3Q97.8 799.6 97.3 805.9Q96.8 812.2 97.4 818.5Q98 824.8 97.8 831.1Q97.6 837.4 98.2 843.7Q98.9 850 98.9 856.3L99 862.6M93.7 718.7Q92.4 730.3 92.6 736.1Q92.8 741.9 92.9 747.7Q93.1 753.5 92.2 759.3Q91.3 765.1 90.2 770.9Q89 776.7 89.9 782.5Q90.8 788.3 91 794.1Q91.2 799.9 91.9 805.7Q92.5 811.5 92.6 817.3Q92.6 823.1 93.3 828.9Q93.9 834.7 95.1 840.5Q96.3 846.3 96.4 852.1Q96.5 857.9 97.6 863.7Q98.7 869.5 98.6 875.3Q98.6 881.1 98.4 886.9Q98.3 892.7 97.6 898.5Q97 904.3 96.8 910.1Q96.5 915.9 97.2 921.7Q97.9 927.5 96.7 933.3Q95.5 939.1 95.5 944.9Q95.6 950.7 94.8 956.5L94 962.3M89.1 718.7Q90 730.3 89.4 736.1Q88.8 741.9 89.6 747.7Q90.5 753.5 90.6 759.3Q90.7 765.1 90.1 770.9Q89.6 776.7 91.6 782.5Q93.7 788.3 94.2 794.1Q94.6 799.9 94.1 805.7Q93.6 811.5 94.2 817.3Q94.8 823.1 93.9 828.9Q93 834.7 92.4 840.5Q91.8 846.3 90.8 852.1Q89.7 857.9 89.4 863.7Q89.1 869.5 89.5 875.3Q90 881.1 92 886.9Q94 892.7 93.3 898.5Q92.6 904.3 93 910.1Q93.4 915.9 93.4 921.7Q93.3 927.5 92.6 933.3Q91.8 939.1 93.3 944.9Q94.7 950.7 94.9 956.5L95.1 962.3M96 720.2Q96.3 731.7 94.3 737.5Q92.4 743.2 93.9 749Q95.4 754.8 96.4 760.5Q97.3 766.3 96.1 772.1Q94.8 777.8 94.8 783.6Q94.7 789.4 94.3 795.1Q93.9 800.9 94.5 806.7Q95.1 812.4 93.6 818.2Q92 824 92.6 829.7Q93.2 835.5 93.1 841.2Q93 847 91.4 852.8Q89.7 858.5 91.8 864.3Q94 870.1 92.7 875.8Q91.4 881.6 90.4 887.4Q89.3 893.1 90.2 898.9Q91.1 904.7 91.5 910.4Q91.9 916.2 92.2 921.9Q92.6 927.7 92.7 933.5Q92.9 939.2 93.2 945Q93.4 950.8 93.1 956.5L92.8 962.3M91.8 834Q93.5 846.9 93.1 853.3Q92.8 859.7 93.2 866.1Q93.5 872.5 94.3 878.9Q95.1 885.3 96.8 891.8Q98.5 898.2 97.7 904.6Q96.9 911 96.5 917.4Q96.1 923.8 96.1 930.2Q96.1 936.6 94.7 943.1Q93.3 949.5 92.6 955.9L92 962.3M94.6 838Q97.2 850.4 95.9 856.7Q94.5 862.9 93.6 869.1Q92.6 875.3 93.5 881.5Q94.4 887.7 93.3 893.9Q92.3 900.2 92.6 906.4Q92.9 912.6 93.9 918.8Q94.9 925 95 931.2Q95 937.4 94.3 943.7Q93.6 949.9 93.4 956.1L93.1 962.3M88.9 835.7Q88.4 848.3 88.4 854.7Q88.4 861 88.4 867.3Q88.4 873.7 88.4 880Q88.4 886.3 88.4 892.7Q88.4 899 88.4 905.3Q88.4 911.6 88.9 918Q89.4 924.3 88.9 930.6Q88.4 937 89.3 943.3Q90.3 949.6 89.3 956L88.4 962.3M95.2 718.7Q95 730.3 96.6 736.1Q98.3 741.9 98.3 747.7Q98.3 753.5 96.7 759.3Q95.1 765.1 94.3 770.9Q93.6 776.7 94.6 782.5Q95.6 788.3 94.6 794.1Q93.6 799.9 94.8 805.7Q96 811.5 97.3 817.3Q98.5 823.1 98.1 828.9Q97.6 834.7 97.5 840.5Q97.4 846.3 97.4 852.1Q97.4 857.9 97.7 863.7Q97.9 869.5 97.1 875.3Q96.3 881.1 93.8 886.9Q91.3 892.7 92.6 898.5Q93.9 904.3 94 910.1Q94.1 915.9 93.1 921.7Q92.1 927.5 92.2 933.3Q92.2 939.1 91.8 944.9Q91.5 950.7 91.5 956.5L91.4 962.3M212.2 720.9Q215.2 734.8 214.9 740.9Q214.6 747.1 218.6 754.9Q222.7 762.7 224 768.8Q225.3 774.9 223.9 782.3Q222.6 789.8 225.3 796.5Q227.9 803.2 228.4 810.9Q228.8 818.5 227.7 824.9Q226.5 831.3 227.6 837.7Q228.7 844.2 228.8 850.7Q228.9 857.2 228.6 864.7Q228.4 872.3 228.6 878.9Q228.9 885.6 229 892.6Q229.2 899.5 227.3 907.1Q225.4 914.8 224.3 920.9Q223.1 927 222.6 934.7Q222 942.5 224 949.2L226.1 955.8M89.8 838.2Q116.8 828.3 128.1 827.2Q139.4 826.1 149.2 825Q159.1 823.9 170.4 823.1Q181.7 822.4 187.7 825.2Q193.7 828.1 199.8 833.5Q205.9 839 209.9 845.2Q213.9 851.5 218.8 858Q223.6 864.6 224.4 873.8Q225.1 883.1 227.6 892.4Q230.1 901.7 229.3 913.7Q228.5 925.8 227.6 938.9L226.8 952M321.1 739.2Q309.9 746.7 303.3 749.6Q296.8 752.4 289.7 755.5Q282.7 758.5 277 762.2Q271.2 765.9 263.7 768Q256.1 770 249.2 772Q242.2 773.9 235.9 778.5Q229.6 783.1 222.6 784.4Q215.6 785.8 208.8 790.3Q201.9 794.8 197.3 798.2Q192.7 801.7 186.1 805.4Q179.5 809 176.3 815.9Q173.2 822.9 168.5 828.6Q163.8 834.2 156.5 837.3Q149.3 840.4 143.9 845.2Q138.5 850 135.2 857Q131.8 864 128.5 870Q125.1 876 121.4 883.1Q117.7 890.3 115.5 896.6Q113.3 902.9 108.6 910.2Q104 917.5 101.9 925.1Q99.8 932.7 95.1 937.7L90.4 942.6M214.9 725.2Q210.1 741.7 208.8 748.4Q207.5 755 209.3 761.4Q211 767.7 209.8 775Q208.6 782.3 208.7 789.9Q208.7 797.4 208.1 803.6Q207.4 809.8 206.8 817Q206.1 824.2 208.7 831.1Q211.3 838.1 211.2 844Q211.1 850 211.2 857.8Q211.3 865.6 213.2 872.9Q215.1 880.1 214.7 886.6Q214.2 893 215.5 900.2Q216.8 907.4 221.4 913.8Q226 920.1 226 927.4Q225.9 934.7 230.6 941.3Q235.2 947.8 237.6 954L240 960.1M98.6 941.4Q105.6 930.5 112 926.5Q118.5 922.5 126 920.6Q133.6 918.6 142.4 916.5Q151.2 914.4 157.2 908.9Q163.2 903.4 167.8 899.2Q172.3 895 177.4 890.1Q182.4 885.2 188.9 880.6Q195.3 876 198.7 869.7Q202.2 863.5 205.4 857.1Q208.6 850.7 213.7 846.9Q218.8 843 224.6 838.1Q230.4 833.2 235.3 828.2Q240.3 823.2 243.8 817.1Q247.2 810.9 249.9 802.9Q252.7 794.9 255.1 788.4Q257.5 781.8 259.1 774.3Q260.8 766.8 264.3 760.8Q267.9 754.8 271.5 747.9Q275.1 741 278.5 734.8L282 728.7M109 728.3Q123.8 720.9 131.4 719.8Q139 718.7 146.1 718.7Q153.2 718.7 161.9 718.7Q170.7 718.7 178 718.7Q185.2 718.7 192.6 718.7Q200 718.7 207.1 718.7Q214.1 718.7 221.1 718.7Q228 718.7 234.4 719.7Q240.8 720.8 247.5 723.1Q254.2 725.5 261.5 725.8Q268.7 726 275.1 732.1Q281.5 738.2 287.9 742.1Q294.2 745.9 300.9 752.4Q307.6 758.9 313.5 764.3L319.4 769.7M323.9 952.7Q327.6 938.2 326.2 930.8Q324.9 923.4 325.5 916.2Q326.1 909.1 326.8 900.7Q327.6 892.2 327.5 885.8Q327.3 879.5 328.4 871.3Q329.4 863.2 329.4 856.6Q329.4 850 327.8 842.4Q326.2 834.8 327.3 827.6Q328.5 820.4 327.8 812.9Q327.2 805.3 325.9 798.3Q324.7 791.3 321 784.6Q317.3 777.9 312.7 771.9Q308.1 765.8 304.7 759.1Q301.3 752.3 297.6 745.6Q293.8 739 290.4 731.7L286.9 724.4M95 819.3Q117.3 822.7 127.4 823.7Q137.4 824.6 147.8 827.9Q158.2 831.2 165.2 830.4Q172.2 829.7 180 826.8Q187.8 823.8 193.6 819.6Q199.4 815.4 202.2 805.7Q204.9 796 209.6 788.7Q214.3 781.5 216.6 773.5Q218.8 765.6 223.6 757.3Q228.3 749 230.2 738.9L232.1 728.8M169.3 723.8Q184.8 718.7 191.5 720.2Q198.2 721.7 205.5 724.1Q212.8 726.6 220.2 725.9Q227.7 725.3 234.7 724.4Q241.7 723.5 249.2 722.7Q256.8 721.8 262.8 721.5Q268.9 721.3 277.7 721.3Q286.4 721.3 291.8 720Q297.2 718.7 305.5 721.5Q313.9 724.3 320.3 721.9L326.6 719.4M97.3 925.9Q110.9 929.8 117.8 931.4Q124.6 932.9 131.6 934.5Q138.6 936.1 145.9 939.3Q153.2 942.6 159.7 944.3Q166.2 946 173.4 947.9Q180.5 949.7 187.3 953.6Q194.1 957.6 201.9 958.7Q209.6 959.8 216.8 960.5Q224.1 961.3 231 960.9Q237.9 960.6 245 961.4Q252 962.3 260.1 961Q268.2 959.7 275.3 958.2Q282.4 956.6 289.5 958.2Q296.7 959.9 304.5 959.2L312.2 958.6M90 880.5Q102.8 884.1 109.5 887.3Q116.3 890.5 121 895.3Q125.7 900.1 133.7 904.1Q141.6 908.2 146 911.9Q150.3 915.6 156.9 919.3Q163.5 922.9 169.3 926.6Q175.1 930.3 181.6 933.7Q188.1 937 194.5 942.3Q201 947.7 206.5 949.2Q211.9 950.7 219.3 953.5L226.7 956.3M112 950.4Q127.9 945 135.2 947Q142.5 949 150.4 950Q158.3 951 165.5 952.7Q172.7 954.5 181.1 958.4Q189.6 962.3 197.1 961.2Q204.6 960.1 212.1 955.9Q219.6 951.6 228.5 952.4Q237.3 953.2 244.6 951.5L251.8 949.8M279.2 961.1Q275 947.4 272.5 940.7Q270.1 934 267.1 926.8Q264.1 919.6 262.4 912.6Q260.8 905.6 258 899.3Q255.2 893 253.6 885.2Q251.9 877.4 246.8 872.7Q241.7 868 239.1 862.4Q236.5 856.7 232.9 850.2Q229.2 843.7 224.7 838.8Q220.2 833.9 216.4 826.8Q212.6 819.8 211.7 813.6Q210.7 807.4 207.6 800.2Q204.4 793 200.8 787.1Q197.3 781.2 193.5 775.8Q189.8 770.3 184.1 764.1Q178.5 758 175.6 752.6Q172.8 747.2 170.3 740.2Q167.8 733.1 163.4 727.1L158.9 721.1M329.1 836.7Q317 823.8 311.6 816.6Q306.1 809.5 301.6 803Q297.1 796.6 292.3 790.7Q287.4 784.9 280.6 780.3Q273.8 775.7 266.9 773.5Q259.9 771.3 253.2 769.8Q246.4 768.2 240.7 765.6Q235 763 228.8 757.4Q222.6 751.8 216.1 749.3Q209.6 746.8 201.7 749.5Q193.9 752.2 187.1 750Q180.3 747.7 173.7 744.2Q167.1 740.6 158 744.1Q149 747.6 142 748.8Q135.1 750 127.9 749.5Q120.7 749 112.8 749.9Q104.8 750.9 96.6 753.4L88.4 755.9M226.8 955.7Q220.8 942.3 218 936.6Q215.2 930.9 209.7 924.7Q204.2 918.5 201 913.7Q197.7 908.9 195.4 901.4Q193 893.8 186.9 889.2Q180.7 884.6 179.8 877.8Q179 870.9 174.7 865Q170.4 859.2 167 853Q163.5 846.8 158.6 841.4Q153.8 836.1 151.1 829.9Q148.5 823.6 146.8 816.2Q145.2 808.7 143.8 801.5Q142.5 794.3 138.6 788.8Q134.8 783.2 131.6 777.2Q128.5 771.2 124.3 765.4Q120 759.6 117.8 753.7Q115.6 747.8 109.6 742.8Q103.6 737.8 96.6 732.8L89.7 727.8M264.6 724Q270.1 736.2 272.9 743.3Q275.7 750.5 274.2 759.1Q272.8 767.8 277.5 773.4Q282.2 779 284.5 785.5Q286.7 792.1 289.2 799.1Q291.7 806 293.1 813.4Q294.6 820.8 296.6 827.7Q298.7 834.6 304.5 840.5Q310.3 846.4 312.8 852.7Q315.3 859 318 866.7L320.7 874.4M321.5 832.6Q304.3 832.4 296.7 834.8Q289.2 837.3 281.3 838.3Q273.4 839.4 266 840.1Q258.7 840.8 251.4 843.2Q244.1 845.6 236.4 846.6Q228.8 847.6 222 850.1Q215.2 852.6 211 858.2Q206.8 863.9 200.2 867.5Q193.7 871.1 188.7 875.6Q183.7 880.1 177.4 884.3Q171 888.4 166.2 893.7Q161.4 899.1 158.6 908.4Q155.9 917.7 150.5 923.7Q145.1 929.7 142.2 936Q139.3 942.3 134.7 949.5L130 956.7M119.3 727.9Q128.2 737.8 136.4 741.6Q144.7 745.4 150.8 750.5Q157 755.6 159.8 762.2Q162.7 768.7 169.4 772.8Q176.1 777 179.6 783.3Q183.1 789.7 187.3 795.1Q191.5 800.5 193.2 807.3Q194.9 814.1 200.4 819.4Q205.9 824.6 208.8 830.9Q211.6 837.2 217 842.7Q222.5 848.2 226.6 854.4Q230.8 860.5 234.8 866.9Q238.7 873.3 241.7 879.2Q244.6 885.2 248.5 890.3Q252.4 895.5 252.2 905Q251.9 914.4 254.4 921.1Q257 927.8 256.5 937.2Q256 946.6 255.6 953.6L255.1 960.6M320.3 810.3Q315.6 822.7 313.9 829.8Q312.2 836.9 307.8 842.2Q303.5 847.4 299.4 854.1Q295.2 860.9 290.7 866.1Q286.2 871.4 281.8 878Q277.4 884.6 275 890.1Q272.6 895.6 269.6 902.7Q266.6 909.8 261.5 915.1Q256.4 920.4 252.6 926Q248.7 931.6 245.2 937.3Q241.6 943 235.1 947.6L228.6 952.1M175.8 718.7Q171.3 734.7 169.7 743.6Q168 752.5 167.3 760.4Q166.5 768.4 167 775.8Q167.5 783.2 166.6 791.4Q165.6 799.7 166.1 807.1Q166.6 814.5 164.5 823.7Q162.4 832.8 163.7 839Q165 845.2 166.5 852.9Q167.9 860.7 173.3 867.1Q178.7 873.6 180.5 878.9Q182.3 884.2 188.8 890.1Q195.3 896.1 199.6 901.5Q204 907 209.5 912.6Q215 918.1 222.5 924.3Q229.9 930.4 237.4 934.9Q244.8 939.4 250.4 944.7Q255.9 949.9 261.9 955.2L267.8 960.5M175.1 718.7Q159.4 726.6 149.5 729.1Q139.5 731.5 134.4 736.9Q129.2 742.3 125.7 748.1Q122.1 753.8 117.9 761.1Q113.8 768.4 108.5 773.1Q103.1 777.8 100 783.7Q96.8 789.7 95.4 797.1Q94 804.6 97.2 814.7Q100.3 824.9 101.4 832.8Q102.6 840.7 101.5 848.3L100.4 855.9M221.9 957.8Q230.7 945.3 240.3 942.3Q249.9 939.3 254.5 932.8Q259 926.3 262.4 919.8Q265.9 913.2 269.9 907Q274 900.8 278.5 896.2Q282.9 891.7 287.1 885Q291.2 878.3 293.7 872Q296.3 865.7 297.6 857.9Q299 850.2 300 843.5Q301 836.9 303.3 830Q305.6 823.1 306.8 815.4Q308 807.8 307 800.3Q306 792.8 306.7 785.2Q307.3 777.7 308.2 770.7Q309.2 763.7 308.9 756Q308.7 748.4 309.7 742.1Q310.8 735.8 309 727.3L307.3 718.7M319 837.2Q312.2 845.4 306.8 849.6Q301.4 853.9 296.7 860.4Q291.9 866.9 287.5 872.6Q283.2 878.4 277.5 882Q271.9 885.7 265.9 889.6Q259.9 893.5 254.9 898.9Q250 904.2 244.6 908.4Q239.2 912.5 232.5 915.9Q225.9 919.4 220.4 922.2Q215 925 209.3 930Q203.7 935 195.8 935.9Q187.9 936.9 181.7 942Q175.5 947.1 170.8 949.8Q166.2 952.4 159.6 956.6L153.1 960.7M324.3 953.5Q311.3 948.2 304.4 945.6Q297.6 943 290.9 940.4Q284.2 937.8 277.2 934.7Q270.2 931.6 261 931Q251.8 930.4 246.7 926.5Q241.5 922.6 236.3 918.2Q231.1 913.9 227.8 906.8Q224.5 899.7 218.5 895Q212.6 890.4 208.7 886Q204.8 881.7 199.7 877.3Q194.6 873 189.9 869Q185.2 865.1 182.2 858Q179.2 851 174.8 845.1Q170.5 839.2 165.7 834.4Q161 829.6 157.7 823.7Q154.4 817.9 149.9 812.5Q145.3 807.1 141.3 800.9Q137.2 794.7 133.9 789.5Q130.7 784.3 127 777.7Q123.3 771.2 118.5 767.3Q113.7 763.4 109.1 757.9Q104.5 752.4 101.3 745.9Q98.1 739.4 95 732.5L92 725.6M101.1 927.8Q107.6 915.8 113.7 911.3Q119.7 906.8 121.8 900Q123.9 893.1 127 886.2Q130.2 879.3 135.2 874.5Q140.1 869.7 142.2 862.6Q144.2 855.5 148.7 848.9Q153.3 842.3 156 836.1Q158.8 829.9 164.4 824.3Q169.9 818.6 172.8 812.7Q175.8 806.8 180.5 801.6Q185.3 796.3 185.8 788.5Q186.3 780.8 190.8 774.3Q195.2 767.9 197.7 761.6Q200.2 755.3 203.3 748.7Q206.5 742 211.7 735.8L216.9 729.6M98.2 835.5Q113.6 836.1 121.1 837.1Q128.6 838 135.5 837.9Q142.4 837.7 149.7 837Q157 836.3 165.3 835.5Q173.6 834.7 180.1 834.8Q186.7 834.9 194.2 834.8Q201.7 834.7 208.1 836.8Q214.4 838.8 222.8 839Q231.3 839.2 237.9 839.1Q244.5 839 252.5 841.2Q260.5 843.5 266.4 847.6Q272.4 851.7 279.5 856Q286.7 860.2 292.3 864.7Q297.8 869.1 304.4 870.9Q311 872.6 317.7 876.2L324.4 879.7M327.6 864.1Q329.4 843.3 329.4 833.8Q329.4 824.3 329.4 815.5Q329.4 806.8 325.7 800.6Q322.1 794.5 319.2 786Q316.4 777.5 310.8 772.9Q305.2 768.3 301.2 762.6Q297.2 756.8 290.6 752.2Q284.1 747.7 277.5 742.9Q271 738.1 263.2 735.3Q255.4 732.4 245.1 730.8Q234.8 729.1 227.4 725.5L220.1 721.9M327.7 936.7Q314.3 931.1 307.2 930.5Q300 929.9 292.9 927.2Q285.9 924.5 278.7 922.1Q271.5 919.8 264.4 917.6Q257.2 915.4 250 911.9Q242.8 908.3 237.3 907.6Q231.7 906.8 222.8 904.9Q213.8 902.9 206.6 903.1Q199.3 903.3 192.5 905.1Q185.7 906.9 179.2 907.5Q172.7 908 165 905.3Q157.2 902.7 150.2 903Q143.3 903.3 135.2 906.1Q127.1 908.9 120 911.5Q112.9 914.2 105.1 916.4L97.4 918.6M326.3 788.6Q317.8 798.2 312.5 803.3Q307.1 808.4 300.4 812.5Q293.7 816.7 288.8 820.2Q283.9 823.8 278.5 828.4Q273.2 832.9 269.3 839.5Q265.4 846.1 258.8 848.3Q252.2 850.5 246.3 855.7Q240.5 860.9 235.7 865.1Q231 869.4 226 874.8Q221.1 880.2 214.5 882.1Q207.9 884 204 890.2Q200.1 896.5 194.1 901.3Q188 906 182.7 909.4Q177.3 912.8 171.2 916.8Q165 920.7 157.8 923.4Q150.6 926 146 931.1Q141.4 936.3 134.3 938.8Q127.2 941.4 120.2 943.7Q113.2 946 107.6 950.2Q102 954.4 95.3 958.4L88.6 962.3M175.8 727.2Q168.5 741.5 169.4 747.7Q170.2 753.9 168.6 761.5Q166.9 769.1 168.8 776Q170.7 782.9 170.1 789.8Q169.5 796.7 168.5 804.4Q167.6 812.1 171 818.9Q174.3 825.6 174.1 832.6Q173.9 839.6 173.9 846.8Q174 854 174.1 861.6Q174.3 869.2 174.8 875.9Q175.3 882.6 174.1 889.7Q172.9 896.8 171.9 903.5Q170.9 910.3 171.4 917.4Q172 924.6 169.7 932.2Q167.5 939.8 167.3 946.3L167 952.8M325.9 914.2Q313 921 307.3 924.8Q301.7 928.7 295.2 932.1Q288.6 935.6 284.2 943.4Q279.7 951.2 272.2 953.2Q264.7 955.1 257.1 954.4Q249.5 953.8 243 956.7Q236.5 959.6 228.8 959.1Q221.1 958.6 213.6 955.8Q206 953 198.7 952.4Q191.4 951.8 184.2 953.5Q177 955.3 170.3 955.5L163.7 955.6M306.9 953.9Q290.3 939.6 282.7 933Q275 926.5 266.2 923.3Q257.3 920.1 249.6 921.8Q241.9 923.5 234.2 928.9Q226.5 934.2 218.8 938.8Q211 943.3 203.9 950.7L196.8 958.1M327.9 729.8Q311.4 721.8 304.3 720.3Q297.1 718.7 289.4 718.7Q281.7 718.7 273.7 718.7Q265.6 718.7 259.2 718.7Q252.8 718.7 244 718.7Q235.2 718.7 229.2 718.7Q223.3 718.7 216.1 718.7Q208.8 718.7 201.2 718.7Q193.7 718.7 187 718.7Q180.4 718.7 173.5 718.7Q166.6 718.7 159.4 718.7Q152.1 718.7 146.2 718.7Q140.3 718.7 133.3 720.6Q126.3 722.5 120.5 730Q114.7 737.6 108.5 742.1Q102.3 746.7 95.7 753.6L89.1 760.4M147 724.4Q150.4 739.3 149 745.6Q147.7 751.9 147.6 760.2Q147.5 768.4 149.4 775.3Q151.3 782.3 151 789.4Q150.7 796.5 151.8 803.7Q152.8 810.9 149.8 818.1Q146.7 825.2 148.4 832.8Q150.2 840.4 150.6 847.7Q151 854.9 154.3 862.4Q157.6 869.8 157.2 877.1Q156.8 884.4 155.5 891.5Q154.1 898.5 150.9 905.8Q147.8 913 143.7 920.1Q139.6 927.2 135.7 933.4Q131.9 939.7 132.1 947.2L132.3 954.8M90.1 722.5Q94 718.8 95 721.8Q96 724.9 96.9 726.4Q97.9 727.9 98.3 731.9Q98.8 735.8 95.3 735.4Q91.8 735 91.9 736.5Q92.1 738 93.8 729.1L95.6 720.2M92.9 728.3Q97.7 727.9 93.6 730.6Q89.4 733.3 89.9 732.9Q90.3 732.6 94.3 727.8Q98.3 723 94.5 726.1Q90.8 729.2 96 724.2Q101.2 719.2 95.8 720.5L90.4 721.8M116.2 721.1Q94.8 728 94.1 728.6Q93.4 729.3 91.3 725.3Q89.2 721.2 92.6 728.2Q95.9 735.2 94.8 729.3Q93.8 723.3 97.5 724.7Q101.2 726.1 99.9 728.8L98.6 731.6M325.3 720.5Q327.3 721 326.9 722.5Q326.4 724 326.4 725Q326.5 726 320.2 724Q314 722 320.3 722.4Q326.7 722.9 322.6 721.6Q318.6 720.2 322.2 724.8L325.9 729.4M309.6 721.9Q323.3 736 324.2 735.2Q325.1 734.5 322.9 735Q320.7 735.4 320.6 735.8Q320.5 736.2 318.3 729.7Q316.2 723.3 320.1 722.8Q324.1 722.2 324.8 731.2L325.4 740.1M327.7 725.7Q321.2 737.1 325 736.1Q328.9 735.2 325.7 729.4Q322.5 723.6 324.5 721.8Q326.5 719.9 323.1 720.2Q319.6 720.5 321.9 722.8Q324.1 725.1 324.5 725.8L324.9 726.5M90.4 948.2Q89.3 946.4 91 942.5Q92.7 938.6 92.1 946.8Q91.5 955 99.8 953.6Q108.1 952.1 104.4 953.7Q100.7 955.2 98 952.5Q95.4 949.7 95.6 949.3L95.9 949M99.8 956.4Q112.8 950.2 100.7 949.1Q88.6 947.9 95.6 952.7Q102.5 957.4 99.9 955.9Q97.3 954.5 94.3 957Q91.3 959.4 95.2 960.7Q99.2 962.1 97.4 959.9L95.7 957.8M91 959.7Q90.5 953.5 90.2 952.3Q90 951.1 93.4 952.3Q96.9 953.5 94 954.1Q91.1 954.7 93.9 955.7Q96.7 956.6 95.4 954.5Q94.2 952.4 92.8 956.7L91.4 961M321.5 955.2Q323.5 962 325.3 957.4Q327 952.9 324.1 957Q321.1 961.1 319.6 959.5Q318.1 958 316.4 956.8Q314.7 955.6 321.2 956.8Q327.7 958 328 957.9L328.4 957.7M324.2 950Q313.4 958.3 317.1 953.8Q320.7 949.3 317.9 951.8Q315.1 954.3 317.7 957.6Q320.3 960.9 322.7 959.1Q325.1 957.4 324.1 954.1Q323.1 950.9 323.5 955.7L323.9 960.4M324 952.6Q306.3 955.8 312.2 956.8Q318 957.7 319.2 954.1Q320.4 950.5 320.7 953.3Q321.1 956.1 319.1 951.4Q317.1 946.7 317.3 952.2Q317.5 957.7 320.7 958.5L324 959.3"/>
<path d="M384.4 719.1Q396.2 721 402.1 721.4Q408 721.7 413.9 720.7Q419.8 719.8 425.7 719.2Q431.6 718.7 437.5 718.7Q443.5 718.7 449.4 718.7Q455.3 718.7 461.2 718.7Q467.1 718.7 473 718.7Q478.9 718.7 484.8 718.7Q490.7 718.7 496.6 718.7Q502.5 718.7 508.5 718.7Q514.4 718.7 520.3 718.7Q526.2 718.7 532.1 718.7Q538 718.7 543.9 718.7Q549.8 718.7 555.7 718.7Q561.6 718.7 567.6 718.7Q573.5 718.7 579.4 718.7Q585.3 718.7 591.2 718.7L597.1 718.7M350.3 728Q362.3 728.2 368.3 728.2Q374.3 728.1 380.3 727.5Q386.3 727 392.3 727.5Q398.3 728 404.3 727.1Q410.3 726.1 416.3 726.5Q422.3 726.9 428.3 727.4Q434.3 727.9 440.3 728.5Q446.3 729.1 452.3 729.3Q458.3 729.5 464.3 729Q470.3 728.4 476.3 726.7Q482.3 724.9 488.3 724Q494.3 723 500.3 723.3Q506.3 723.6 512.3 725.6Q518.3 727.6 524.3 726.5Q530.3 725.5 536.3 725.9Q542.3 726.4 548.3 724.9Q554.3 723.5 560.3 722.4Q566.3 721.3 572.3 721.8L578.3 722.4M350.3 733.9Q362.1 735.6 367.9 735.2Q373.8 734.8 379.7 733.6Q385.6 732.4 391.4 731.8Q397.3 731.1 403.2 730.5Q409.1 730 414.9 731.3Q420.8 732.6 426.7 732.5Q432.6 732.4 438.4 732.1Q444.3 731.8 450.2 731.2Q456.1 730.5 461.9 729.1Q467.8 727.7 473.7 728.7Q479.6 729.6 485.5 728.5Q491.3 727.4 497.2 728.5Q503.1 729.7 509 729.9Q514.8 730.1 520.7 730.6Q526.6 731.2 532.5 732.1Q538.3 733 544.2 732.7Q550.1 732.4 556 732.4Q561.8 732.5 567.7 732.9Q573.6 733.3 579.5 733.6Q585.3 734 591.2 733.5L597.1 733.1M352.5 725.1Q367 724.6 374.3 724.9Q381.5 725.2 388.8 725.4Q396 725.5 403.2 726.8Q410.5 728 417.7 726.5Q425 724.9 432.2 724.8L439.5 724.7M350.3 725Q362.1 724.3 367.9 724.6Q373.8 724.9 379.7 724.5Q385.6 724.1 391.4 724.5Q397.3 724.9 403.2 725.1Q409.1 725.2 414.9 724.8Q420.8 724.3 426.7 723.5Q432.6 722.7 438.4 722.3Q444.3 721.9 450.2 723.1Q456.1 724.2 461.9 724.6Q467.8 725 473.7 724.5Q479.6 724.1 485.5 724.5Q491.3 724.9 497.2 725.6Q503.1 726.2 509 726.4Q514.8 726.6 520.7 729Q526.6 731.3 532.5 729.6Q538.3 727.8 544.2 728.1Q550.1 728.4 556 728.1Q561.8 727.8 567.7 728.2Q573.6 728.6 579.5 729Q585.3 729.5 591.2 729.9L597.1 730.2M350.3 731.8Q362.1 734 367.9 734.4Q373.8 734.7 379.7 735.3Q385.6 735.8 391.4 736Q397.3 736.2 403.2 735.7Q409.1 735.2 414.9 736.1Q420.8 736.9 426.7 735.9Q432.6 734.9 438.4 735.2Q444.3 735.5 450.2 735.6Q456.1 735.7 461.9 735.7Q467.8 735.8 473.7 734.8Q479.6 733.8 485.5 731.6Q491.3 729.4 497.2 730.1Q503.1 730.8 509 730.4Q514.8 730 520.7 730Q526.6 729.9 532.5 729.5Q538.3 729 544.2 728.6Q550.1 728.1 556 728.6Q561.8 729 567.7 730.1Q573.6 731.2 579.5 730.6Q585.3 730 591.2 730.6L597.1 731.3M351.9 728.8Q363.5 729.4 369.4 727.5Q375.2 725.5 381.1 725.5Q386.9 725.4 392.7 725.1Q398.6 724.9 404.4 722.9Q410.2 720.8 416.1 720.8Q421.9 720.8 427.8 721.2Q433.6 721.7 439.4 721.8Q445.3 721.8 451.1 721.4Q457 721 462.8 720.9Q468.6 720.8 474.5 720.7Q480.3 720.6 486.2 721.7Q492 722.8 497.8 723.7Q503.7 724.5 509.5 725Q515.4 725.5 521.2 723.7Q527 721.9 532.9 721.6Q538.7 721.2 544.5 721.5Q550.4 721.7 556.2 720.9Q562.1 720.1 567.9 720.3Q573.7 720.4 579.6 719.9Q585.4 719.4 591.3 720.6L597.1 721.8M389 722.3Q401.2 722.6 407.4 721.2Q413.5 719.7 419.6 721.1Q425.7 722.5 431.8 722.8Q438 723.1 444.1 722.8Q450.2 722.6 456.3 723.3Q462.4 724.1 468.6 722.7Q474.7 721.2 480.8 722.4Q486.9 723.6 493 723.3Q499.2 723.1 505.3 723.7Q511.4 724.3 517.5 724.3Q523.7 724.3 529.8 724.9Q535.9 725.6 542 726.2Q548.1 726.8 554.3 726.8Q560.4 726.7 566.5 726.9Q572.6 727.1 578.7 726.1Q584.9 725.2 591 724.5L597.1 723.7M350.3 720.9Q362.4 722 368.4 723.8Q374.4 725.6 380.4 724Q386.5 722.5 392.5 724.1Q398.5 725.8 404.5 726.1Q410.6 726.5 416.6 725Q422.6 723.5 428.6 723.5Q434.7 723.6 440.7 723.8Q446.7 724 452.7 724.8Q458.8 725.6 464.8 726.1Q470.8 726.7 476.9 726.6Q482.9 726.4 488.9 728Q494.9 729.6 501 728.7Q507 727.8 513 729.9Q519 732 525.1 731.4Q531.1 730.9 537.1 731.3Q543.1 731.8 549.2 731.3Q555.2 730.9 561.2 731.7Q567.2 732.6 573.3 733.3Q579.3 734 585.3 732L591.4 730M464.7 735.3Q476.8 736.3 482.8 735.8Q488.8 735.4 494.8 737.1Q500.8 738.9 506.9 739.4Q512.9 739.9 518.9 739.8Q524.9 739.7 530.9 739.6Q536.9 739.6 543 740.3Q549 741.1 555 742.2Q561 743.3 567 743.1Q573 742.8 579.1 741.5Q585.1 740.2 591.1 739.8L597.1 739.5M350.3 725.6Q362.1 724.9 367.9 724Q373.8 723.1 379.7 724Q385.6 724.9 391.4 725Q397.3 725.2 403.2 725.1Q409.1 725 414.9 725.9Q420.8 726.7 426.7 727.4Q432.6 728 438.4 729.4Q444.3 730.8 450.2 730.7Q456.1 730.5 461.9 728.8Q467.8 727.1 473.7 728.4Q479.6 729.7 485.5 728.9Q491.3 728.1 497.2 727.2Q503.1 726.2 509 726.5Q514.8 726.8 520.7 726.9Q526.6 726.9 532.5 725.9Q538.3 724.9 544.2 724.5Q550.1 724.1 556 725Q561.8 725.9 567.7 725.3Q573.6 724.7 579.5 723.7Q585.3 722.7 591.2 723.4L597.1 724M350.3 721.1Q362.1 721.5 367.9 722.1Q373.8 722.7 379.7 722.2Q385.6 721.7 391.4 721.4Q397.3 721.2 403.2 721.9Q409.1 722.5 414.9 722Q420.8 721.5 426.7 720.7Q432.6 719.9 438.4 719.3Q444.3 718.7 450.2 718.8Q456.1 718.9 461.9 718.8Q467.8 718.7 473.7 718.7Q479.6 718.7 485.5 718.7Q491.3 718.7 497.2 720.1Q503.1 721.5 509 720.4Q514.8 719.2 520.7 719Q526.6 718.7 532.5 718.7Q538.3 718.7 544.2 718.7Q550.1 718.7 556 718.7Q561.8 718.7 567.7 718.9Q573.6 719 579.5 719.5Q585.3 720.1 591.2 719.4L597.1 718.7M350.3 732.8Q362.1 733.3 368 730.6Q373.8 727.9 379.7 727.5Q385.6 727.1 391.5 726Q397.4 724.9 403.3 725.7Q409.1 726.6 415 727.3Q420.9 727.9 426.8 729Q432.7 730 438.6 730.2Q444.4 730.4 450.3 730.8Q456.2 731.2 462.1 730.7Q468 730.2 473.9 730.5Q479.7 730.8 485.6 731.4Q491.5 732 497.4 731Q503.3 730 509.2 730.6Q515.1 731.1 520.9 730.1L526.8 729.1M438.3 724.7Q450.6 724.4 456.7 724.4Q462.8 724.4 468.9 726Q475 727.5 481.1 725.4Q487.2 723.3 493.3 723.2Q499.4 723.1 505.5 723.5Q511.6 724 517.7 722.6Q523.8 721.2 529.9 721.9Q536 722.5 542.1 722.3Q548.3 722.1 554.4 721.8Q560.5 721.5 566.6 722.2Q572.7 722.9 578.8 722.4Q584.9 722 591 723.2L597.1 724.4M463.7 725.4Q475.8 726 481.9 724.8Q488 723.6 494 722.3Q500.1 720.9 506.2 721.4Q512.2 721.9 518.3 722.6Q524.3 723.3 530.4 724.3Q536.5 725.2 542.5 725.1Q548.6 724.9 554.7 725.8Q560.7 726.7 566.8 726.8Q572.8 726.9 578.9 725.7Q585 724.6 591 723.5L597.1 722.4M350.3 723.4Q362.1 722.8 367.9 722.5Q373.8 722.1 379.7 722.3Q385.6 722.6 391.4 723.4Q397.3 724.1 403.2 725.5Q409.1 726.9 414.9 726.8Q420.8 726.8 426.7 725.1Q432.6 723.5 438.4 723.6Q444.3 723.7 450.2 724.9Q456.1 726.1 461.9 726.4Q467.8 726.7 473.7 726.4Q479.6 726.1 485.5 725.7Q491.3 725.3 497.2 725.1Q503.1 725 509 723.6Q514.8 722.2 520.7 721.6Q526.6 720.9 532.5 722.1Q538.3 723.3 544.2 723.1Q550.1 723 556 723.8Q561.8 724.6 567.7 724.9Q573.6 725.3 579.5 726.2Q585.3 727.2 591.2 726.9L597.1 726.6M584.2 718.7Q582 730.8 581.7 736.8Q581.4 742.9 581.6 748.9Q581.8 755 582 761Q582.2 767.1 581.1 773.1Q580 779.2 580 785.2Q579.9 791.3 580.3 797.3Q580.6 803.4 579.6 809.4Q578.7 815.5 578.6 821.5Q578.6 827.6 580.1 833.6Q581.6 839.6 582.8 845.7Q584 851.7 585.4 857.8Q586.8 863.8 586.5 869.9Q586.2 875.9 585.3 882Q584.5 888 584 894.1Q583.6 900.1 582.8 906.2Q582 912.2 581.2 918.3Q580.4 924.3 582.1 930.4Q583.7 936.4 583.3 942.5Q582.9 948.5 584.5 954.6L586.2 960.6M584.5 718.7Q584.9 730.7 585 736.7Q585.1 742.7 585.7 748.7Q586.2 754.7 585.6 760.7Q585.1 766.7 586 772.7Q587 778.7 586.1 784.7Q585.3 790.7 587.3 796.7Q589.3 802.7 588.8 808.7Q588.3 814.7 589.1 820.7Q589.9 826.7 589.7 832.7Q589.5 838.7 589.1 844.7Q588.7 850.7 588.3 856.7Q588 862.6 588.8 868.6Q589.6 874.6 589.3 880.6Q589 886.6 589.2 892.6Q589.4 898.6 587.4 904.6Q585.5 910.6 585.6 916.6Q585.8 922.6 584.6 928.6Q583.5 934.6 584.3 940.6L585 946.6M593.9 718.7Q595.5 730.8 595.1 736.8Q594.8 742.9 593.6 748.9Q592.4 755 593.9 761Q595.3 767.1 594.9 773.1Q594.5 779.2 594.5 785.2Q594.5 791.3 593.5 797.3Q592.5 803.4 592.8 809.4Q593.2 815.5 593 821.5Q592.9 827.6 592.8 833.6Q592.8 839.6 593.5 845.7Q594.1 851.7 595.1 857.8Q596.1 863.8 595.3 869.9Q594.5 875.9 594.6 882Q594.8 888 594.8 894.1Q594.9 900.1 594.8 906.2Q594.7 912.2 594.4 918.3Q594.1 924.3 593.7 930.4Q593.3 936.4 593.4 942.5Q593.6 948.5 593 954.6L592.3 960.6M580.4 761.8Q583.2 773.5 581.1 779.4Q579 785.2 578.4 791Q577.8 796.9 579 802.7Q580.2 808.6 580.2 814.4Q580.2 820.3 579.8 826.1Q579.5 832 578.5 837.8Q577.5 843.7 577.3 849.5Q577 855.4 577.9 861.2Q578.9 867.1 577.1 872.9Q575.3 878.7 575.9 884.6Q576.5 890.4 576.1 896.3Q575.7 902.1 577.3 908Q579 913.8 578.2 919.7Q577.4 925.5 578.3 931.4Q579.3 937.2 580.5 943.1Q581.6 948.9 581.7 954.8L581.8 960.6M594 729.6Q596.2 741.9 595.1 748Q593.9 754.2 593.8 760.3Q593.7 766.5 593.3 772.6Q592.8 778.8 592.5 784.9Q592.3 791 591.7 797.2Q591.1 803.3 590.7 809.5Q590.4 815.6 589.7 821.8Q588.9 827.9 589.2 834.1Q589.4 840.2 590.9 846.4Q592.4 852.5 591.8 858.7Q591.2 864.8 591.9 871Q592.7 877.1 591.4 883.3Q590.1 889.4 589.5 895.6L589 901.7M594.5 718.7Q595.8 730.8 595.1 736.8Q594.5 742.9 595.2 748.9Q595.9 755 596.3 761Q596.7 767.1 596.3 773.1Q595.9 779.2 595.7 785.2Q595.5 791.3 595.2 797.3Q594.9 803.4 594.4 809.4Q593.8 815.5 595.4 821.5Q597.1 827.6 596.2 833.6Q595.4 839.6 596.2 845.7Q597.1 851.7 597.1 857.8Q597.1 863.8 597.1 869.9Q597.1 875.9 596.7 882Q596.3 888 594.6 894.1Q593 900.1 594.4 906.2Q595.9 912.2 595.2 918.3Q594.4 924.3 593.8 930.4Q593.2 936.4 593.5 942.5Q593.9 948.5 594.3 954.6L594.7 960.6M588.7 718.7Q588.6 730.9 588.2 736.9Q587.7 743 587.4 749.1Q587.1 755.2 587.7 761.3Q588.2 767.4 587.8 773.4Q587.4 779.5 587.6 785.6Q587.9 791.7 587.5 797.8Q587.1 803.8 586.7 809.9Q586.2 816 585.7 822.1Q585.2 828.2 585.3 834.3Q585.5 840.3 585.1 846.4Q584.8 852.5 585.3 858.6Q585.8 864.7 586.9 870.8Q587.9 876.8 588.4 882.9Q588.9 889 588.7 895.1L588.5 901.2M589.8 718.7Q587.2 730.8 586.1 736.8Q584.9 742.9 584.5 748.9Q584 755 583.8 761Q583.6 767.1 583.9 773.1Q584.2 779.2 585 785.2Q585.8 791.3 584.3 797.3Q582.8 803.4 583.4 809.4Q584 815.5 583.9 821.5Q583.8 827.6 583 833.6Q582.1 839.6 582.9 845.7Q583.6 851.7 583.8 857.8Q583.9 863.8 585.2 869.9Q586.4 875.9 586.9 882Q587.4 888 589.3 894.1Q591.3 900.1 590.2 906.2Q589.2 912.2 589.2 918.3Q589.2 924.3 588.1 930.4Q587.1 936.4 587.1 942.5Q587.2 948.5 588.3 954.6L589.3 960.6M591.3 718.7Q591.5 730.8 590.9 736.8Q590.2 742.9 590.4 748.9Q590.6 755 591.3 761Q592 767.1 592.3 773.1Q592.5 779.2 593.7 785.2Q594.9 791.3 595.5 797.3Q596.2 803.4 595 809.4Q593.8 815.5 592.8 821.5Q591.7 827.6 593.4 833.6Q595 839.6 593.6 845.7Q592.3 851.7 590.7 857.8Q589.2 863.8 589.8 869.9Q590.5 875.9 589.6 882Q588.7 888 588.9 894.1Q589.1 900.1 588.9 906.2Q588.6 912.2 587.9 918.3Q587.1 924.3 587.6 930.4Q588 936.4 586.7 942.5Q585.3 948.5 586.7 954.6L588 960.6M591.3 810.2Q591.1 822.7 592.1 829Q593.1 835.3 591.7 841.5Q590.4 847.8 592.1 854.1Q593.7 860.3 592.6 866.6Q591.5 872.9 592.3 879.1Q593.1 885.4 592.7 891.7Q592.2 897.9 592 904.2Q591.8 910.5 593 916.7Q594.3 923 595.4 929.3Q596.5 935.5 595.3 941.8Q594.2 948.1 593.3 954.3L592.4 960.6M584.8 804.6Q583.6 817.8 584.2 824.5Q584.7 831.1 585.2 837.7Q585.6 844.3 585.4 851Q585.1 857.6 585.4 864.2Q585.7 870.9 584.3 877.5Q582.9 884.1 582.2 890.8Q581.5 897.4 582.8 904L584.1 910.6M593.9 779.9Q595.2 792.4 595.8 798.7Q596.3 804.9 596.7 811.2Q597.1 817.4 597.1 823.7Q597.1 830 597.1 836.2Q597.1 842.5 597.1 848.7Q597.1 855 596.9 861.2Q596.8 867.5 594.8 873.7Q592.8 880 592.2 886.2Q591.6 892.5 592.6 898.7Q593.6 905 595.4 911.2Q597.1 917.5 597.1 923.8Q597.1 930 597.1 936.3Q597.1 942.5 597.1 948.8L597.1 955M588 842.9Q588.5 855.9 589.4 862.5Q590.2 869 590.8 875.6Q591.4 882.1 591.6 888.6Q591.8 895.2 590.4 901.7Q588.9 908.3 588.8 914.8Q588.6 921.4 589.5 927.9Q590.4 934.4 590.4 941Q590.4 947.5 590.7 954.1L590.9 960.6M595.3 730.8Q596.3 742.9 594.2 749Q592.1 755 590.3 761.1Q588.4 767.1 588.6 773.2Q588.8 779.2 588.5 785.3Q588.1 791.3 589.1 797.4Q590.2 803.4 589.7 809.5Q589.2 815.6 589.4 821.6Q589.7 827.7 590 833.7Q590.3 839.8 590.7 845.8Q591.1 851.9 591.9 857.9Q592.8 864 591.6 870Q590.5 876.1 589.5 882.1L588.6 888.2M591.5 831.6Q592.4 844.5 592.1 851Q591.8 857.4 593 863.9Q594.1 870.3 594.9 876.8Q595.6 883.2 595.5 889.7Q595.4 896.1 594.7 902.6Q594.1 909 594 915.5Q593.8 921.9 594.6 928.4Q595.4 934.8 593.5 941.3Q591.7 947.7 593.1 954.2L594.4 960.6M583 767.5Q584.3 779.5 584 785.6Q583.6 791.6 583.9 797.6Q584.2 803.7 585.5 809.7Q586.8 815.7 586 821.8Q585.3 827.8 586.3 833.9Q587.2 839.9 587 845.9Q586.7 852 588.6 858Q590.4 864 591.1 870.1Q591.7 876.1 590.1 882.1Q588.6 888.2 587.5 894.2Q586.5 900.2 587.2 906.3Q588 912.3 589 918.4Q589.9 924.4 589.3 930.4Q588.6 936.5 589.6 942.5Q590.5 948.5 589.4 954.6L588.3 960.6M354.3 951.7Q366.3 954.2 372.4 954Q378.4 953.7 384.4 953.1Q390.5 952.5 396.5 953.3Q402.5 954.2 408.6 953.1Q414.6 952 420.7 951.9Q426.7 951.8 432.7 953.2Q438.8 954.5 444.8 955.7Q450.8 956.9 456.9 955.4Q462.9 953.8 468.9 954.3Q475 954.8 481 954Q487 953.1 493.1 952.7Q499.1 952.2 505.1 951.9L511.2 951.6M350.3 957.9Q362.4 960.6 368.4 960.6Q374.4 960.6 380.4 960.4Q386.5 960.1 392.5 958.8Q398.5 957.5 404.5 959.1Q410.6 960.6 416.6 960Q422.6 959.5 428.6 960Q434.7 960.6 440.7 960.6Q446.7 960.6 452.7 960.6Q458.8 960.6 464.8 960.6Q470.8 960.6 476.8 960.6Q482.9 960.6 488.9 960.6Q494.9 960.6 500.9 960.6Q507 960.6 513 960.6Q519 960.6 525 960.6Q531.1 960.6 537.1 960.6Q543.1 960.6 549.1 960.4Q555.2 960.2 561.2 960.4Q567.2 960.6 573.2 960.6Q579.3 960.6 585.3 960.6L591.3 960.6M459.6 957.3Q472.6 957 479.1 956.9Q485.7 956.9 492.2 957Q498.7 957.2 505.2 956.2Q511.8 955.2 518.3 956.9Q524.8 958.5 531.3 957.1Q537.9 955.7 544.4 956.2Q550.9 956.7 557.4 956.5Q564 956.2 570.5 954.8Q577 953.5 583.5 953.9L590.1 954.4M350.3 941.1Q362 941.9 367.9 941.9Q373.8 942 379.6 940.4Q385.5 938.7 391.4 936.7Q397.2 934.7 403.1 935.7Q408.9 936.6 414.8 936.7Q420.7 936.8 426.5 937.5Q432.4 938.1 438.3 937.2Q444.1 936.3 450 936.8Q455.9 937.3 461.7 937.5Q467.6 937.7 473.5 938.1Q479.3 938.4 485.2 939.8Q491 941.2 496.9 940Q502.8 938.8 508.6 939.9Q514.5 940.9 520.4 940.2Q526.2 939.5 532.1 940.6Q538 941.6 543.8 941.9Q549.7 942.3 555.6 943.5Q561.4 944.7 567.3 944.2Q573.2 943.7 579 942.3Q584.9 941 590.7 941.1L596.6 941.3M394.5 941.3Q406.4 942.3 412.4 941.6Q418.3 940.8 424.3 941.8Q430.3 942.7 436.2 943.8Q442.2 944.8 448.1 945.4Q454.1 946.1 460.1 945.1Q466 944.2 472 943.8Q477.9 943.3 483.9 943Q489.8 942.7 495.8 942.8Q501.8 942.9 507.7 943.5Q513.7 944.2 519.6 942.8Q525.6 941.4 531.6 941.7Q537.5 942.1 543.5 941.3Q549.4 940.4 555.4 942.4Q561.3 944.4 567.3 943.8Q573.3 943.2 579.2 941.1Q585.2 939.1 591.1 939L597.1 939M350.3 950.6Q362.1 949.7 367.9 948.9Q373.8 948.2 379.7 948.4Q385.6 948.5 391.4 949.3Q397.3 950 403.2 951.6Q409.1 953.2 414.9 953.5Q420.8 953.9 426.7 952.6Q432.6 951.3 438.4 952.6Q444.3 954 450.2 953.4Q456.1 952.8 461.9 952.5Q467.8 952.2 473.7 952.9Q479.6 953.5 485.5 952.3Q491.3 951 497.2 950.4Q503.1 949.7 509 949.3Q514.8 948.9 520.7 949.8Q526.6 950.8 532.5 951.4Q538.3 951.9 544.2 950.9Q550.1 949.9 556 950.1Q561.8 950.4 567.7 950.2Q573.6 950.1 579.5 951.1Q585.3 952.2 591.2 951.9L597.1 951.7M350.3 955.1Q361.9 954.2 367.7 953.4Q373.6 952.7 379.4 953.4Q385.2 954.2 391 952.9Q396.8 951.5 402.6 950.7Q408.4 949.9 414.2 950.2Q420.1 950.5 425.9 953Q431.7 955.5 437.5 955.6Q443.3 955.8 449.1 956Q454.9 956.2 460.8 956.4Q466.6 956.7 472.4 954.9Q478.2 953 484 954.3Q489.8 955.6 495.6 954.8Q501.5 954 507.3 953.1Q513.1 952.3 518.9 952Q524.7 951.7 530.5 952.2Q536.3 952.7 542.1 952.8Q548 952.8 553.8 952.4Q559.6 952.1 565.4 952.1L571.2 952.2M413.1 948.8Q425.4 945.6 431.5 944.9Q437.6 944.2 443.8 944.8Q449.9 945.4 456 946.3Q462.2 947.3 468.3 947.4Q474.4 947.6 480.6 946.7Q486.7 945.9 492.8 946.3Q499 946.7 505.1 946.5Q511.2 946.3 517.4 945.9Q523.5 945.5 529.6 946.2Q535.8 947 541.9 947.1Q548 947.2 554.2 946.6Q560.3 946 566.4 945.2Q572.6 944.5 578.7 945Q584.8 945.5 591 944.5L597.1 943.4M350.3 952.8Q362.1 948.6 367.9 947.9Q373.8 947.2 379.7 947.4Q385.6 947.7 391.4 947.2Q397.3 946.7 403.2 947.9Q409.1 949.1 414.9 950.2Q420.8 951.2 426.7 950.8Q432.6 950.3 438.4 951.7Q444.3 953.1 450.2 953.1Q456.1 953.2 461.9 953.7Q467.8 954.2 473.7 954.9Q479.6 955.5 485.5 956.5Q491.3 957.4 497.2 958.2Q503.1 959 509 958.6Q514.8 958.3 520.7 957.4Q526.6 956.6 532.5 954.9Q538.3 953.2 544.2 951.7Q550.1 950.1 556 950.9Q561.8 951.7 567.7 952.6Q573.6 953.5 579.5 953.4Q585.3 953.3 591.2 953.3L597.1 953.4M424.4 959.3Q436.7 960.6 442.9 960.6Q449 960.6 455.2 960.6Q461.4 960.6 467.5 960.6Q473.7 960.6 479.9 960.6Q486 960.6 492.2 960.6Q498.4 960.6 504.6 960.6Q510.7 960.6 516.9 960.6Q523.1 960.6 529.2 960.6Q535.4 960.6 541.6 960.6Q547.7 960.6 553.9 958.4Q560.1 956.2 566.3 956Q572.4 955.9 578.6 956.2Q584.8 956.4 590.9 957.1L597.1 957.7M424.4 954.6Q436.7 956.9 442.9 958.7Q449.1 960.6 455.3 960.6Q461.4 960.6 467.6 960.6Q473.8 960.6 479.9 960.6Q486.1 960.6 492.3 960.5Q498.4 960.4 504.6 959.6Q510.8 958.7 516.9 959.3Q523.1 959.9 529.3 959.8Q535.4 959.7 541.6 959.2Q547.8 958.7 553.9 958.3Q560.1 957.9 566.3 959.2Q572.4 960.6 578.6 960.1Q584.8 959.6 590.9 960.1L597.1 960.6M427.9 954.4Q440 955.3 446 955Q452.1 954.6 458.1 954.5Q464.1 954.4 470.2 955.4Q476.2 956.3 482.3 955.8Q488.3 955.2 494.4 956.7Q500.4 958.2 506.4 955.7Q512.5 953.3 518.5 953.9Q524.6 954.4 530.6 954Q536.7 953.7 542.7 953.2Q548.8 952.7 554.8 951.4Q560.8 950.1 566.9 949.3Q572.9 948.4 579 950.1Q585 951.9 591.1 952.2L597.1 952.6M459.6 947.1Q472.1 949.2 478.3 949.1Q484.6 949 490.8 949Q497.1 949.1 503.3 948.8Q509.6 948.4 515.8 949Q522.1 949.5 528.3 948.9Q534.6 948.2 540.8 948.3Q547.1 948.4 553.3 948.7Q559.6 949 565.8 947.7Q572.1 946.5 578.3 946.4Q584.6 946.4 590.8 947.9L597.1 949.5M400.6 952.1Q412.9 948.8 419 949.9Q425.2 951 431.3 951.7Q437.5 952.4 443.6 952.1Q449.7 951.9 455.9 951.5Q462 951 468.2 952.5Q474.3 953.9 480.4 951.9Q486.6 949.8 492.7 948.8Q498.9 947.8 505 948.4Q511.1 949.1 517.3 949.6Q523.4 950.1 529.6 950.2Q535.7 950.3 541.8 950.5Q548 950.7 554.1 949.8Q560.3 948.8 566.4 948.7Q572.5 948.6 578.7 947.6Q584.8 946.6 591 947.1L597.1 947.5M426.1 949.4Q438.3 949.6 444.4 950Q450.5 950.4 456.6 949.6Q462.7 948.9 468.8 949.9Q474.9 950.8 481.1 950.2Q487.2 949.5 493.3 948.9Q499.4 948.4 505.5 950.5Q511.6 952.6 517.7 951.9Q523.8 951.2 529.9 949.8Q536 948.4 542.1 948.4Q548.2 948.5 554.3 949.5Q560.5 950.5 566.6 950.9Q572.7 951.3 578.8 950.8Q584.9 950.2 591 951L597.1 951.7M354.2 943.6Q365.8 942.6 371.6 943.6Q377.4 944.7 383.1 944.5Q388.9 944.3 394.7 945.6Q400.5 946.9 406.3 946.7Q412.1 946.4 417.8 946.5Q423.6 946.5 429.4 948Q435.2 949.5 441 950.7Q446.8 951.9 452.5 951.2Q458.3 950.6 464.1 951.4Q469.9 952.1 475.7 951.9Q481.4 951.6 487.2 952.3Q493 953 498.8 953.1Q504.6 953.2 510.4 954.4Q516.1 955.7 521.9 956.3Q527.7 956.9 533.5 955.5Q539.3 954.1 545.1 954.2Q550.8 954.4 556.6 953.7Q562.4 953 568.2 951.9Q574 950.9 579.8 951.8Q585.5 952.6 591.3 952.1L597.1 951.5M352.9 824.6Q353.5 836.9 353.9 843.1Q354.2 849.3 354.3 855.5Q354.3 861.7 352.8 867.9Q351.2 874 351.4 880.2Q351.7 886.4 351 892.6Q350.3 898.8 350.5 905Q350.8 911.1 350.5 917.3Q350.3 923.5 350.3 929.7Q350.3 935.9 350.3 942.1Q350.3 948.2 350.3 954.4L350.3 960.6M357.3 795.1Q358.6 807.6 360.1 813.9Q361.7 820.1 361.2 826.4Q360.8 832.6 361.2 838.8Q361.6 845.1 361.5 851.3Q361.5 857.6 361 863.8Q360.5 870 361.6 876.3Q362.7 882.5 362.7 888.8Q362.7 895 362.2 901.3Q361.8 907.5 361.8 913.7Q361.9 920 361.2 926.2Q360.6 932.5 360.7 938.7Q360.9 944.9 360.2 951.2L359.5 957.4M359.6 821.3Q359 834.3 357.9 840.8Q356.7 847.3 357.6 853.7Q358.4 860.2 359.1 866.7Q359.8 873.2 358.4 879.7Q357 886.2 357.1 892.6Q357.1 899.1 358 905.6Q358.9 912.1 358.6 918.6L358.2 925M359.7 739.8Q359.2 751.4 359.7 757.2Q360.3 763.1 361 768.9Q361.7 774.7 363.5 780.5Q365.2 786.3 364.8 792.1Q364.3 797.9 363.8 803.7Q363.2 809.5 363.6 815.3Q364.1 821.2 363.5 827Q362.9 832.8 362.2 838.6Q361.5 844.4 360.1 850.2Q358.7 856 359.2 861.8Q359.8 867.6 359.9 873.4Q360 879.3 361.4 885.1Q362.8 890.9 363.2 896.7Q363.6 902.5 362.3 908.3Q360.9 914.1 362 919.9Q363.1 925.7 362.3 931.5Q361.6 937.4 361.3 943.2Q361.1 949 360.9 954.8L360.7 960.6M355.6 718.7Q356.3 730.8 355.8 736.8Q355.4 742.9 355.5 748.9Q355.7 755 355.2 761Q354.7 767.1 355.2 773.1Q355.7 779.2 355.4 785.2Q355.2 791.3 356.6 797.3Q358.1 803.4 358.5 809.4Q358.9 815.5 358.2 821.5Q357.5 827.6 357.7 833.6Q358 839.6 360.5 845.7Q362.9 851.7 361.6 857.8Q360.3 863.8 358.6 869.9Q356.9 875.9 356.2 882Q355.5 888 355.8 894.1Q356.2 900.1 356.8 906.2Q357.5 912.2 356.7 918.3Q356 924.3 354.3 930.4Q352.6 936.4 352.1 942.5Q351.5 948.5 351.9 954.6L352.2 960.6M355.7 718.7Q356.8 731 356.3 737.2Q355.8 743.3 355.7 749.5Q355.6 755.6 355.9 761.8Q356.3 768 356 774.1Q355.7 780.3 355 786.4Q354.4 792.6 355.4 798.7Q356.4 804.9 354.5 811.1Q352.5 817.2 351.4 823.4Q350.3 829.5 350.3 835.7Q350.3 841.8 350.6 848Q350.8 854.2 351.9 860.3Q352.9 866.5 352.2 872.6Q351.5 878.8 352.6 884.9Q353.7 891.1 355.2 897.2L356.7 903.4M351 796.6Q351.1 809.2 350.7 815.5Q350.3 821.8 350.3 828.2Q350.3 834.5 350.3 840.8Q350.3 847.1 350.3 853.4Q350.3 859.7 350.3 866Q350.3 872.3 350.7 878.6Q351.2 884.9 353.5 891.2Q355.8 897.5 356.3 903.8Q356.8 910.1 356.6 916.5Q356.3 922.8 356.3 929.1Q356.3 935.4 356.2 941.7Q356.1 948 354 954.3L351.9 960.6M364.8 842.2Q364.2 855.3 364.3 861.9Q364.3 868.5 362.8 875.1Q361.3 881.6 361 888.2Q360.6 894.8 360.6 901.4Q360.5 908 360.5 914.5Q360.5 921.1 359.6 927.7Q358.7 934.3 361.5 940.9Q364.4 947.4 364.8 954L365.3 960.6M354 746.8Q352.5 758.7 353.1 764.6Q353.8 770.6 354.1 776.5Q354.5 782.4 354.2 788.4Q353.8 794.3 352.6 800.3Q351.4 806.2 351.1 812.1Q350.9 818.1 351.4 824Q352 830 351.6 835.9Q351.3 841.8 351.7 847.8Q352 853.7 352.8 859.6Q353.6 865.6 353.9 871.5Q354.2 877.5 354.4 883.4Q354.5 889.3 354.6 895.3Q354.6 901.2 353.8 907.2Q352.9 913.1 354.7 919Q356.4 925 355.7 930.9Q355.1 936.8 355.8 942.8Q356.5 948.7 355.5 954.7L354.4 960.6M375.2 723.2Q374.5 734.9 375.4 740.8Q376.3 746.6 376.3 752.5Q376.3 758.3 376 764.2Q375.8 770.1 376 775.9Q376.3 781.8 376.3 787.6Q376.3 793.5 375.7 799.3Q375.2 805.2 375.7 811Q376.3 816.9 376.3 822.7Q376.3 828.6 376.3 834.4Q376.3 840.3 376.2 846.2Q376.2 852 376.2 857.9Q376.3 863.7 376.3 869.6Q376.3 875.4 376.3 881.3Q376.3 887.1 376.3 893Q376.3 898.8 376.3 904.7Q376.3 910.5 376.3 916.4L376.3 922.2M356 829.9Q357.5 843 356.5 849.5Q355.6 856.1 355.3 862.6Q355 869.1 356 875.7Q356.9 882.2 354.9 888.7Q352.8 895.3 355 901.8Q357.2 908.3 357.1 914.9Q356.9 921.4 357.5 927.9Q358.1 934.5 358.6 941Q359.2 947.5 358.3 954.1L357.5 960.6M352.3 825.3Q354.2 837.6 354 843.8Q353.8 849.9 353.2 856.1Q352.7 862.2 351.6 868.4Q350.5 874.5 351.1 880.7Q351.7 886.8 351.7 893Q351.7 899.1 352.4 905.3Q353.1 911.4 352.4 917.6Q351.7 923.7 351.9 929.9Q352.1 936 351.9 942.2Q351.6 948.3 351.4 954.5L351.1 960.6M351 722Q352.7 733.9 354.2 739.9Q355.7 745.9 356.5 751.8Q357.3 757.8 357 763.8Q356.7 769.7 355.4 775.7Q354.1 781.7 355.1 787.6Q356.1 793.6 355.1 799.6Q354.1 805.5 354.9 811.5Q355.8 817.4 356.7 823.4Q357.7 829.4 358.6 835.3Q359.6 841.3 359.2 847.3Q358.7 853.2 359.6 859.2Q360.5 865.2 360.1 871.1Q359.6 877.1 360.6 883.1Q361.6 889 362.5 895Q363.4 901 362.2 906.9Q360.9 912.9 360.2 918.8Q359.5 924.8 359.9 930.8Q360.4 936.7 360.6 942.7Q360.8 948.7 361.3 954.6L361.8 960.6M353.8 718.7Q354.8 730.9 355.1 737Q355.5 743.1 355.5 749.2Q355.6 755.3 355.6 761.5Q355.7 767.6 356.3 773.7Q357 779.8 357.3 785.9Q357.6 792 356.5 798.1Q355.3 804.2 355.3 810.3Q355.4 816.4 354.7 822.5Q354.1 828.6 354.7 834.7Q355.4 840.8 354.5 847Q353.7 853.1 354.6 859.2Q355.4 865.3 354.6 871.4Q353.7 877.5 353.2 883.6Q352.6 889.7 351.7 895.8Q350.8 901.9 351.4 908Q352.1 914.1 353.1 920.2Q354.2 926.3 353.7 932.5L353.3 938.6M350.3 718.7Q350.3 730.8 350.3 736.8Q350.3 742.9 350.3 748.9Q350.3 755 350.3 761Q350.3 767.1 350.3 773.1Q350.3 779.2 350.3 785.2Q350.3 791.3 350.3 797.3Q350.3 803.4 350.3 809.4Q350.3 815.5 350.3 821.5Q350.3 827.6 350.3 833.6Q350.3 839.6 350.3 845.7Q350.3 851.7 350.3 857.8Q350.3 863.8 350.3 869.9Q350.3 875.9 350.3 882Q350.3 888 350.3 894.1Q350.3 900.1 350.3 906.2Q350.3 912.2 350.3 918.3Q350.3 924.3 350.3 930.4Q350.3 936.4 350.3 942.5Q350.3 948.5 350.3 954.6L350.3 960.6M357.8 790.3Q358.1 802.1 358.4 808Q358.6 814 358.6 819.9Q358.6 825.8 357.1 831.7Q355.6 837.6 357.4 843.5Q359.2 849.4 357.9 855.3Q356.6 861.3 355.9 867.2Q355.2 873.1 355.1 879Q355.1 884.9 354.2 890.8Q353.4 896.7 353.4 902.6Q353.4 908.6 353.8 914.5Q354.2 920.4 354.6 926.3Q355 932.2 354.8 938.1Q354.5 944 354.6 949.9L354.7 955.9M386.7 954.2Q398.9 948.4 404.9 944.2Q411 940 418.8 937.1Q426.7 934.1 432.8 930.7Q438.8 927.4 445.6 924.8Q452.3 922.1 457.8 916.5Q463.3 910.8 469.5 907.8Q475.8 904.7 482.5 901.7Q489.2 898.7 494.8 895.4Q500.4 892.1 505.4 885.1Q510.5 878 516.9 874.6Q523.4 871.1 530 868.3Q536.5 865.4 543.6 863.1Q550.7 860.8 557.8 857.4Q564.8 854.1 569.9 848.3Q574.9 842.5 579.5 836.6Q584.1 830.6 587.5 823.9L590.8 817.2M588.9 757.5Q582.2 768.6 578.8 775.1Q575.4 781.7 570.7 786.6Q566 791.5 562.5 798.1Q559 804.7 553.8 810.1Q548.5 815.6 545.9 821.3Q543.3 827 542.3 834.5Q541.2 842.1 538.6 848.3Q536 854.5 534 862.5Q532.1 870.6 527.7 875.9Q523.3 881.2 519.4 886.7Q515.6 892.2 509.8 897.6Q504.1 903.1 500.2 907.8Q496.3 912.6 493.3 918.9Q490.4 925.2 486.1 932.1Q481.7 939.1 477.5 944.6L473.2 950.1M575.4 959Q562 958.9 555 959.8Q547.9 960.6 539.5 960.6Q531 960.6 524.8 959.3Q518.6 958 511.4 959.3Q504.1 960.6 496.6 959.7Q489.1 958.7 481.5 959.7Q473.9 960.6 466.5 959.6Q459 958.5 451.7 959.4Q444.4 960.3 437.9 959.8Q431.4 959.3 424 958.4Q416.6 957.6 409 958.1Q401.4 958.7 394.1 956.6Q386.7 954.5 380.3 954.2Q373.8 953.8 366.8 952.3L359.7 950.8M404.6 718.7Q417.3 732.4 421 737.5Q424.8 742.5 430.6 747.4Q436.5 752.3 442.2 758.7Q447.9 765 452.7 769.8Q457.5 774.5 464 777.3Q470.6 780.1 476.1 785Q481.6 790 487.8 794.2Q494 798.4 499.4 804Q504.9 809.6 512.7 811.3Q520.5 812.9 526.7 816.3Q533 819.7 540.7 822.8Q548.4 825.8 554.2 827.6Q559.9 829.4 567.6 832.8Q575.3 836.2 582.7 837.6L590.1 838.9M593.8 829.3Q581.1 839.1 574.3 842.8Q567.5 846.5 562.6 851.3Q557.6 856.1 551.1 860.8Q544.6 865.5 538.3 869.1Q532 872.6 524.9 874Q517.7 875.3 511.8 878.7Q505.8 882.1 499.1 881.4Q492.4 880.7 486.1 884.1Q479.7 887.5 471.5 886.7Q463.3 885.9 456.4 883.6Q449.5 881.4 443.6 883Q437.7 884.6 430.1 884Q422.4 883.4 415.3 883.9Q408.2 884.3 401.2 885Q394.3 885.7 386.9 882.7Q379.5 879.7 371.8 879.7Q364.1 879.7 357.7 876.7L351.4 873.7M355.3 940.4Q356.2 926.4 357.6 919Q359 911.6 359.8 904.1Q360.5 896.5 364.1 889.7Q367.7 882.8 368 874.7Q368.2 866.7 365.6 860.1Q363 853.6 361 845.3Q359 837 359.9 829.9Q360.8 822.8 358.9 815.5Q357.1 808.2 356.2 801Q355.3 793.8 354.4 786.4L353.5 779M355.1 958.8Q369.9 960.6 377.8 960.6Q385.7 960.6 392.7 960.6Q399.6 960.6 406.1 960.6Q412.7 960.6 420.3 960.6Q428 960.6 435.4 960.6Q442.8 960.6 449.9 960.6Q456.9 960.6 464.9 960.6Q472.8 960.6 479.5 960.6Q486.2 960.6 493.4 960.6Q500.7 960.6 507.8 960.6Q514.8 960.6 522.6 960.6Q530.3 960.6 537.3 960.6Q544.3 960.6 552.3 960.6Q560.4 960.6 566.9 960.6Q573.4 960.6 581.5 960.6L589.7 960.6M585.6 725.3Q569.6 718.7 562.2 718.7Q554.8 718.7 547.6 718.7Q540.4 718.7 532.1 718.7Q523.9 718.7 516.4 718.7Q508.9 718.7 501.5 718.7Q494.1 718.7 487.3 718.7Q480.5 718.7 473 718.7Q465.4 718.7 458.7 718.7Q452 718.7 445.8 718.7Q439.5 718.7 431.8 718.7Q424.1 718.7 417.9 724.4Q411.6 730.1 404.8 733.7Q397.9 737.3 391.5 739Q385.1 740.8 377.3 744.6Q369.5 748.4 362.9 753.1L356.3 757.7M538.5 722.4Q525.5 731.5 520.6 738.4Q515.6 745.3 510.8 749.4Q505.9 753.4 500.3 760.1Q494.7 766.8 489.7 770.8Q484.6 774.7 480.1 781.2Q475.7 787.6 472.3 793.9Q468.9 800.1 466.8 806.8Q464.8 813.6 459.9 819.7Q455 825.7 452.6 832.2Q450.1 838.7 445.8 845Q441.5 851.2 440.8 858.7Q440.1 866.2 440.7 874.4Q441.4 882.5 439.6 889.1Q437.8 895.6 439.2 904.3Q440.6 913 441.8 921Q443.1 929 442.3 936.5Q441.5 944 440.6 951.6L439.7 959.1M584.8 778.1Q577 794.5 573.1 801.4Q569.2 808.4 564.2 815.5Q559.1 822.6 555.5 828.6Q551.8 834.6 550.3 842.2Q548.9 849.8 549 857.5Q549.1 865.2 546.2 871.7Q543.3 878.3 544 886.7Q544.7 895 544 902.9Q543.2 910.8 542.4 917.8Q541.5 924.7 544.9 933.5Q548.4 942.2 552.3 949.9L556.1 957.6M585.9 959.4Q571.8 958.3 564.8 959.5Q557.7 960.6 550 960.3Q542.2 959.9 535.8 960.3Q529.3 960.6 521.8 960.6Q514.3 960.6 507 960.6Q499.6 960.6 492.4 960.6Q485.3 960.6 477.6 960.6Q469.9 960.6 463.2 960.5Q456.5 960.4 449.9 957.6Q443.3 954.8 435.4 953.7L427.6 952.7M360.4 940.8Q367.4 928.3 373.8 923Q380.1 917.8 381.9 911.2Q383.7 904.6 389.2 899.6Q394.6 894.6 397 887.8Q399.4 881 403.9 874.6Q408.3 868.1 412.7 863.3Q417 858.4 418.5 851.3Q420 844.1 423.4 837.8Q426.7 831.4 427.8 823.9Q429 816.4 429.1 809Q429.3 801.6 431.8 794.7Q434.2 787.9 436.3 781.3Q438.3 774.7 441.1 767.5Q443.8 760.3 447.7 754.9Q451.7 749.6 454.7 743.6Q457.7 737.6 457.8 728.8L457.9 719.9M352.8 929.2Q360 914.9 363.7 907.6Q367.4 900.4 371.2 894.3Q375 888.2 378.7 881.5Q382.4 874.8 386.7 866.8Q391 858.8 393.3 850.1Q395.6 841.4 398.2 833.4Q400.9 825.4 407.1 822.6Q413.3 819.9 418.6 815.7Q424 811.5 429.3 806.9Q434.7 802.2 441 797.5Q447.3 792.8 453.9 792.8Q460.5 792.9 467.3 790.7Q474.1 788.5 480.5 786.6Q486.9 784.8 496.9 785.9Q506.9 787.1 514 786.2Q521 785.4 529.7 786.8Q538.3 788.3 545 786.7Q551.7 785 560.3 786.2Q568.8 787.5 577.6 787.1L586.3 786.6M423.4 953.9Q429.1 939.5 432.1 933.2Q435.1 926.8 437 919.4Q438.9 912 438.8 904.7Q438.6 897.3 440 890.6Q441.4 883.9 440.7 876.7Q440.1 869.6 442.2 862.4Q444.3 855.2 445.5 848Q446.7 840.9 445.3 834.8Q443.9 828.7 443.7 821.1Q443.5 813.4 445.5 806.7Q447.5 799.9 447.5 793Q447.5 786.1 446.2 779.9Q445 773.8 442.3 765.9Q439.6 758 438.8 750.4Q438.1 742.9 437.8 736.3L437.6 729.8M362 854.9Q377.6 856 384.1 856.5Q390.6 857 397.6 857.6Q404.6 858.1 410.8 858.8Q417.1 859.5 425.7 855.3Q434.2 851.1 440.9 853.4Q447.5 855.7 454.3 855.4Q461.1 855 467.7 857.1Q474.2 859.1 481.5 858.8Q488.8 858.5 496.5 858.5Q504.2 858.6 510.8 858.2Q517.4 857.8 524.7 855.9Q531.9 853.9 539.5 856.2Q547.1 858.5 553.8 857.8Q560.6 857.1 566.9 858.5Q573.1 859.9 580.9 861L588.6 862.1M596.6 730.6Q597.1 747.5 597.1 754Q597.1 760.5 597.1 768.8Q597.1 777.1 597.1 784.7Q597.1 792.4 597.1 800Q597.1 807.7 597.1 815Q597.1 822.2 597.1 830.4Q597.1 838.5 595.8 844.8Q594.5 851.1 593.2 859.4Q592 867.8 590.3 875.5Q588.7 883.1 588.7 890.5L588.6 898M404.5 958.3Q409.5 943 414.1 935.6Q418.7 928.2 423.9 921.4Q429.1 914.6 434.4 907.4Q439.7 900.2 444.5 893.2Q449.3 886.2 452.7 878.3Q456.2 870.5 457.4 863.4Q458.7 856.4 460.2 849.9Q461.7 843.4 461.6 836.1Q461.5 828.8 460.2 822Q458.9 815.2 457.6 808.2Q456.3 801.2 452.1 794Q448 786.8 441.5 780.2Q435.1 773.7 429.7 767.8Q424.4 762 418.6 755Q412.7 748 407.4 742.5Q402.1 737 395.1 728.7L388.2 720.5M418.9 721.6Q428.8 732.2 433.2 737.3Q437.7 742.3 441.7 748Q445.7 753.7 450.5 758.3Q455.2 762.9 460.6 767.4Q466 771.9 470.9 776.7Q475.9 781.6 479.1 787.5Q482.4 793.4 485.6 799.7Q488.9 806.1 493 811.9Q497.2 817.7 500.4 823Q503.7 828.4 509 833.6Q514.2 838.8 519.7 843.4Q525.1 848 529.6 852.4Q534.1 856.9 537.5 862.9Q540.8 869 544 875.5Q547.1 881.9 549.9 888.7Q552.8 895.4 556.8 900.6Q560.7 905.8 566 910.9Q571.3 916 573.4 922.4Q575.6 928.7 580.7 932.9Q585.8 937.1 587.9 945.7L590.1 954.3M506.9 957.9Q492.5 952.4 486.3 948.7Q480.1 944.9 472.8 944.2Q465.4 943.4 459.7 939Q454.1 934.7 448.2 930.8Q442.3 926.8 435 924.7Q427.7 922.5 422.1 918.6Q416.5 914.7 411.4 910Q406.4 905.2 400.3 902Q394.3 898.8 389 893.4Q383.8 887.9 379.4 881.6Q375.1 875.2 370.6 869.7Q366.2 864.2 362.2 857.2L358.2 850.1M386.8 950.7Q374.8 936.8 366.7 929Q358.6 921.2 357.8 914.3Q357 907.5 353.7 900.3Q350.3 893.1 350.3 886.7Q350.3 880.3 350.3 872.8Q350.3 865.4 350.3 857.4Q350.3 849.4 350.3 842.7Q350.3 836 350.3 829.7Q350.3 823.4 350.3 816.7Q350.3 809.9 350.3 802.8Q350.3 795.6 350.3 788.4Q350.3 781.1 353.2 774.3Q356.1 767.4 360.1 760.3Q364.1 753.1 372.4 745.3Q380.6 737.5 386.2 731L391.7 724.5M595 869.8Q579.8 871.5 571.8 873.1Q563.8 874.8 557.2 876.4Q550.6 878 544.6 881.8Q538.7 885.7 533.6 891.9Q528.4 898.1 521.7 899Q515 899.9 509.8 905.7Q504.7 911.4 498.5 915.9Q492.4 920.4 486.5 924.8Q480.6 929.3 474.8 933Q469 936.6 464.6 943L460.2 949.3M467.4 719.8Q454.2 729 451 737.2Q447.9 745.5 443.9 751.8Q439.9 758.1 437.3 765.7Q434.6 773.4 429.2 778.7Q423.7 783.9 418.6 789.6Q413.4 795.3 408.2 801.1Q403.1 806.9 397.7 811.5Q392.4 816.2 386.1 821.4Q379.9 826.7 374.1 831.1Q368.4 835.6 362.4 840.6L356.5 845.6M509.3 960.6Q523 950.9 530.2 947.6Q537.4 944.2 542 938.3Q546.6 932.3 550.9 926.7Q555.3 921.1 559.6 915.1Q563.9 909 566.2 901.9Q568.5 894.7 572 887.9Q575.6 881.1 576.6 875.3Q577.6 869.5 578.7 860.9Q579.9 852.3 581.6 844.6Q583.3 837 584.6 829.7L585.9 822.4M351.3 947.9Q350.3 929.7 350.3 921.6Q350.3 913.6 350.3 904.9Q350.3 896.1 350.3 885.4Q350.3 874.7 350.3 866.8Q350.3 858.9 350.3 851.1Q350.3 843.3 350.3 836.1Q350.3 829 350.3 821Q350.3 813 350.3 807.2Q350.3 801.3 350.3 792.7Q350.3 784.2 350.3 778.4Q350.3 772.6 350.3 767.4Q350.3 762.1 354.4 757.8Q358.4 753.4 369.3 749.4Q380.3 745.3 387.9 742Q395.6 738.7 404.8 733.6Q414 728.6 423.8 724.1L433.5 719.6M482.8 729.1Q496.2 735.9 504.6 736Q513.1 736.1 520 738Q526.9 740 533.4 744.1Q539.8 748.2 547.8 748.7Q555.9 749.2 562.5 752.3Q569.1 755.5 575.2 760.4Q581.3 765.4 588.4 769.4L595.5 773.4M483.9 729.4Q489.9 747.7 493 756.8Q496.2 765.8 500.3 775.3Q504.3 784.7 507.5 793.9Q510.6 803.1 511.5 810.8Q512.4 818.4 512.5 825.4Q512.6 832.3 512.4 840.6Q512.3 849 510.7 855.3Q509.2 861.7 504.8 868Q500.4 874.3 496.6 881.1Q492.9 887.8 489.6 893.9Q486.3 900 479 903.8Q471.7 907.7 463.6 912.4Q455.6 917 448.9 921.6Q442.2 926.1 434.9 931.1Q427.5 936 418.9 940.1Q410.3 944.2 400.8 947.9L391.3 951.7M376.1 721.8Q391 720.3 399.3 723.4Q407.7 726.5 415.2 724.6Q422.8 722.7 429.7 723.4Q436.6 724.2 444.3 726.4Q451.9 728.6 458.7 729.4Q465.6 730.3 473.3 729.7Q480.9 729.2 488.7 727.4Q496.4 725.6 503.8 726.5L511.2 727.4M427.9 952.2Q427.2 935.3 429.2 928.7Q431.1 922 434 916.3Q436.9 910.7 440.1 903.6Q443.3 896.5 444.8 890.1Q446.3 883.6 446.1 876Q445.9 868.4 449.4 862Q453 855.5 454.9 848.8Q456.9 842.1 459.1 835.6Q461.3 829 459.2 822.4Q457 815.9 458.9 808.3Q460.7 800.6 459 793.3Q457.2 785.9 458.8 779.1Q460.4 772.2 460.7 765.2Q460.9 758.3 462.5 751.5Q464.1 744.7 461.9 737.8L459.7 730.9M591.8 810.1Q587.7 824.7 587.9 834.1Q588.1 843.5 586.7 852.5Q585.3 861.5 580.3 867.2Q575.2 872.8 572.7 879.3Q570.2 885.7 565.8 892.1Q561.3 898.4 556.6 904.9Q551.9 911.3 547 916.5Q542.1 921.7 533.9 924.5Q525.6 927.3 518.9 931.9Q512.1 936.6 503.9 939.2Q495.6 941.8 489.7 946.6L483.7 951.4M359.5 930.5Q373.6 935.4 380.7 936.5Q387.8 937.6 395.6 938.4Q403.5 939.3 410.4 936.9Q417.3 934.5 424.4 938.7Q431.5 942.9 438.6 945.2Q445.8 947.5 452.5 948.6Q459.2 949.7 466.8 950.6Q474.5 951.4 481.4 951.7Q488.3 951.9 495.5 951.3Q502.8 950.8 509.8 950.2Q516.8 949.7 524.2 948.8Q531.6 947.8 538.9 950.5Q546.3 953.2 553.9 953.1Q561.5 953 568.6 951.6Q575.8 950.2 583.7 949.7L591.6 949.2M355.6 741.8Q369.4 756.3 376.5 762.6Q383.5 768.9 386.1 777Q388.7 785.1 390.8 791.8Q392.8 798.6 394.9 805.5Q397 812.5 395.7 819.6Q394.3 826.6 392.5 833.9Q390.6 841.3 392.1 847.8Q393.7 854.3 391.5 861.9Q389.3 869.5 389 875.8Q388.6 882.2 387.7 889.3Q386.7 896.4 383 904.6Q379.2 912.8 373.6 919.7Q368.1 926.7 366 932.9Q363.9 939.2 360.3 947.2L356.8 955.2M448.4 947.6Q464.9 946.2 472.1 943.5Q479.4 940.8 485.6 937Q491.8 933.2 500.4 931.4Q509 929.6 517.6 929Q526.2 928.4 531.5 922.2Q536.8 916 541.6 911.4Q546.4 906.8 550.5 899.4Q554.7 891.9 559.6 885.7Q564.5 879.5 569 874Q573.5 868.5 576.3 858.8Q579 849 583.7 843.4L588.5 837.8M357.5 798.6Q374.6 792 381.9 790.6Q389.1 789.1 397.1 786Q405.2 783 412.6 785.4Q420.1 787.8 427.2 787.5Q434.2 787.2 442.1 785.5Q449.9 783.8 457.1 784Q464.3 784.3 470.9 784.9Q477.4 785.6 485.3 784.1Q493.1 782.7 500.8 784.3Q508.4 785.8 515.1 788.1Q521.7 790.4 528.2 795.6Q534.8 800.9 540.3 805.4Q545.9 809.9 552.3 816.2Q558.7 822.4 565.5 826.8Q572.3 831.2 579 836.6L585.6 842M588.6 947.7Q587.4 932.3 588.7 925.1Q590.1 917.9 593.3 910.2Q596.5 902.5 595.3 894.7Q594 886.9 595.5 878.6Q597 870.3 597 862.5Q597.1 854.7 597.1 847.1Q597.1 839.4 596.9 832.1Q596.8 824.8 593.7 817.4Q590.6 809.9 589.8 801.9Q589.1 793.8 587.9 786.4L586.7 778.9M409.5 950.3Q423.3 938.4 432.2 931.8Q441.1 925.2 448.6 918.8Q456 912.4 462.1 905.9Q468.3 899.4 471.8 891.8Q475.3 884.1 479.4 878.3Q483.4 872.4 482.7 865.6Q481.9 858.8 482.5 852.1Q483.2 845.4 482.3 837.7Q481.4 829.9 482 823.5Q482.6 817 480.9 810.7Q479.2 804.3 474.8 796.6Q470.4 788.8 466.3 781.5Q462.3 774.2 458.1 767.9Q454 761.7 447.9 753.4Q441.8 745.2 434.3 737.4L426.8 729.6M551.8 955.1Q537.7 953.1 533.7 947Q529.7 940.8 523.2 937.1Q516.8 933.4 510 930.5Q503.2 927.7 496.7 924.9Q490.3 922.2 483.6 920.1Q476.9 917.9 471.5 914.3Q466.1 910.7 459.6 908.3Q453.1 906 446.2 902Q439.4 898 432.7 895.5Q426 892.9 420.4 890.6Q414.9 888.3 407.9 884.8Q401 881.2 394.8 879.7Q388.5 878.1 381.8 875.9Q375 873.7 369.3 869.4Q363.5 865 357.8 859.8L352.1 854.7M592 885.1Q578.5 877.1 572 868.2Q565.5 859.3 558.7 853.2Q551.9 847 545.6 839.6Q539.3 832.2 531.5 827.6Q523.8 822.9 518.4 819.1Q513 815.2 504.6 812.4Q496.2 809.5 489 808.8Q481.7 808 474.2 808.2Q466.6 808.4 460.2 808Q453.7 807.6 446.5 809.8Q439.2 812.1 431 815.7Q422.8 819.2 415.7 824Q408.5 828.7 399.7 837.1Q390.8 845.5 385 850.4Q379.2 855.3 370.3 862.5L361.5 869.6M351.7 726.3Q364.2 736.1 370 737.8Q375.7 739.5 383.3 741.2Q390.8 742.8 397.1 746.5Q403.5 750.2 410.6 751.4Q417.7 752.7 424.9 754.9Q432 757.1 437.8 760.7Q443.6 764.3 449.6 768.7Q455.7 773.2 463 775.5Q470.4 777.8 476.6 779.8Q482.7 781.9 489.4 788.2Q496.1 794.5 502.3 795.8Q508.5 797.2 515.6 799.6Q522.7 802 529.4 805.1Q536.1 808.1 542.6 809.2Q549 810.3 556.8 810.7Q564.5 811.1 571.2 814.5Q577.9 817.9 585.3 818.7L592.6 819.5M359.3 731.4Q354.2 722.2 354 727.4Q353.7 732.5 353.8 729.9Q353.8 727.2 355.9 729.2Q358 731.1 356.7 725.6Q355.4 720.2 353 719.8Q350.6 719.4 353.5 719.2L356.5 719M359.2 722.6Q356.5 721.3 361.5 724.9Q366.5 728.4 365.4 726.1Q364.3 723.9 358.5 729Q352.6 734.2 352.1 733.1Q351.5 732 353.9 729.1Q356.3 726.3 353.7 725.5L351.1 724.6M362.8 721.1Q356.1 733 354.3 731.1Q352.5 729.2 351.7 728.4Q351 727.6 351.1 723.5Q351.2 719.4 353.5 724Q355.7 728.6 355 730.4Q354.3 732.2 352.6 728.1L350.9 724M579.4 722.9Q592.7 720.4 591.4 724.7Q590 729.1 587.6 725.2Q585.2 721.4 586.6 720.3Q587.9 719.2 591.9 726Q595.9 732.7 592 732.6Q588.2 732.4 581.4 732.2L574.7 732.1M589.1 721.3Q581.4 728.4 585.3 725.1Q589.3 721.7 590.4 731.8Q591.6 741.9 591.3 732.6Q591 723.4 591.7 721.9Q592.5 720.3 592.5 720.7Q592.6 721.1 590.5 729.6L588.4 738.1M576.9 721.5Q582.6 719.4 586.9 721.6Q591.3 723.8 588.2 723.4Q585.1 723 590.7 723Q596.3 723 595.4 725Q594.4 727 591.6 726.1Q588.8 725.2 584.9 727L580.9 728.8M353.7 951.7Q355.4 949.9 356 953.2Q356.6 956.5 353.7 953.4Q350.7 950.3 351.8 954.7Q352.9 959.1 354.4 957.8Q356 956.5 353.3 958.3Q350.6 960.2 356.3 958.2L362 956.2M353.6 954.5Q353.4 945.1 353.7 951.3Q354 957.5 353.6 955Q353.1 952.5 358.9 951Q364.7 949.5 357.5 947.6Q350.4 945.8 351.5 950.5Q352.6 955.2 359.3 954.9L366 954.5M354.4 944.6Q359.4 959.1 358.5 954.7Q357.5 950.3 358.4 948.2Q359.3 946.2 356 947.4Q352.6 948.7 357.9 947.4Q363.2 946.1 360.6 952.8Q358 959.6 360.4 957.8L362.8 956.1M587.2 945Q583.4 954.8 588.1 953.8Q592.8 952.7 592.8 954.1Q592.9 955.6 592.5 957.9Q592.1 960.1 593.3 955.8Q594.4 951.5 594.3 948.7Q594.3 945.8 586.8 948.1L579.3 950.3M596.3 950.9Q591.5 955.9 590.1 955.5Q588.6 955 590.3 955.8Q592.1 956.7 590.5 954.9Q589 953.1 588.8 956.2Q588.7 959.2 583.3 957.5Q577.9 955.7 583.1 951L588.3 946.3M590.5 959Q597 941.2 592.9 945.7Q588.7 950.2 588 952Q587.4 953.8 588.7 953.1Q590 952.3 587.8 953.1Q585.5 953.8 589 955.1Q592.5 956.3 583 954.9L573.5 953.5"/>
</g>
<g fill="none" stroke="#000">
<rect x="82.6" y="445.8" width="255.4" height="255.4" stroke-width="1.7"/>
<rect x="134.2" y="497.5" width="152.4" height="151.9" stroke-width="2" stroke-dasharray="8.3 3.6"/>
<rect x="346.6" y="445.8" width="256" height="255.4" stroke-width="1.7"/>
<rect x="398.9" y="497.5" width="152.4" height="151.9" stroke-width="2" stroke-dasharray="8.3 3.6"/>
<rect x="82.6" y="712.8" width="255.4" height="255.6" stroke-width="1.7"/>
<rect x="134.2" y="764.4" width="152.4" height="151.8" stroke-width="2" stroke-dasharray="8.3 3.6"/>
<rect x="346.6" y="712.8" width="256" height="255.6" stroke-width="1.7"/>
<rect x="398.9" y="764.4" width="152.4" height="151.8" stroke-width="2" stroke-dasharray="8.3 3.6"/>
</g>
<line x1="550" y1="983.8" x2="601" y2="983.8" stroke-width="1.6" stroke="#000"/>
<text x="574.2" y="1009.6" text-anchor="middle" font-size="24" style="stroke-width:0.3px">10cm</text>
</g>
<g id="panel-c">
<text x="626.5" y="389" font-weight="bold" font-size="31">c</text>
<path d="M764 434V895.6H1255M764 434.9H752.6M764 511.68H752.6M764 588.47H752.6M764 665.25H752.6M764 742.03H752.6M764 818.82H752.6M764 895.6H752.6M764 473.29H756.7M764 550.08H756.7M764 626.86H756.7M764 703.64H756.7M764 780.42H756.7M764 857.21H756.7M837 895.6V908.8M938.6 895.6V908.8M1080 895.6V908.8M1181.4 895.6V908.8" fill="none" stroke="#000" stroke-width="1.8"/>
<text x="735.7" y="442.8" text-anchor="end">60</text>
<text x="735.7" y="519.58" text-anchor="end">50</text>
<text x="735.7" y="596.37" text-anchor="end">40</text>
<text x="735.7" y="673.15" text-anchor="end">30</text>
<text x="735.7" y="749.93" text-anchor="end">20</text>
<text x="735.7" y="826.72" text-anchor="end">10</text>
<text x="735.7" y="903.5" text-anchor="end">0</text>
<text x="676.5" y="671.5" text-anchor="middle" font-size="32.5" transform="rotate(-90 676.5 671.5)">Total distance (m/10min)</text>
<g fill="#fff" stroke="#000" stroke-width="1.7"><circle cx="837.04" cy="568.62" r="5.25"/><circle cx="822.21" cy="596.27" r="5.25"/><circle cx="835.6" cy="600.88" r="5.25"/><circle cx="848.28" cy="608.51" r="5.25"/><circle cx="822.5" cy="616.72" r="5.25"/><circle cx="837.04" cy="618.16" r="5.25"/><circle cx="812.71" cy="635.29" r="5.25"/><circle cx="826.1" cy="639.61" r="5.25"/><circle cx="840.36" cy="643.36" r="5.25"/><circle cx="854.61" cy="643.21" r="5.25"/><circle cx="818.18" cy="651.71" r="5.25"/><circle cx="832.29" cy="655.46" r="5.25"/><circle cx="850.15" cy="663.52" r="5.25"/><circle cx="822.5" cy="667.98" r="5.25"/><circle cx="837.04" cy="669.14" r="5.25"/><circle cx="837.04" cy="700.1" r="5.25"/></g>
<path d="M795.71 636.3H878.52M803.92 627.95H870.31M803.92 644.37H870.31M837.5 627.95V644.37" fill="none" stroke="#000" stroke-width="1.8"/>
<path d="M896.81 617.72H980.62M905.02 607.93H971.98M905.02 627.95H971.98M939.1 607.93V627.95" fill="none" stroke="#000" stroke-width="1.8"/>
<g fill="#000"><circle cx="938.57" cy="531.75" r="6.5"/><circle cx="938.57" cy="568.33" r="6.5"/><circle cx="911.21" cy="600.01" r="6.5"/><circle cx="924.17" cy="606.78" r="6.5"/><circle cx="938.57" cy="608.36" r="6.5"/><circle cx="951.68" cy="601.74" r="6.5"/><circle cx="966.08" cy="602.03" r="6.5"/><circle cx="979.61" cy="597.71" r="6.5"/><circle cx="924.17" cy="630.69" r="6.5"/><circle cx="938.57" cy="631.12" r="6.5"/><circle cx="957.29" cy="643.07" r="6.5"/><circle cx="943.32" cy="648.4" r="6.5"/><circle cx="929.93" cy="652" r="6.5"/><circle cx="938.57" cy="663.66" r="6.5"/><circle cx="938.57" cy="680.94" r="6.5"/></g>
<g fill="#fff" stroke="#000" stroke-width="1.7"><circle cx="1079.99" cy="505.54" r="5.25"/><circle cx="1079.99" cy="551.77" r="5.25"/><circle cx="1074.08" cy="580.14" r="5.25"/><circle cx="1065.59" cy="592.24" r="5.25"/><circle cx="1079.99" cy="593.39" r="5.25"/><circle cx="1065.88" cy="624.49" r="5.25"/><circle cx="1079.99" cy="626.8" r="5.25"/><circle cx="1039.23" cy="641.77" r="5.25"/><circle cx="1051.47" cy="648.97" r="5.25"/><circle cx="1065.44" cy="652.72" r="5.25"/><circle cx="1079.99" cy="654.74" r="5.25"/><circle cx="1093.96" cy="651.85" r="5.25"/><circle cx="1107.93" cy="646.81" r="5.25"/><circle cx="1079.99" cy="693.33" r="5.25"/><circle cx="1079.99" cy="715.22" r="5.25"/></g>
<path d="M1038.37 625.36H1122.04M1047.15 611.39H1113.97M1047.15 639.47H1113.97M1080.5 611.39V639.47" fill="none" stroke="#000" stroke-width="1.8"/>
<path d="M1140.62 604.33H1223.71M1148.54 587.91H1215.36M1148.54 621.18H1215.36M1181.9 587.91V621.18" fill="none" stroke="#000" stroke-width="1.8"/>
<g fill="#000"><circle cx="1169.56" cy="487.11" r="6.5"/><circle cx="1181.37" cy="495.17" r="6.5"/><circle cx="1181.37" cy="550.76" r="6.5"/><circle cx="1181.37" cy="569.77" r="6.5"/><circle cx="1167.4" cy="590.22" r="6.5"/><circle cx="1181.37" cy="594.54" r="6.5"/><circle cx="1166.97" cy="616.86" r="6.5"/><circle cx="1181.37" cy="616.86" r="6.5"/><circle cx="1196.06" cy="616.86" r="6.5"/><circle cx="1170.86" cy="646.38" r="6.5"/><circle cx="1191.45" cy="645.81" r="6.5"/><circle cx="1181.37" cy="656.18" r="6.5"/><circle cx="1181.37" cy="675.18" r="6.5"/><circle cx="1181.37" cy="701.11" r="6.5"/></g>
<line x1="835.89" y1="449.8" x2="940.01" y2="449.8" stroke-width="1.9" stroke="#000"/>
<text x="889.6" y="434.1" text-anchor="middle" font-size="22.5" style="stroke-width:0.25px">ns</text>
<line x1="1080.13" y1="449.8" x2="1182.24" y2="449.8" stroke-width="1.9" stroke="#000"/>
<text x="1128.5" y="434.1" text-anchor="middle" font-size="22.5" style="stroke-width:0.25px">ns</text>
<text x="831" y="942.7" text-anchor="middle">GH</text>
<text x="939.5" y="942.7" text-anchor="middle">SI</text>
<text x="1084" y="942.7" text-anchor="middle">GH</text>
<text x="1181.5" y="942.7" text-anchor="middle">SI</text>
<text x="894" y="987.4" text-anchor="middle" font-weight="bold">Adolescent</text>
<text x="1138.6" y="987.4" text-anchor="middle" font-weight="bold">Adult</text>
</g>
<g id="panel-d">
<text x="1285.5" y="389" font-weight="bold" font-size="31">d</text>
<path d="M1441.3 434V895.6H1932.5M1441.3 434.9H1429.9M1441.3 511.68H1434M1441.3 588.47H1429.9M1441.3 665.25H1434M1441.3 742.03H1429.9M1441.3 818.82H1434M1441.3 895.6H1429.9M1514.7 895.6V908.8M1616.1 895.6V908.8M1757.9 895.6V908.8M1859.1 895.6V908.8" fill="none" stroke="#000" stroke-width="1.8"/>
<text x="1415.7" y="447.9" text-anchor="end">150</text>
<text x="1415.7" y="601.47" text-anchor="end">100</text>
<text x="1415.7" y="755.03" text-anchor="end">50</text>
<text x="1415.7" y="908.6" text-anchor="end">0</text>
<text x="1344.5" y="662.5" text-anchor="middle" font-size="32.5" transform="rotate(-90 1344.5 662.5)">Center time (sec/10min)</text>
<g fill="#fff" stroke="#000" stroke-width="1.7"><circle cx="1514.72" cy="579.66" r="5.25"/><circle cx="1514.72" cy="647.16" r="5.25"/><circle cx="1522.33" cy="699.85" r="5.25"/><circle cx="1550.98" cy="708.86" r="5.25"/><circle cx="1490.28" cy="712.67" r="5.25"/><circle cx="1512.92" cy="710.67" r="5.25"/><circle cx="1501.5" cy="721.68" r="5.25"/><circle cx="1525.34" cy="718.28" r="5.25"/><circle cx="1539.76" cy="718.48" r="5.25"/><circle cx="1514.72" cy="728.49" r="5.25"/><circle cx="1519.93" cy="746.52" r="5.25"/><circle cx="1505.71" cy="750.53" r="5.25"/><circle cx="1514.72" cy="762.15" r="5.25"/><circle cx="1504.3" cy="781.98" r="5.25"/><circle cx="1514.72" cy="792.2" r="5.25"/><circle cx="1514.72" cy="816.03" r="5.25"/></g>
<path d="M1473.25 724.69H1556.19M1481.47 710.26H1548.17M1481.47 738.71H1548.17M1515.2 710.26V738.71" fill="none" stroke="#000" stroke-width="1.8"/>
<path d="M1575.02 690.03H1657.95M1582.83 672.4H1649.54M1582.83 706.86H1649.54M1616.6 672.4V706.86" fill="none" stroke="#000" stroke-width="1.8"/>
<g fill="#000"><circle cx="1616.08" cy="569.84" r="6.5"/><circle cx="1616.08" cy="593.68" r="6.5"/><circle cx="1616.08" cy="620.92" r="6.5"/><circle cx="1625.5" cy="654.17" r="6.5"/><circle cx="1602.66" cy="659.38" r="6.5"/><circle cx="1616.08" cy="665.39" r="6.5"/><circle cx="1601.86" cy="680.82" r="6.5"/><circle cx="1616.08" cy="682.82" r="6.5"/><circle cx="1625.5" cy="705.06" r="6.5"/><circle cx="1602.26" cy="711.27" r="6.5"/><circle cx="1616.08" cy="716.07" r="6.5"/><circle cx="1605.46" cy="743.12" r="6.5"/><circle cx="1616.08" cy="753.33" r="6.5"/><circle cx="1601.86" cy="794.6" r="6.5"/><circle cx="1616.08" cy="794.6" r="6.5"/></g>
<g fill="#fff" stroke="#000" stroke-width="1.7"><circle cx="1746.71" cy="513.95" r="5.25"/><circle cx="1757.72" cy="523.37" r="5.25"/><circle cx="1745.71" cy="547.6" r="5.25"/><circle cx="1757.72" cy="555.82" r="5.25"/><circle cx="1757.72" cy="602.69" r="5.25"/><circle cx="1757.72" cy="628.53" r="5.25"/><circle cx="1767.34" cy="641.96" r="5.25"/><circle cx="1754.32" cy="648.37" r="5.25"/><circle cx="1757.72" cy="662.79" r="5.25"/><circle cx="1746.31" cy="671.2" r="5.25"/><circle cx="1757.72" cy="680.02" r="5.25"/><circle cx="1771.95" cy="693.24" r="5.25"/><circle cx="1757.72" cy="697.04" r="5.25"/><circle cx="1745.1" cy="707.46" r="5.25"/><circle cx="1757.72" cy="714.47" r="5.25"/></g>
<path d="M1716.26 632.74H1799.59M1725.07 614.71H1791.78M1725.07 650.37H1791.78M1758.4 614.71V650.37" fill="none" stroke="#000" stroke-width="1.8"/>
<path d="M1818.02 617.72H1901.15M1826.43 601.09H1892.94M1826.43 634.54H1892.94M1859.6 601.09V634.54" fill="none" stroke="#000" stroke-width="1.8"/>
<g fill="#000"><circle cx="1859.09" cy="501.73" r="6.5"/><circle cx="1859.09" cy="529.78" r="6.5"/><circle cx="1844.66" cy="565.23" r="6.5"/><circle cx="1859.09" cy="566.43" r="6.5"/><circle cx="1859.09" cy="587.87" r="6.5"/><circle cx="1852.88" cy="608.1" r="6.5"/><circle cx="1867.7" cy="607.7" r="6.5"/><circle cx="1859.09" cy="621.92" r="6.5"/><circle cx="1859.09" cy="638.75" r="6.5"/><circle cx="1859.09" cy="654.38" r="6.5"/><circle cx="1846.27" cy="676.81" r="6.5"/><circle cx="1859.09" cy="682.82" r="6.5"/><circle cx="1844.66" cy="700.85" r="6.5"/><circle cx="1859.09" cy="702.45" r="6.5"/></g>
<line x1="1514.52" y1="449.8" x2="1614.88" y2="449.8" stroke-width="1.9" stroke="#000"/>
<text x="1566.2" y="434.1" text-anchor="middle" font-size="22.5" style="stroke-width:0.25px">ns</text>
<line x1="1758.12" y1="449.8" x2="1858.69" y2="449.8" stroke-width="1.9" stroke="#000"/>
<text x="1805.2" y="434.1" text-anchor="middle" font-size="22.5" style="stroke-width:0.25px">ns</text>
<text x="1514" y="942.7" text-anchor="middle">GH</text>
<text x="1618" y="942.7" text-anchor="middle">SI</text>
<text x="1763.5" y="942.7" text-anchor="middle">GH</text>
<text x="1861" y="942.7" text-anchor="middle">SI</text>
<text x="1565" y="987.4" text-anchor="middle" font-weight="bold">Adolescent</text>
<text x="1817.5" y="987.4" text-anchor="middle" font-weight="bold">Adult</text>
</g>
<g id="panel-e">
<text x="3.5" y="1081.5" font-weight="bold" font-size="31">e</text>
<text x="669.6" y="1081.6" text-anchor="middle"><tspan font-weight="bold">Adolescent</tspan>, tNORT</text>
<path d="M187.9 1155.6V1626.6H1138.3M187.9 1156.5H178.1M187.9 1180.01H182.6M187.9 1203.51H182.6M187.9 1227.01H182.6M187.9 1250.52H182.6M187.9 1274.03H178.1M187.9 1297.53H182.6M187.9 1321.03H182.6M187.9 1344.54H182.6M187.9 1368.05H182.6M187.9 1391.55H178.1M187.9 1415.05H182.6M187.9 1438.56H182.6M187.9 1462.07H182.6M187.9 1485.57H182.6M187.9 1509.07H178.1M187.9 1532.58H182.6M187.9 1556.09H182.6M187.9 1579.59H182.6M187.9 1603.09H182.6M187.9 1626.6H178.1M284.5 1626.6V1636.6M426.4 1626.6V1636.6M568.5 1626.6V1636.6M755.9 1626.6V1636.6M897.9 1626.6V1636.6M1040 1626.6V1636.6" fill="none" stroke="#000" stroke-width="1.8"/>
<text x="161.8" y="1169.3" text-anchor="end">1.0</text>
<text x="161.8" y="1286.73" text-anchor="end">0.5</text>
<text x="161.8" y="1404.05" text-anchor="end">0.0</text>
<text x="161.8" y="1519.27" text-anchor="end">−0.5</text>
<text x="161.8" y="1637.4" text-anchor="end">−1.0</text>
<text x="77.5" y="1373.7" text-anchor="middle" font-size="32.4" transform="rotate(-90 77.5 1373.7)">Discrimination index</text>
<path d="M293 1287.56L417.9 1330.96M292.99 1307.63L417.91 1351.45M291 1346.58L419.9 1223.09M291.29 1352.89L419.61 1241.21M291.42 1371.47L419.48 1264.79M292.67 1376.68L418.23 1318.57M293.01 1387.54L417.89 1430.53M290.17 1398.35L420.73 1237.22M290.99 1401.87L419.91 1277.94M290.17 1403.42L420.73 1242.29M292.96 1412.41L417.94 1366.95M293.49 1423.89L417.41 1419.06M291.76 1444.26L419.14 1350.76M289.87 1458.03L421.03 1281.69M289.94 1486.89L420.96 1314.36M292.77 1508.47L418.13 1454.53M431.32 1224.4L563.58 1426.84M435.22 1228.43L559.68 1203M435.38 1229.68L559.52 1222.03M435.08 1237.69L559.82 1272.08M435.36 1259.86L559.54 1271.34M435.4 1271.59L559.5 1269.98M435.09 1276.8L559.81 1310.16M433.73 1301.96L561.17 1211.03M435.22 1316.57L559.68 1341.59M435.15 1336.03L559.75 1366.14M435.25 1343.82L559.65 1321.02M433.86 1349.38L561.04 1263.38M435.4 1364.15L559.5 1367.97M435.35 1419.7L559.55 1433.39M435.32 1432.23L559.58 1415.1M431.74 1443.73L563.16 1265.58" fill="none" stroke="#8e8e8e" stroke-width="1.05"/>
<g fill="#fff" stroke="#000" stroke-width="1.95"><circle cx="284.5" cy="1284.61" r="5.8"/><circle cx="284.5" cy="1304.65" r="5.8"/><circle cx="284.5" cy="1352.81" r="5.8"/><circle cx="284.5" cy="1358.8" r="5.8"/><circle cx="284.5" cy="1377.24" r="5.8"/><circle cx="284.5" cy="1384.61" r="5.8"/><circle cx="284.5" cy="1405.35" r="5.8"/><circle cx="284.5" cy="1408.11" r="5.8"/><circle cx="284.5" cy="1415.48" r="5.8"/><circle cx="284.5" cy="1424.24" r="5.8"/><circle cx="284.5" cy="1449.59" r="5.8"/><circle cx="284.5" cy="1465.25" r="5.8"/><circle cx="284.5" cy="1494.06" r="5.8"/><circle cx="284.5" cy="1512.03" r="5.8"/><circle cx="426.4" cy="1216.87" r="5.8"/><circle cx="426.4" cy="1230.23" r="5.8"/><circle cx="426.4" cy="1235.3" r="5.8"/><circle cx="426.4" cy="1259.03" r="5.8"/><circle cx="426.4" cy="1271.71" r="5.8"/><circle cx="426.4" cy="1274.47" r="5.8"/><circle cx="426.4" cy="1307.19" r="5.8"/><circle cx="426.4" cy="1314.79" r="5.8"/><circle cx="426.4" cy="1333.92" r="5.8"/><circle cx="426.4" cy="1345.44" r="5.8"/><circle cx="426.4" cy="1354.42" r="5.8"/><circle cx="426.4" cy="1363.87" r="5.8"/><circle cx="426.4" cy="1418.71" r="5.8"/><circle cx="426.4" cy="1433.46" r="5.8"/><circle cx="426.4" cy="1450.97" r="5.8"/><circle cx="568.5" cy="1201.2" r="5.8"/><circle cx="568.5" cy="1205.81" r="5.8"/><circle cx="568.5" cy="1221.47" r="5.8"/><circle cx="568.5" cy="1255.58" r="5.8"/><circle cx="568.5" cy="1269.86" r="5.8"/><circle cx="568.5" cy="1277.93" r="5.8"/><circle cx="568.5" cy="1312.49" r="5.8"/><circle cx="568.5" cy="1319.4" r="5.8"/><circle cx="568.5" cy="1343.36" r="5.8"/><circle cx="568.5" cy="1368.25" r="5.8"/><circle cx="568.5" cy="1413.87" r="5.8"/><circle cx="568.5" cy="1434.38" r="5.8"/><circle cx="568.5" cy="1444.52" r="5.8"/></g>
<path d="M236.9 1386.45H332.1M236.9 1401.66H332.1M236.9 1416.87H332.1M284.5 1386.45V1416.87M378.8 1296.59H474M378.8 1315.02H474M378.8 1333.92H474M426.4 1296.59V1333.92M520.9 1291.98H616.1M520.9 1311.57H616.1M520.9 1330.92H616.1M568.5 1291.98V1330.92" fill="none" stroke="#000" stroke-width="1.85"/>
<path d="M764.89 1319.58L888.91 1325.21M762.37 1340.63L891.43 1465.22M761.8 1341.17L892 1491.18M764.9 1366.85L888.9 1369.87M764.24 1406.89L889.56 1457.72M764.9 1412.5L888.9 1409.48M763.62 1431.18L890.18 1507.16M762.2 1426.57L891.6 1294.72M762.73 1439.12L891.07 1329.17M762.6 1452.34L891.2 1337.16M762.74 1464.93L891.06 1355.2M764.17 1471.38L889.63 1417.43M763.02 1472.19L890.78 1373.3M762.63 1487.85L891.17 1373.76M764.64 1428.67L889.16 1458.98M906.02 1292.18L1031.88 1352.38M904.84 1317.58L1033.06 1211.54M906.24 1319.94L1031.66 1269.1M906.9 1331.43L1031 1335.25M904.91 1355L1032.99 1458.22M906.68 1365.8L1031.22 1337.52M906.33 1373.24L1031.57 1419.94M905.05 1402.64L1032.85 1304.82M905.51 1409.06L1032.39 1328.82M903.08 1453.75L1034.82 1266.85M905.74 1467.05L1032.16 1395.71M904.47 1472.24L1033.43 1351.59M904.03 1491.39L1033.87 1352.02M903.97 1505.15L1033.93 1362.91M904.14 1464.99L1033.76 1330.49" fill="none" stroke="#8e8e8e" stroke-width="1.1" stroke-dasharray="6.5 2.6"/>
<g fill="#000"><circle cx="755.9" cy="1319.17" r="6.9"/><circle cx="755.9" cy="1334.38" r="6.9"/><circle cx="755.9" cy="1366.64" r="6.9"/><circle cx="755.9" cy="1403.5" r="6.9"/><circle cx="755.9" cy="1412.72" r="6.9"/><circle cx="755.9" cy="1426.54" r="6.9"/><circle cx="755.9" cy="1433" r="6.9"/><circle cx="755.9" cy="1444.98" r="6.9"/><circle cx="755.9" cy="1458.34" r="6.9"/><circle cx="755.9" cy="1470.78" r="6.9"/><circle cx="755.9" cy="1477.7" r="6.9"/><circle cx="755.9" cy="1493.82" r="6.9"/><circle cx="897.9" cy="1288.29" r="6.9"/><circle cx="897.9" cy="1323.32" r="6.9"/><circle cx="897.9" cy="1331.15" r="6.9"/><circle cx="897.9" cy="1349.35" r="6.9"/><circle cx="897.9" cy="1367.79" r="6.9"/><circle cx="897.9" cy="1370.09" r="6.9"/><circle cx="897.9" cy="1408.11" r="6.9"/><circle cx="897.9" cy="1413.87" r="6.9"/><circle cx="897.9" cy="1461.11" r="6.9"/><circle cx="897.9" cy="1471.47" r="6.9"/><circle cx="897.9" cy="1478.39" r="6.9"/><circle cx="897.9" cy="1497.97" r="6.9"/><circle cx="897.9" cy="1511.8" r="6.9"/><circle cx="1040" cy="1205.81" r="6.9"/><circle cx="1040" cy="1259.49" r="6.9"/><circle cx="1040" cy="1265.71" r="6.9"/><circle cx="1040" cy="1299.35" r="6.9"/><circle cx="1040" cy="1324.01" r="6.9"/><circle cx="1040" cy="1335.53" r="6.9"/><circle cx="1040" cy="1345.44" r="6.9"/><circle cx="1040" cy="1356.27" r="6.9"/><circle cx="1040" cy="1391.29" r="6.9"/><circle cx="1040" cy="1423.09" r="6.9"/><circle cx="1040" cy="1463.87" r="6.9"/></g>
<path d="M708.3 1391.75H803.5M708.3 1407.88H803.5M708.3 1424.01H803.5M755.9 1391.75V1424.01M850.3 1380.46H945.5M850.3 1400.05H945.5M850.3 1419.86H945.5M897.9 1380.46V1419.86M992.4 1317.1H1087.6M992.4 1334.84H1087.6M992.4 1352.58H1087.6M1040 1317.1V1352.58" fill="none" stroke="#000" stroke-width="1.85"/>
<line x1="284.5" y1="1130" x2="568.5" y2="1130" stroke-width="1.9" stroke="#000"/>
<text x="416" y="1129.6" text-anchor="middle" font-size="31">**</text>
<line x1="284.5" y1="1165" x2="426.4" y2="1165" stroke-width="1.9" stroke="#000"/>
<text x="343.5" y="1164.6" text-anchor="middle" font-size="31">**</text>
<line x1="439.5" y1="1165" x2="580.6" y2="1165" stroke-width="1.9" stroke="#000"/>
<text x="512" y="1156.1" text-anchor="middle" font-size="20.5" style="stroke-width:0.25px">ns</text>
<line x1="755.9" y1="1130" x2="1040" y2="1130" stroke-width="1.9" stroke="#000"/>
<text x="888" y="1129.6" text-anchor="middle" font-size="31">*</text>
<line x1="755.9" y1="1165" x2="897.3" y2="1165" stroke-width="1.9" stroke="#000"/>
<text x="828.6" y="1156.1" text-anchor="middle" font-size="20.5" style="stroke-width:0.25px">ns</text>
<line x1="909.3" y1="1166" x2="1051.2" y2="1166" stroke-width="1.9" stroke="#000"/>
<text x="977" y="1165.6" text-anchor="middle" font-size="31">*</text>
<text x="284" y="1683.2" text-anchor="middle">Learning</text>
<text x="419.5" y="1683.2" text-anchor="middle" word-spacing="1.6">Test 1</text>
<text x="568" y="1683.2" text-anchor="middle" word-spacing="3.5">Test 2</text>
<text x="765" y="1683.2" text-anchor="middle">Learning</text>
<text x="905" y="1683.2" text-anchor="middle" word-spacing="1.6">Test 1</text>
<text x="1040" y="1683.2" text-anchor="middle" word-spacing="3.5">Test 2</text>
<text x="428.6" y="1729.6" text-anchor="middle" font-weight="bold">GH</text>
<text x="898" y="1729.6" text-anchor="middle" font-weight="bold">SI</text>
</g>
<g id="panel-f">
<text x="1192" y="1082.5" font-weight="bold" font-size="31">f</text>
<text x="1642.2" y="1082.5" text-anchor="middle"><tspan font-weight="bold">Adolescent,</tspan> NORT</text>
<path d="M1361.9 1155.1V1626.3H1937.7M1361.9 1156H1351.7M1361.9 1179.52H1356.6M1361.9 1203.03H1356.6M1361.9 1226.55H1356.6M1361.9 1250.06H1356.6M1361.9 1273.58H1351.7M1361.9 1297.09H1356.6M1361.9 1320.61H1356.6M1361.9 1344.12H1356.6M1361.9 1367.63H1356.6M1361.9 1391.15H1351.7M1361.9 1414.66H1356.6M1361.9 1438.18H1356.6M1361.9 1461.69H1356.6M1361.9 1485.21H1356.6M1361.9 1508.72H1351.7M1361.9 1532.24H1356.6M1361.9 1555.75H1356.6M1361.9 1579.27H1356.6M1361.9 1602.78H1356.6M1361.9 1626.3H1351.7M1434.1 1626.3V1636.3M1555.6 1626.3V1636.3M1741.8 1626.3V1636.3M1863.6 1626.3V1636.3" fill="none" stroke="#000" stroke-width="1.8"/>
<text x="1341" y="1168.6" text-anchor="end">1.0</text>
<text x="1341" y="1286.08" text-anchor="end">0.5</text>
<text x="1341" y="1403.45" text-anchor="end">0.0</text>
<text x="1341" y="1518.72" text-anchor="end">−0.5</text>
<text x="1341" y="1636.9" text-anchor="end">−1.0</text>
<text x="1259.7" y="1388.7" text-anchor="middle" font-size="32.1" transform="rotate(-90 1259.7 1388.7)">Discrimination index</text>
<path d="M1440.97 1279.13L1548.73 1370.2M1441.9 1323.6L1547.8 1262.72M1441.02 1337.33L1548.68 1426.83M1443.09 1341.05L1546.61 1337.48M1440.54 1355.32L1549.16 1249.16M1442.53 1358.46L1547.17 1319.36M1442.7 1363.84L1547 1331.45M1440.21 1371.77L1549.49 1253.66M1440.26 1375.32L1549.44 1259.2M1441.29 1376.46L1548.41 1295.78M1441.69 1380.52L1548.01 1312.67M1440.46 1388.78L1549.24 1279.97M1438.85 1423.82L1550.85 1243.53M1439.19 1428.23L1550.51 1265.66M1439.37 1437.44L1550.33 1283.69" fill="none" stroke="#8e8e8e" stroke-width="1.05"/>
<g fill="#fff" stroke="#000" stroke-width="1.95"><circle cx="1434.1" cy="1273.32" r="5.8"/><circle cx="1434.1" cy="1328.09" r="5.8"/><circle cx="1434.1" cy="1331.58" r="5.8"/><circle cx="1434.1" cy="1341.36" r="5.8"/><circle cx="1434.1" cy="1361.61" r="5.8"/><circle cx="1434.1" cy="1366.5" r="5.8"/><circle cx="1434.1" cy="1378.38" r="5.8"/><circle cx="1434.1" cy="1381.87" r="5.8"/><circle cx="1434.1" cy="1385.36" r="5.8"/><circle cx="1434.1" cy="1395.14" r="5.8"/><circle cx="1434.1" cy="1403.53" r="5.8"/><circle cx="1434.1" cy="1431.47" r="5.8"/><circle cx="1434.1" cy="1435.66" r="5.8"/><circle cx="1434.1" cy="1444.74" r="5.8"/><circle cx="1434.1" cy="1458.71" r="5.8"/><circle cx="1555.6" cy="1235.88" r="5.8"/><circle cx="1555.6" cy="1242.87" r="5.8"/><circle cx="1555.6" cy="1247.06" r="5.8"/><circle cx="1555.6" cy="1252.65" r="5.8"/><circle cx="1555.6" cy="1258.23" r="5.8"/><circle cx="1555.6" cy="1273.6" r="5.8"/><circle cx="1555.6" cy="1276.4" r="5.8"/><circle cx="1555.6" cy="1290.37" r="5.8"/><circle cx="1555.6" cy="1307.83" r="5.8"/><circle cx="1555.6" cy="1316.21" r="5.8"/><circle cx="1555.6" cy="1328.78" r="5.8"/><circle cx="1555.6" cy="1337.17" r="5.8"/><circle cx="1555.6" cy="1376" r="5.8"/><circle cx="1555.6" cy="1432.58" r="5.8"/></g>
<path d="M1398.3 1369.58H1469.9M1398.3 1382.01H1469.9M1398.3 1394.17H1469.9M1434.1 1369.58V1394.17M1519.8 1278.63H1591.4M1519.8 1292.32H1591.4M1519.8 1306.15H1591.4M1555.6 1278.63V1306.15" fill="none" stroke="#000" stroke-width="1.85"/>
<path d="M1749.3 1296.74L1856.1 1367.66M1748.21 1337.42L1857.19 1230.12M1749.85 1357.69L1855.55 1304.71M1750.8 1374.06L1854.6 1372.75M1746.32 1382.85L1859.08 1188.85M1748.76 1384.92L1856.64 1296.4M1749.95 1389.89L1855.45 1340.62M1750.19 1394.29L1855.21 1353.6M1750.79 1400.16L1854.61 1403.7M1747.94 1399.43L1857.46 1282.2M1746.33 1425.13L1859.07 1231.58M1746.35 1434.83L1859.05 1242.79M1750.58 1444.56L1854.82 1467.85M1747.16 1447.97L1858.24 1297.92M1748.59 1458.52L1856.81 1364.25" fill="none" stroke="#8e8e8e" stroke-width="1.1" stroke-dasharray="6.5 2.6"/>
<g fill="#000"><circle cx="1741.8" cy="1291.77" r="6.9"/><circle cx="1741.8" cy="1343.73" r="6.9"/><circle cx="1741.8" cy="1361.72" r="6.9"/><circle cx="1741.8" cy="1374.18" r="6.9"/><circle cx="1741.8" cy="1390.63" r="6.9"/><circle cx="1741.8" cy="1397.55" r="6.9"/><circle cx="1741.8" cy="1406" r="6.9"/><circle cx="1741.8" cy="1432.91" r="6.9"/><circle cx="1741.8" cy="1442.6" r="6.9"/><circle cx="1741.8" cy="1455.2" r="6.9"/><circle cx="1741.8" cy="1464.43" r="6.9"/><circle cx="1863.6" cy="1181.06" r="6.9"/><circle cx="1863.6" cy="1214.58" r="6.9"/><circle cx="1863.6" cy="1223.81" r="6.9"/><circle cx="1863.6" cy="1235.03" r="6.9"/><circle cx="1863.6" cy="1275.62" r="6.9"/><circle cx="1863.6" cy="1290.69" r="6.9"/><circle cx="1863.6" cy="1300.68" r="6.9"/><circle cx="1863.6" cy="1336.81" r="6.9"/><circle cx="1863.6" cy="1350.34" r="6.9"/><circle cx="1863.6" cy="1358.34" r="6.9"/><circle cx="1863.6" cy="1372.64" r="6.9"/><circle cx="1863.6" cy="1375.25" r="6.9"/><circle cx="1863.6" cy="1404" r="6.9"/><circle cx="1863.6" cy="1469.81" r="6.9"/></g>
<path d="M1706 1383.86H1777.6M1706 1395.7H1777.6M1706 1408H1777.6M1741.8 1383.86V1408M1827.8 1291.61H1899.4M1827.8 1313.29H1899.4M1827.8 1335.28H1899.4M1863.6 1291.61V1335.28" fill="none" stroke="#000" stroke-width="1.85"/>
<line x1="1435" y1="1139.2" x2="1555.6" y2="1139.2" stroke-width="1.9" stroke="#000"/>
<text x="1495.5" y="1138.8" text-anchor="middle" font-size="31">***</text>
<line x1="1741.8" y1="1139.2" x2="1863.6" y2="1139.2" stroke-width="1.9" stroke="#000"/>
<text x="1804.5" y="1138.8" text-anchor="middle" font-size="31">***</text>
<text x="1434" y="1680" text-anchor="middle">Learning</text>
<text x="1562" y="1680" text-anchor="middle" word-spacing="2.8">Test 3</text>
<text x="1741.5" y="1680" text-anchor="middle">Learning</text>
<text x="1876" y="1680" text-anchor="middle" word-spacing="2.8">Test 3</text>
<text x="1501.7" y="1737.7" text-anchor="middle" font-weight="bold">GH</text>
<text x="1808.5" y="1737.7" text-anchor="middle" font-weight="bold">SI</text>
</g>
<g id="panel-g">
<text x="3" y="1813" font-weight="bold" font-size="31">g</text>
<text x="675.0" y="1818.0" text-anchor="middle"><tspan font-weight="bold">Adult</tspan>, tNORT</text>
<path d="M187.9 1887.7V2358H1138.3M187.9 1888.6H178.1M187.9 1912.07H182.6M187.9 1935.54H182.6M187.9 1959.01H182.6M187.9 1982.48H182.6M187.9 2005.95H178.1M187.9 2029.42H182.6M187.9 2052.89H182.6M187.9 2076.36H182.6M187.9 2099.83H182.6M187.9 2123.3H178.1M187.9 2146.77H182.6M187.9 2170.24H182.6M187.9 2193.71H182.6M187.9 2217.18H182.6M187.9 2240.65H178.1M187.9 2264.12H182.6M187.9 2287.59H182.6M187.9 2311.06H182.6M187.9 2334.53H182.6M187.9 2358H178.1M284.5 2358V2368M426.4 2358V2368M568.5 2358V2368M755.9 2358V2368M897.9 2358V2368M1040 2358V2368" fill="none" stroke="#000" stroke-width="1.8"/>
<text x="161.8" y="1901.4" text-anchor="end">1.0</text>
<text x="161.8" y="2018.65" text-anchor="end">0.5</text>
<text x="161.8" y="2135.8" text-anchor="end">0.0</text>
<text x="161.8" y="2250.85" text-anchor="end">−0.5</text>
<text x="161.8" y="2368.8" text-anchor="end">−1.0</text>
<text x="77.5" y="2102.4" text-anchor="middle" font-size="32.4" transform="rotate(-90 77.5 2102.4)">Discrimination index</text>
<path d="M293.38 2022.85L417.52 2043.41M293.45 2038.67L417.45 2051.56M291.72 2055.41L419.18 1960.4M292.58 2065.34L418.32 2003.47M293.26 2083.84L417.64 2054.55M291.34 2094.34L419.56 1984.83M290.38 2106.73L420.52 1955.85M292.99 2111.71L417.91 2067.69M292.74 2119.47L418.16 2174.45M290.58 2120.74L420.32 1979.17M290.59 2149.55L420.31 2008.42M289.76 2168.69L421.14 1986.29M291.5 2183.47L419.4 2080.04M289.45 2207.19L421.45 2007.01M435.24 1950.71L559.66 1974.31M433.32 1960.78L561.58 2067.47M434.39 1976.68L560.51 2042.12M434.23 1983.42L560.67 2054.97M435.06 1997.04L559.84 1961.63M435.26 2000.19L559.64 1977.6M434.11 2040.24L560.79 1963.82M434.28 2044.69L560.62 1975.04M435.33 2051.37L559.57 2035.86M434.62 2056.15L560.28 2112.19M435.33 2063.54L559.57 2047.43M435.37 2075.11L559.53 2085.17M435.37 2177.28L559.53 2166.41" fill="none" stroke="#8e8e8e" stroke-width="1.05"/>
<g fill="#fff" stroke="#000" stroke-width="1.9"><circle cx="284.5" cy="2021.38" r="5.4"/><circle cx="284.5" cy="2037.74" r="5.4"/><circle cx="284.5" cy="2060.78" r="5.4"/><circle cx="284.5" cy="2069.31" r="5.4"/><circle cx="284.5" cy="2085.9" r="5.4"/><circle cx="284.5" cy="2100.18" r="5.4"/><circle cx="284.5" cy="2113.55" r="5.4"/><circle cx="284.5" cy="2115.85" r="5.4"/><circle cx="284.5" cy="2127.37" r="5.4"/><circle cx="284.5" cy="2156.18" r="5.4"/><circle cx="284.5" cy="2175.99" r="5.4"/><circle cx="284.5" cy="2189.12" r="5.4"/><circle cx="284.5" cy="2214.7" r="5.4"/><circle cx="426.4" cy="1949.03" r="5.4"/><circle cx="426.4" cy="1955.02" r="5.4"/><circle cx="426.4" cy="1972.53" r="5.4"/><circle cx="426.4" cy="1978.99" r="5.4"/><circle cx="426.4" cy="1999.49" r="5.4"/><circle cx="426.4" cy="2001.8" r="5.4"/><circle cx="426.4" cy="2044.88" r="5.4"/><circle cx="426.4" cy="2052.49" r="5.4"/><circle cx="426.4" cy="2064.7" r="5.4"/><circle cx="426.4" cy="2074.38" r="5.4"/><circle cx="426.4" cy="2178.06" r="5.4"/><circle cx="568.5" cy="1959.17" r="5.4"/><circle cx="568.5" cy="1970.69" r="5.4"/><circle cx="568.5" cy="1975.99" r="5.4"/><circle cx="568.5" cy="2034.75" r="5.4"/><circle cx="568.5" cy="2046.27" r="5.4"/><circle cx="568.5" cy="2059.4" r="5.4"/><circle cx="568.5" cy="2073.23" r="5.4"/><circle cx="568.5" cy="2085.9" r="5.4"/><circle cx="568.5" cy="2115.85" r="5.4"/><circle cx="568.5" cy="2165.62" r="5.4"/></g>
<path d="M236.9 2096.73H332.1M236.9 2113.09H332.1M236.9 2129.68H332.1M284.5 2096.73V2129.68M378.8 2011.94H474M378.8 2028.76H474M378.8 2046.27H474M426.4 2011.94V2046.27M520.9 2018.16H616.1M520.9 2036.13H616.1M520.9 2054.1H616.1M568.5 2018.16V2054.1" fill="none" stroke="#000" stroke-width="1.85"/>
<path d="M764.9 2025.34L888.9 2022.72M764.07 2036.5L889.73 1978.39M764.29 2051.15L889.51 2099.91M764.69 2082.1L889.11 2054.44M763.02 2092.37L890.78 1993.48M763.1 2094.33L890.7 1998.67M764.43 2106.06L889.37 2148.23M762.36 2119.49L891.44 1994.24M762.62 2127.61L891.18 2013.08M762.57 2145.07L891.23 2028.58M760.15 2212.53L893.65 1963.65M760.41 2230.65L893.39 2001.06M761.67 2272.08L892.13 2115.85M903.67 1962.62L1034.23 2118.85M906.82 1975.84L1031.08 1992.96M906.77 1989.52L1031.13 2011.3M906.29 1991.24L1031.61 2040.01M904.2 1999.7L1033.7 2131.78M906.89 2007.46L1031.01 2012.49M906.84 2008.14L1031.06 2022.64M905.84 2018.3L1032.06 1950.96M906.32 2024.65L1031.58 1977.33M906.88 2051.91L1031.02 2043.85M905.04 2097.7L1032.86 1999.67M906.78 2107.5L1031.12 2087.34M906.05 2147.3L1031.85 2088.55" fill="none" stroke="#8e8e8e" stroke-width="1.1" stroke-dasharray="6.5 2.6"/>
<g fill="#000"><circle cx="755.9" cy="2025.53" r="6.9"/><circle cx="755.9" cy="2040.28" r="6.9"/><circle cx="755.9" cy="2047.88" r="6.9"/><circle cx="755.9" cy="2084.06" r="6.9"/><circle cx="755.9" cy="2097.88" r="6.9"/><circle cx="755.9" cy="2103.18" r="6.9"/><circle cx="755.9" cy="2125.76" r="6.9"/><circle cx="755.9" cy="2133.59" r="6.9"/><circle cx="755.9" cy="2151.11" r="6.9"/><circle cx="755.9" cy="2220.46" r="6.9"/><circle cx="755.9" cy="2238.43" r="6.9"/><circle cx="755.9" cy="2278.99" r="6.9"/><circle cx="897.9" cy="1955.71" r="6.9"/><circle cx="897.9" cy="1974.61" r="6.9"/><circle cx="897.9" cy="1987.97" r="6.9"/><circle cx="897.9" cy="1993.27" r="6.9"/><circle cx="897.9" cy="2007.1" r="6.9"/><circle cx="897.9" cy="2022.53" r="6.9"/><circle cx="897.9" cy="2027.83" r="6.9"/><circle cx="897.9" cy="2052.49" r="6.9"/><circle cx="897.9" cy="2103.18" r="6.9"/><circle cx="897.9" cy="2108.94" r="6.9"/><circle cx="897.9" cy="2151.11" r="6.9"/><circle cx="1040" cy="1946.73" r="6.9"/><circle cx="1040" cy="1974.15" r="6.9"/><circle cx="1040" cy="1994.19" r="6.9"/><circle cx="1040" cy="2012.86" r="6.9"/><circle cx="1040" cy="2023.69" r="6.9"/><circle cx="1040" cy="2043.27" r="6.9"/><circle cx="1040" cy="2046.73" r="6.9"/><circle cx="1040" cy="2084.75" r="6.9"/><circle cx="1040" cy="2085.9" r="6.9"/><circle cx="1040" cy="2125.76" r="6.9"/><circle cx="1040" cy="2138.2" r="6.9"/></g>
<path d="M708.3 2105.25H803.5M708.3 2126.91H803.5M708.3 2148.57H803.5M755.9 2105.25V2148.57M850.3 2013.09H945.5M850.3 2029.22H945.5M850.3 2045.58H945.5M897.9 2013.09V2045.58M992.4 2021.61H1087.6M992.4 2037.74H1087.6M992.4 2053.64H1087.6M1040 2021.61V2053.64" fill="none" stroke="#000" stroke-width="1.85"/>
<line x1="284.5" y1="1859.5" x2="568.5" y2="1859.5" stroke-width="1.9" stroke="#000"/>
<text x="415" y="1859.1" text-anchor="middle" font-size="31">**</text>
<line x1="284.5" y1="1894.6" x2="426.4" y2="1894.6" stroke-width="1.9" stroke="#000"/>
<text x="350" y="1894.2" text-anchor="middle" font-size="31">**</text>
<line x1="438.5" y1="1894.6" x2="579" y2="1894.6" stroke-width="1.9" stroke="#000"/>
<text x="512" y="1883.2" text-anchor="middle" font-size="20.5" style="stroke-width:0.25px">ns</text>
<line x1="755.9" y1="1860" x2="1040" y2="1860" stroke-width="1.9" stroke="#000"/>
<text x="894" y="1859.6" text-anchor="middle" font-size="31">**</text>
<line x1="755.9" y1="1895" x2="897.3" y2="1895" stroke-width="1.9" stroke="#000"/>
<text x="821.5" y="1894.6" text-anchor="middle" font-size="31">**</text>
<line x1="909.6" y1="1895" x2="1050.6" y2="1895" stroke-width="1.9" stroke="#000"/>
<text x="982" y="1882" text-anchor="middle" font-size="20.5" style="stroke-width:0.25px">ns</text>
<text x="278.5" y="2416.8" text-anchor="middle">Learning</text>
<text x="416.5" y="2416.8" text-anchor="middle" word-spacing="2.8">Test 1</text>
<text x="568" y="2416.8" text-anchor="middle" word-spacing="5.0">Test 2</text>
<text x="755.5" y="2416.8" text-anchor="middle">Learning</text>
<text x="897" y="2416.8" text-anchor="middle" word-spacing="2.8">Test 1</text>
<text x="1040" y="2416.8" text-anchor="middle" word-spacing="5.0">Test 2</text>
<text x="418" y="2461.6" text-anchor="middle" font-weight="bold">GH</text>
<text x="887" y="2461.6" text-anchor="middle" font-weight="bold">SI</text>
</g>
<g id="panel-h">
<text x="1183" y="1817.6" font-weight="bold" font-size="31">h</text>
<text x="1646.5" y="1817.6" text-anchor="middle"><tspan font-weight="bold">Adult,</tspan> NORT</text>
<path d="M1361.9 1886.8V2358.3H1937.7M1361.9 1887.7H1351.7M1361.9 1911.23H1356.6M1361.9 1934.76H1356.6M1361.9 1958.29H1356.6M1361.9 1981.82H1356.6M1361.9 2005.35H1351.7M1361.9 2028.88H1356.6M1361.9 2052.41H1356.6M1361.9 2075.94H1356.6M1361.9 2099.47H1356.6M1361.9 2123H1351.7M1361.9 2146.53H1356.6M1361.9 2170.06H1356.6M1361.9 2193.59H1356.6M1361.9 2217.12H1356.6M1361.9 2240.65H1351.7M1361.9 2264.18H1356.6M1361.9 2287.71H1356.6M1361.9 2311.24H1356.6M1361.9 2334.77H1356.6M1361.9 2358.3H1351.7M1434.1 2358.3V2368.3M1555.6 2358.3V2368.3M1741.8 2358.3V2368.3M1863.6 2358.3V2368.3" fill="none" stroke="#000" stroke-width="1.8"/>
<text x="1341" y="1900.3" text-anchor="end">1.0</text>
<text x="1341" y="2017.85" text-anchor="end">0.5</text>
<text x="1341" y="2135.3" text-anchor="end">0.0</text>
<text x="1341" y="2250.65" text-anchor="end">−0.5</text>
<text x="1341" y="2368.9" text-anchor="end">−1.0</text>
<text x="1259.8" y="2120.3" text-anchor="middle" font-size="32.1" transform="rotate(-90 1259.8 2120.3)">Discrimination index</text>
<path d="M1440.53 2033.3L1549.17 1926.82M1442 2061.79L1547.7 2004.16M1442.16 2062.1L1547.54 2009.73M1443.06 2075.38L1546.64 2085.67M1440.75 2068.43L1548.95 1969.86M1440.91 2074.47L1548.79 1981.09M1439.56 2082.09L1550.14 1937.07M1441.03 2088.87L1548.67 1999.72M1441.6 2163.44L1548.1 2092.87M1438.4 2176.94L1551.3 1969.19M1438.93 2189.32L1550.77 2013.32M1437.91 2206.88L1551.79 1963.56M1437.97 2222.33L1551.73 1983.33" fill="none" stroke="#8e8e8e" stroke-width="1.05"/>
<g fill="#fff" stroke="#000" stroke-width="1.9"><circle cx="1434.1" cy="2039.6" r="5.4"/><circle cx="1434.1" cy="2066.1" r="5.4"/><circle cx="1434.1" cy="2074.49" r="5.4"/><circle cx="1434.1" cy="2080.36" r="5.4"/><circle cx="1434.1" cy="2089.25" r="5.4"/><circle cx="1434.1" cy="2094.61" r="5.4"/><circle cx="1434.1" cy="2168.41" r="5.4"/><circle cx="1434.1" cy="2184.84" r="5.4"/><circle cx="1434.1" cy="2196.92" r="5.4"/><circle cx="1434.1" cy="2215.03" r="5.4"/><circle cx="1434.1" cy="2230.46" r="5.4"/><circle cx="1555.6" cy="1920.52" r="5.4"/><circle cx="1555.6" cy="1929.92" r="5.4"/><circle cx="1555.6" cy="1955.41" r="5.4"/><circle cx="1555.6" cy="1961.28" r="5.4"/><circle cx="1555.6" cy="1963.79" r="5.4"/><circle cx="1555.6" cy="1975.2" r="5.4"/><circle cx="1555.6" cy="1993.98" r="5.4"/><circle cx="1555.6" cy="1999.85" r="5.4"/><circle cx="1555.6" cy="2005.72" r="5.4"/><circle cx="1555.6" cy="2086.56" r="5.4"/><circle cx="1555.6" cy="2087.9" r="5.4"/></g>
<path d="M1398.3 2104.17H1469.9M1398.3 2122.62H1469.9M1398.3 2140.9H1469.9M1434.1 2104.17V2140.9M1519.8 1975.2H1591.4M1519.8 1989.29H1591.4M1519.8 2003.54H1591.4M1555.6 1975.2V2003.54" fill="none" stroke="#000" stroke-width="1.85"/>
<path d="M1749.35 2016.93L1856.05 1947.73M1748.67 2050.22L1856.73 1958.71M1750.38 2053.32L1855.02 2020.18M1749.09 2097.73L1856.31 2020.22M1750.32 2100.09L1855.08 2064.31M1750.76 2111.38L1854.64 2121.11M1748.79 2119.96L1856.61 2032.36M1750.59 2131.25L1854.81 2108.29M1746.53 2132.24L1858.87 1950.49M1747.74 2135.65L1857.66 2010.47M1747.07 2146.02L1858.33 1992.05M1747.45 2158.89L1857.95 2021.95M1747.41 2172.27L1857.99 2033.72" fill="none" stroke="#8e8e8e" stroke-width="1.1" stroke-dasharray="6.5 2.6"/>
<g fill="#000"><circle cx="1741.8" cy="2021.82" r="6.6"/><circle cx="1741.8" cy="2056.04" r="6.6"/><circle cx="1741.8" cy="2062.75" r="6.6"/><circle cx="1741.8" cy="2103" r="6.6"/><circle cx="1741.8" cy="2110.55" r="6.6"/><circle cx="1741.8" cy="2125.64" r="6.6"/><circle cx="1741.8" cy="2139.9" r="6.6"/><circle cx="1741.8" cy="2142.41" r="6.6"/><circle cx="1741.8" cy="2153.31" r="6.6"/><circle cx="1741.8" cy="2165.89" r="6.6"/><circle cx="1741.8" cy="2179.31" r="6.6"/><circle cx="1741.8" cy="2185.18" r="6.6"/><circle cx="1863.6" cy="1935.28" r="6.6"/><circle cx="1863.6" cy="1942.83" r="6.6"/><circle cx="1863.6" cy="1952.89" r="6.6"/><circle cx="1863.6" cy="1980.57" r="6.6"/><circle cx="1863.6" cy="1984.76" r="6.6"/><circle cx="1863.6" cy="2003.71" r="6.6"/><circle cx="1863.6" cy="2014.95" r="6.6"/><circle cx="1863.6" cy="2017.46" r="6.6"/><circle cx="1863.6" cy="2026.69" r="6.6"/><circle cx="1863.6" cy="2061.4" r="6.6"/><circle cx="1863.6" cy="2106.35" r="6.6"/><circle cx="1863.6" cy="2121.95" r="6.6"/></g>
<path d="M1706 2106.18H1777.6M1706 2119.77H1777.6M1706 2133.35H1777.6M1741.8 2106.18V2133.35M1827.8 1996.67H1899.4M1827.8 2012.77H1899.4M1827.8 2028.87H1899.4M1863.6 1996.67V2028.87" fill="none" stroke="#000" stroke-width="1.85"/>
<line x1="1435" y1="1872.4" x2="1555.6" y2="1872.4" stroke-width="1.9" stroke="#000"/>
<text x="1494.5" y="1872" text-anchor="middle" font-size="31">***</text>
<line x1="1739.5" y1="1872.4" x2="1863.6" y2="1872.4" stroke-width="1.9" stroke="#000"/>
<text x="1806" y="1872" text-anchor="middle" font-size="31">***</text>
<text x="1434" y="2412" text-anchor="middle">Learning</text>
<text x="1555.5" y="2412" text-anchor="middle" word-spacing="4.7">Test 3</text>
<text x="1741" y="2412" text-anchor="middle">Learning</text>
<text x="1863.5" y="2412" text-anchor="middle" word-spacing="4.7">Test 3</text>
<text x="1491.5" y="2470" text-anchor="middle" font-weight="bold">GH</text>
<text x="1797.5" y="2470" text-anchor="middle" font-weight="bold">SI</text>
</g>
</svg>
</body></html>
